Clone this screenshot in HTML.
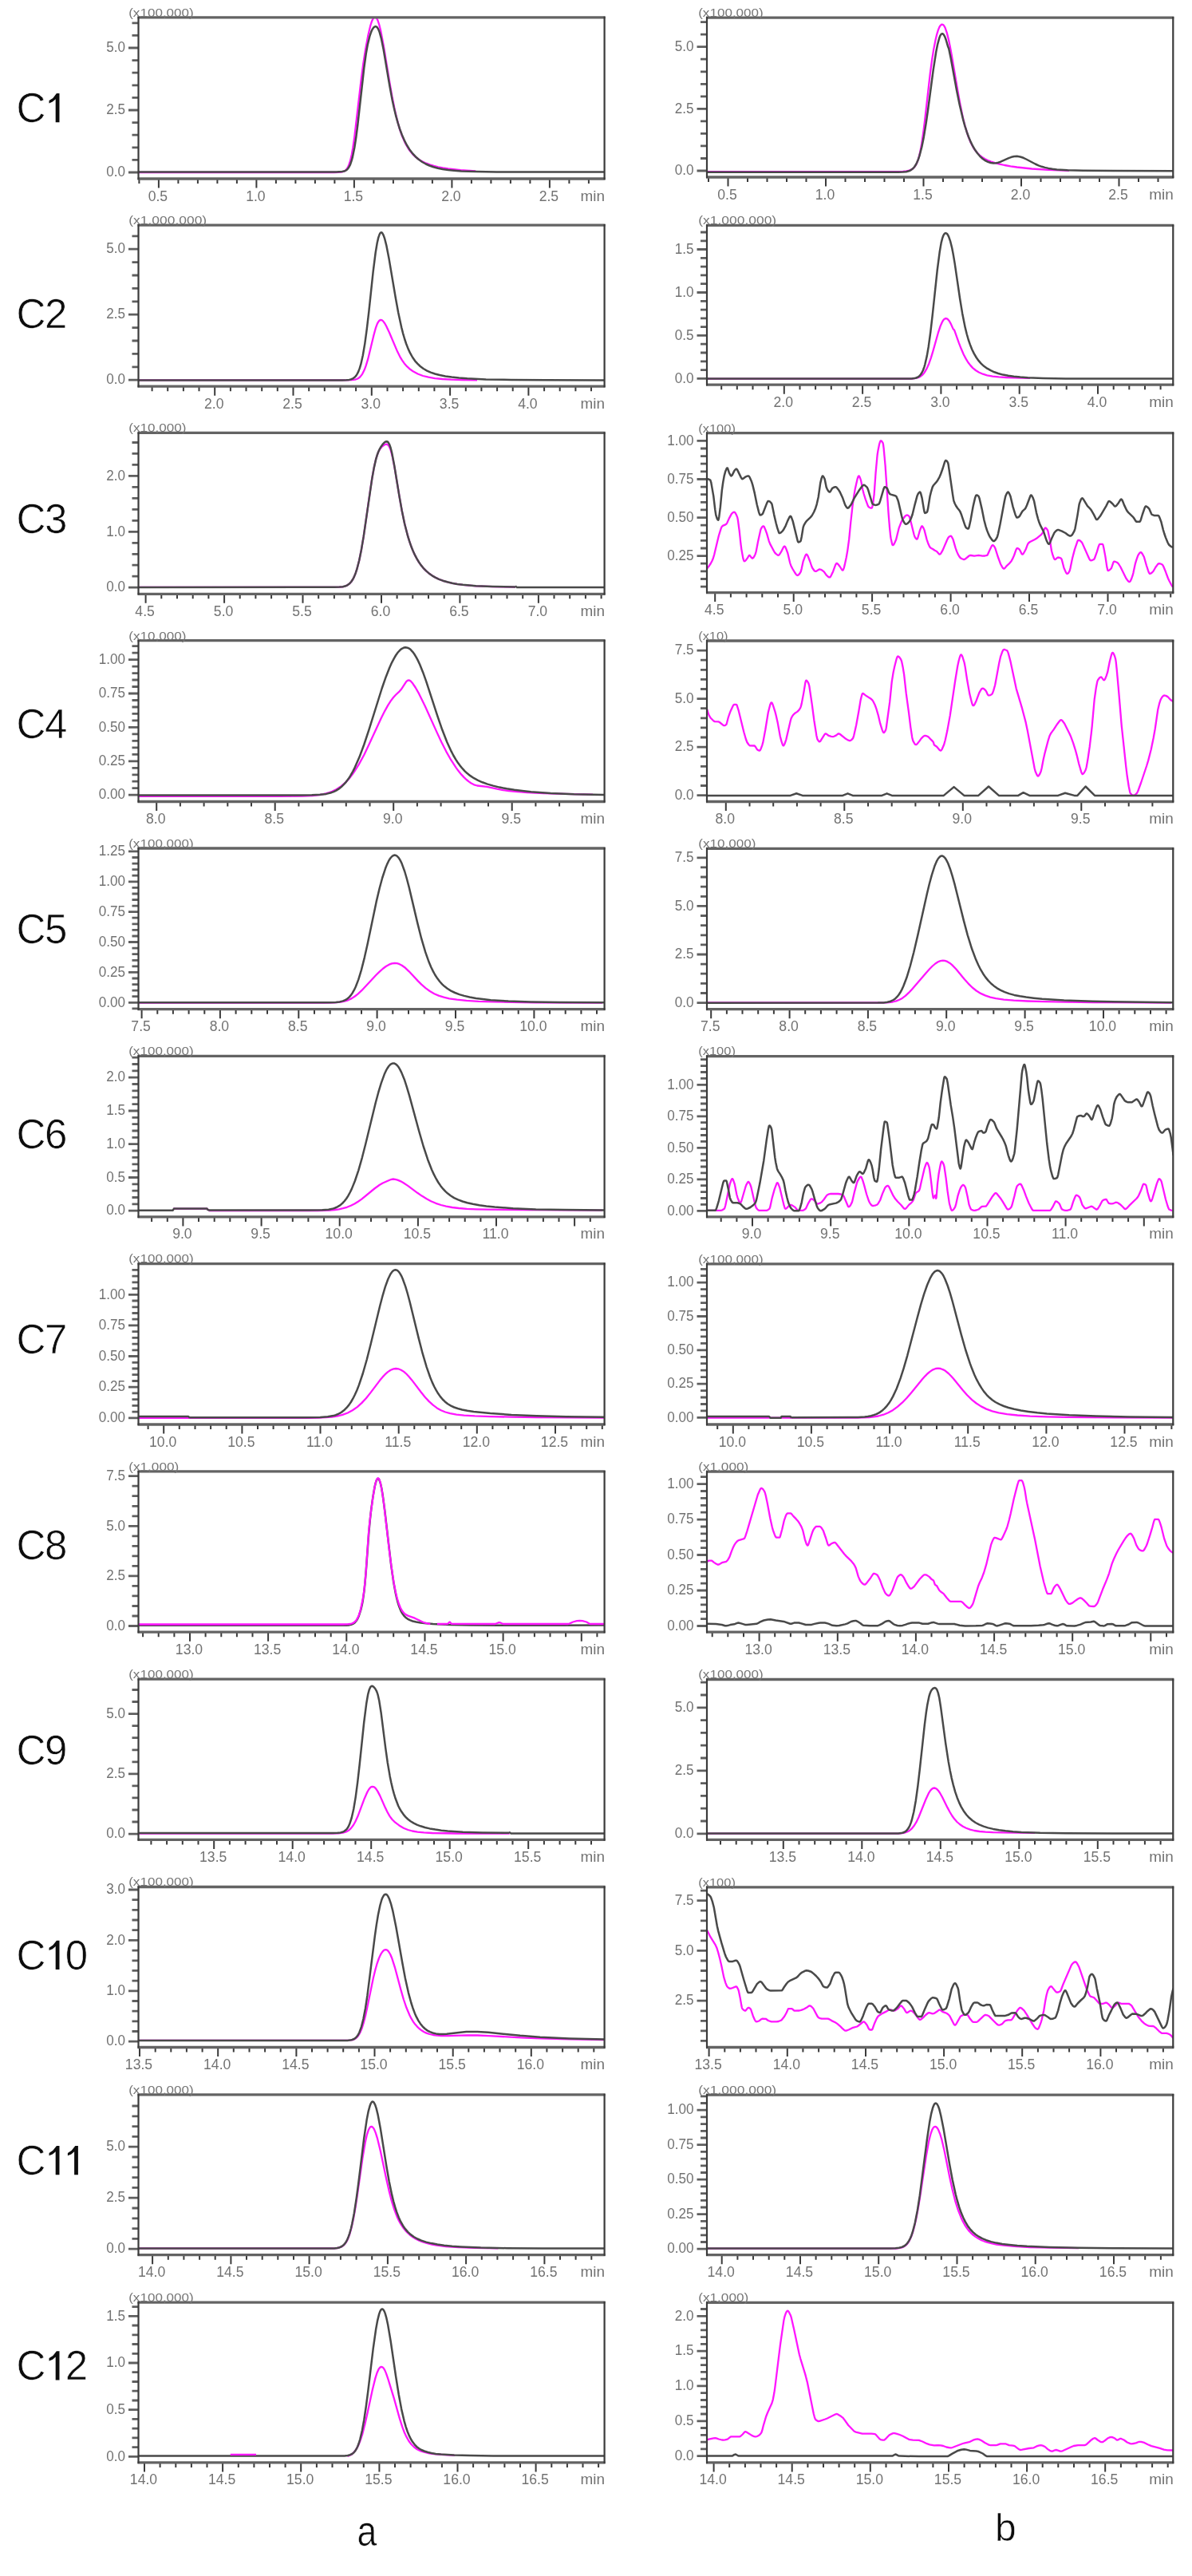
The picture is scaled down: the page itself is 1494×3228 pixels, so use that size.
<!DOCTYPE html><html><head><meta charset="utf-8"><style>html,body{margin:0;padding:0;background:#fff;}svg{display:block;}text{font-family:"Liberation Sans",sans-serif;}.ax{}.big{fill:#111;stroke:#fff;stroke-width:0.6px;paint-order:normal;}</style></head><body>
<svg width="1494" height="3228" viewBox="0 0 1494 3228">
<defs><filter id="soft" x="0" y="0" width="100%" height="100%" filterUnits="userSpaceOnUse"><feGaussianBlur stdDeviation="0.55"/></filter></defs>
<rect width="1494" height="3228" fill="#fff"/>
<g filter="url(#soft)">
<text class="big" x="20.6" y="153.3" font-size="51">C</text>
<path d="M70.9 117.1 L74.5 117.1 L74.5 153.3 L69.7 153.3 L69.7 124.3 L65.9 127.6 L61.5 129.4 L61.5 126.0 L66.3 122.9Z" fill="#111"/>
<text class="big" x="20.6" y="410.5" font-size="51">C</text>
<text class="big" x="56.0" y="410.5" font-size="51">2</text>
<text class="big" x="20.6" y="667.7" font-size="51">C</text>
<text class="big" x="56.0" y="667.7" font-size="51">3</text>
<text class="big" x="20.6" y="924.9" font-size="51">C</text>
<text class="big" x="56.0" y="924.9" font-size="51">4</text>
<text class="big" x="20.6" y="1182.1" font-size="51">C</text>
<text class="big" x="56.0" y="1182.1" font-size="51">5</text>
<text class="big" x="20.6" y="1439.2" font-size="51">C</text>
<text class="big" x="56.0" y="1439.2" font-size="51">6</text>
<text class="big" x="20.6" y="1696.4" font-size="51">C</text>
<text class="big" x="56.0" y="1696.4" font-size="51">7</text>
<text class="big" x="20.6" y="1953.6" font-size="51">C</text>
<text class="big" x="56.0" y="1953.6" font-size="51">8</text>
<text class="big" x="20.6" y="2210.8" font-size="51">C</text>
<text class="big" x="56.0" y="2210.8" font-size="51">9</text>
<text class="big" x="20.6" y="2468.0" font-size="51">C</text>
<path d="M70.9 2431.8 L74.5 2431.8 L74.5 2468.0 L69.7 2468.0 L69.7 2439.1 L65.9 2442.3 L61.5 2444.1 L61.5 2440.7 L66.3 2437.6Z" fill="#111"/>
<text class="big" x="81.8" y="2468.0" font-size="51">0</text>
<text class="big" x="20.6" y="2725.2" font-size="51">C</text>
<path d="M70.9 2689.0 L74.5 2689.0 L74.5 2725.2 L69.7 2725.2 L69.7 2696.2 L65.9 2699.5 L61.5 2701.3 L61.5 2697.9 L66.3 2694.8Z" fill="#111"/>
<path d="M94.3 2689.0 L97.9 2689.0 L97.9 2725.2 L93.1 2725.2 L93.1 2696.2 L89.3 2699.5 L84.9 2701.3 L84.9 2697.9 L89.7 2694.8Z" fill="#111"/>
<text class="big" x="20.6" y="2982.4" font-size="51">C</text>
<path d="M70.9 2946.2 L74.5 2946.2 L74.5 2982.4 L69.7 2982.4 L69.7 2953.4 L65.9 2956.7 L61.5 2958.5 L61.5 2955.1 L66.3 2952.0Z" fill="#111"/>
<text class="big" x="81.8" y="2982.4" font-size="51">2</text>
<clipPath id="c0_0"><rect x="173.5" y="21.8" width="584.1" height="202.2"/></clipPath>
<path d="M161.0 216.0H173.5M165.5 200.4H173.5M165.5 184.8H173.5M165.5 169.2H173.5M165.5 153.6H173.5M161.0 138.0H173.5M165.5 122.4H173.5M165.5 106.8H173.5M165.5 91.2H173.5M165.5 75.6H173.5M161.0 60.0H173.5M165.5 44.4H173.5M165.5 28.8H173.5" stroke="#5e5e5e" stroke-width="2.8" fill="none"/>
<text class="ax" x="157.0" y="221.2" font-size="18" fill="#727272" text-anchor="end" textLength="23.8" lengthAdjust="spacingAndGlyphs">0.0</text>
<text class="ax" x="157.0" y="143.2" font-size="18" fill="#727272" text-anchor="end" textLength="23.8" lengthAdjust="spacingAndGlyphs">2.5</text>
<text class="ax" x="157.0" y="65.2" font-size="18" fill="#727272" text-anchor="end" textLength="23.8" lengthAdjust="spacingAndGlyphs">5.0</text>
<path d="M174.4 224.0V230.0M198.9 224.0V235.5M223.4 224.0V230.0M247.9 224.0V230.0M272.4 224.0V230.0M296.9 224.0V230.0M321.4 224.0V235.5M345.9 224.0V230.0M370.4 224.0V230.0M394.9 224.0V230.0M419.4 224.0V230.0M443.9 224.0V235.5M468.4 224.0V230.0M492.9 224.0V230.0M517.4 224.0V230.0M541.9 224.0V230.0M566.4 224.0V235.5M590.9 224.0V230.0M615.4 224.0V230.0M639.9 224.0V230.0M664.4 224.0V230.0M688.9 224.0V235.5M713.4 224.0V230.0M737.9 224.0V230.0" stroke="#3a3a3a" stroke-width="2.0" fill="none"/>
<text class="ax" x="197.9" y="251.5" font-size="18" fill="#727272" text-anchor="middle" textLength="24.5" lengthAdjust="spacingAndGlyphs">0.5</text>
<text class="ax" x="320.4" y="251.5" font-size="18" fill="#727272" text-anchor="middle" textLength="24.5" lengthAdjust="spacingAndGlyphs">1.0</text>
<text class="ax" x="442.9" y="251.5" font-size="18" fill="#727272" text-anchor="middle" textLength="24.5" lengthAdjust="spacingAndGlyphs">1.5</text>
<text class="ax" x="565.4" y="251.5" font-size="18" fill="#727272" text-anchor="middle" textLength="24.5" lengthAdjust="spacingAndGlyphs">2.0</text>
<text class="ax" x="687.9" y="251.5" font-size="18" fill="#727272" text-anchor="middle" textLength="24.5" lengthAdjust="spacingAndGlyphs">2.5</text>
<text x="758.1" y="251.5" font-size="18" fill="#727272" text-anchor="end" textLength="30.5" lengthAdjust="spacingAndGlyphs">min</text>
<g clip-path="url(#c0_0)"><path d="M173.0 216.0L418.8 216.0L424.3 215.9L427.8 215.6L430.3 215.0L432.3 214.1L433.8 212.8L434.8 211.6L436.8 208.0L438.8 202.2L440.8 193.7L442.3 185.2L444.3 171.3L452.8 98.6L455.3 79.9L458.3 60.7L461.3 44.6L464.3 32.0L465.8 27.3L467.3 23.9L468.8 21.9L469.8 21.4L470.8 21.6L471.3 22.0L472.3 23.3L473.3 25.2L475.3 31.0L477.3 39.1L480.8 57.4L487.8 100.2L491.3 120.3L494.8 137.8L497.8 150.4L500.7 161.0L504.2 171.0L507.7 178.9L511.7 186.0L514.2 189.5L517.2 193.1L520.2 196.1L523.2 198.5L526.7 200.9L530.2 202.9L534.2 204.7L538.7 206.4L543.7 207.9L549.2 209.3L555.2 210.4L561.7 211.4L577.2 213.1L596.2 214.3" stroke="#ff14ff" stroke-width="2.3" fill="none" stroke-linejoin="round"/><path d="M173.0 215.5L421.3 215.5L428.8 215.1L431.3 214.6L433.3 213.7L435.3 212.2L436.8 210.3L438.3 207.7L439.3 205.4L440.8 200.9L441.8 197.2L444.3 185.0L446.3 172.1L448.3 156.5L456.3 85.0L458.8 67.1L460.8 56.0L463.3 45.7L464.3 42.6L465.7 38.8L466.7 36.8L468.2 34.6L469.7 33.4L470.7 33.1L471.7 33.4L472.7 34.2L474.2 36.6L475.7 40.4L477.7 47.6L480.7 62.3L488.2 106.8L491.7 125.5L493.7 134.8L496.2 145.2L498.7 154.2L501.2 162.0L503.7 168.7L506.7 175.6L509.7 181.5L513.2 187.2L516.7 191.8L520.7 196.2L524.7 199.8L529.2 203.0L533.7 205.5L538.2 207.5L543.2 209.2L548.7 210.7L554.7 211.9L561.7 213.0L569.2 213.7L578.2 214.4L596.6 215.0L622.6 215.4L757.0 215.5" stroke="#4a4a4a" stroke-width="2.5" fill="none" stroke-linejoin="round"/></g>
<path d="M172.5 21.8H758.6M172.5 224.0H758.6" stroke="#646464" stroke-width="3.3" fill="none"/>
<path d="M173.5 20.8V225.0M757.6 20.8V225.0" stroke="#3a3a3a" stroke-width="2.2" fill="none"/>
<text x="161.2" y="20.6" font-size="14" fill="#777" textLength="81.6" lengthAdjust="spacingAndGlyphs">(x100,000)</text>
<clipPath id="c0_1"><rect x="886.0" y="22.1" width="584.3" height="199.9"/></clipPath>
<path d="M873.5 214.0H886.0M878.0 198.5H886.0M878.0 182.9H886.0M878.0 167.4H886.0M878.0 151.9H886.0M873.5 136.4H886.0M878.0 120.8H886.0M878.0 105.3H886.0M878.0 89.8H886.0M878.0 74.2H886.0M873.5 58.7H886.0M878.0 43.2H886.0M878.0 27.6H886.0" stroke="#5e5e5e" stroke-width="2.8" fill="none"/>
<text class="ax" x="869.5" y="219.2" font-size="18" fill="#727272" text-anchor="end" textLength="23.8" lengthAdjust="spacingAndGlyphs">0.0</text>
<text class="ax" x="869.5" y="141.6" font-size="18" fill="#727272" text-anchor="end" textLength="23.8" lengthAdjust="spacingAndGlyphs">2.5</text>
<text class="ax" x="869.5" y="63.9" font-size="18" fill="#727272" text-anchor="end" textLength="23.8" lengthAdjust="spacingAndGlyphs">5.0</text>
<path d="M888.0 222.0V228.0M912.5 222.0V233.5M937.0 222.0V228.0M961.5 222.0V228.0M986.0 222.0V228.0M1010.5 222.0V228.0M1035.0 222.0V233.5M1059.5 222.0V228.0M1084.0 222.0V228.0M1108.5 222.0V228.0M1133.0 222.0V228.0M1157.5 222.0V233.5M1182.0 222.0V228.0M1206.5 222.0V228.0M1231.0 222.0V228.0M1255.5 222.0V228.0M1280.0 222.0V233.5M1304.5 222.0V228.0M1329.0 222.0V228.0M1353.5 222.0V228.0M1378.0 222.0V228.0M1402.5 222.0V233.5M1427.0 222.0V228.0M1451.5 222.0V228.0" stroke="#3a3a3a" stroke-width="2.0" fill="none"/>
<text class="ax" x="911.5" y="249.5" font-size="18" fill="#727272" text-anchor="middle" textLength="24.5" lengthAdjust="spacingAndGlyphs">0.5</text>
<text class="ax" x="1034.0" y="249.5" font-size="18" fill="#727272" text-anchor="middle" textLength="24.5" lengthAdjust="spacingAndGlyphs">1.0</text>
<text class="ax" x="1156.5" y="249.5" font-size="18" fill="#727272" text-anchor="middle" textLength="24.5" lengthAdjust="spacingAndGlyphs">1.5</text>
<text class="ax" x="1279.0" y="249.5" font-size="18" fill="#727272" text-anchor="middle" textLength="24.5" lengthAdjust="spacingAndGlyphs">2.0</text>
<text class="ax" x="1401.5" y="249.5" font-size="18" fill="#727272" text-anchor="middle" textLength="24.5" lengthAdjust="spacingAndGlyphs">2.5</text>
<text x="1470.8" y="249.5" font-size="18" fill="#727272" text-anchor="end" textLength="30.5" lengthAdjust="spacingAndGlyphs">min</text>
<g clip-path="url(#c0_1)"><path d="M886.0 215.1L1125.2 215.1L1131.7 214.9L1136.2 214.4L1139.7 213.6L1142.7 212.3L1144.7 210.8L1146.2 209.2L1147.7 207.1L1148.7 205.2L1150.2 201.6L1151.2 198.6L1153.2 190.8L1155.2 180.1L1157.2 166.4L1159.2 150.3L1165.7 93.0L1168.2 74.4L1170.2 61.9L1172.7 49.2L1174.2 43.1L1175.7 38.2L1177.2 34.4L1178.2 32.6L1179.7 30.9L1180.7 30.6L1181.7 30.8L1182.7 31.7L1183.7 33.1L1184.7 35.1L1186.7 40.9L1188.7 48.6L1190.7 58.0L1192.7 68.7L1200.2 112.9L1203.2 129.4L1206.6 146.2L1209.6 158.3L1213.1 169.7L1216.6 178.5L1218.6 182.5L1220.6 186.0L1222.6 188.8L1224.6 191.3L1227.6 194.3L1230.6 196.7L1234.1 199.0L1237.6 200.7L1242.1 202.6L1247.1 204.2L1252.6 205.6L1259.1 207.0L1266.6 208.4L1274.6 209.5L1293.1 211.5L1314.5 212.9L1340.0 213.9" stroke="#ff14ff" stroke-width="2.3" fill="none" stroke-linejoin="round"/><path d="M886.0 215.8L1125.8 215.8L1131.8 215.6L1135.8 215.2L1139.3 214.3L1141.8 213.1L1143.8 211.6L1145.8 209.5L1147.8 206.5L1149.3 203.6L1150.8 200.0L1152.3 195.6L1155.3 184.2L1157.8 171.9L1160.8 153.6L1163.3 136.0L1169.8 87.2L1173.3 64.7L1175.3 54.8L1177.3 47.6L1178.2 45.1L1179.2 43.4L1180.2 42.4L1181.2 42.2L1181.7 42.4L1182.7 43.3L1184.2 45.9L1185.7 50.0L1188.2 58.6L1189.2 61.0L1191.7 73.1L1199.2 113.9L1202.7 131.2L1207.2 150.1L1209.2 157.3L1211.7 165.2L1214.2 172.0L1216.7 177.9L1219.2 183.0L1222.2 188.1L1225.2 192.3L1228.2 195.8L1231.7 199.0L1235.2 201.4L1238.2 202.9L1241.7 204.0L1245.2 204.4L1248.7 204.2L1251.2 203.7L1254.2 202.7L1264.2 198.1L1267.7 196.8L1271.2 196.0L1274.7 195.8L1278.7 196.5L1282.7 197.8L1286.2 199.5L1297.6 205.5L1301.6 207.3L1305.6 208.8L1309.6 209.9L1314.1 210.9L1319.1 211.8L1324.6 212.4L1338.1 213.2L1357.6 213.7L1470.0 214.3" stroke="#4a4a4a" stroke-width="2.5" fill="none" stroke-linejoin="round"/></g>
<path d="M885.0 22.1H1471.3M885.0 222.0H1471.3" stroke="#646464" stroke-width="3.3" fill="none"/>
<path d="M886.0 21.1V223.0M1470.3 21.1V223.0" stroke="#3a3a3a" stroke-width="2.2" fill="none"/>
<text x="875.2" y="20.9" font-size="14" fill="#777" textLength="81.6" lengthAdjust="spacingAndGlyphs">(x100,000)</text>
<clipPath id="c1_0"><rect x="173.5" y="282.1" width="584.1" height="202.1"/></clipPath>
<path d="M161.0 476.2H173.5M165.5 459.8H173.5M165.5 443.4H173.5M165.5 427.0H173.5M165.5 410.6H173.5M161.0 394.2H173.5M165.5 377.8H173.5M165.5 361.4H173.5M165.5 345.0H173.5M165.5 328.6H173.5M161.0 312.2H173.5M165.5 295.8H173.5" stroke="#5e5e5e" stroke-width="2.8" fill="none"/>
<text class="ax" x="157.0" y="481.4" font-size="18" fill="#727272" text-anchor="end" textLength="23.8" lengthAdjust="spacingAndGlyphs">0.0</text>
<text class="ax" x="157.0" y="399.4" font-size="18" fill="#727272" text-anchor="end" textLength="23.8" lengthAdjust="spacingAndGlyphs">2.5</text>
<text class="ax" x="157.0" y="317.4" font-size="18" fill="#727272" text-anchor="end" textLength="23.8" lengthAdjust="spacingAndGlyphs">5.0</text>
<path d="M190.6 484.2V490.2M210.2 484.2V490.2M229.9 484.2V490.2M249.5 484.2V490.2M269.2 484.2V495.7M288.9 484.2V490.2M308.5 484.2V490.2M328.2 484.2V490.2M347.8 484.2V490.2M367.5 484.2V495.7M387.2 484.2V490.2M406.8 484.2V490.2M426.5 484.2V490.2M446.1 484.2V490.2M465.8 484.2V495.7M485.5 484.2V490.2M505.1 484.2V490.2M524.8 484.2V490.2M544.4 484.2V490.2M564.1 484.2V495.7M583.8 484.2V490.2M603.4 484.2V490.2M623.1 484.2V490.2M642.7 484.2V490.2M662.4 484.2V495.7M682.1 484.2V490.2M701.7 484.2V490.2M721.4 484.2V490.2M741.0 484.2V490.2" stroke="#3a3a3a" stroke-width="2.0" fill="none"/>
<text class="ax" x="268.2" y="511.7" font-size="18" fill="#727272" text-anchor="middle" textLength="24.5" lengthAdjust="spacingAndGlyphs">2.0</text>
<text class="ax" x="366.5" y="511.7" font-size="18" fill="#727272" text-anchor="middle" textLength="24.5" lengthAdjust="spacingAndGlyphs">2.5</text>
<text class="ax" x="464.8" y="511.7" font-size="18" fill="#727272" text-anchor="middle" textLength="24.5" lengthAdjust="spacingAndGlyphs">3.0</text>
<text class="ax" x="563.1" y="511.7" font-size="18" fill="#727272" text-anchor="middle" textLength="24.5" lengthAdjust="spacingAndGlyphs">3.5</text>
<text class="ax" x="661.4" y="511.7" font-size="18" fill="#727272" text-anchor="middle" textLength="24.5" lengthAdjust="spacingAndGlyphs">4.0</text>
<text x="758.1" y="511.7" font-size="18" fill="#727272" text-anchor="end" textLength="30.5" lengthAdjust="spacingAndGlyphs">min</text>
<g clip-path="url(#c1_0)"><path d="M173.0 476.4L432.2 476.4L440.7 476.2L445.2 475.6L447.2 475.0L448.7 474.3L450.2 473.3L451.7 471.9L454.2 468.6L456.7 463.6L458.7 458.2L461.2 449.9L468.2 420.9L471.1 410.3L472.6 406.3L474.1 403.4L475.6 401.6L477.1 400.9L478.6 401.2L480.1 402.4L482.1 405.0L484.1 408.5L488.1 417.0L498.1 440.6L501.1 446.6L503.6 450.9L506.6 455.2L510.1 459.2L514.1 462.8L518.1 465.6L523.6 468.5L530.1 471.0L537.1 472.7L545.1 474.1L554.6 475.0L565.5 475.7L579.5 476.1L598.0 476.3" stroke="#ff14ff" stroke-width="2.3" fill="none" stroke-linejoin="round"/><path d="M173.0 476.4L428.8 476.4L434.3 476.2L437.8 475.9L440.3 475.2L442.8 474.1L444.8 472.5L446.3 470.8L447.8 468.4L449.3 465.4L450.8 461.4L452.3 456.4L454.8 445.3L457.3 430.6L459.8 412.2L462.3 390.8L467.7 340.2L470.7 316.5L472.7 304.5L474.2 297.9L475.7 293.6L476.7 291.9L477.7 291.3L478.2 291.3L479.2 292.1L480.7 294.8L482.2 299.2L484.2 307.1L487.7 325.1L495.7 372.5L499.2 391.7L503.2 410.3L505.2 418.1L507.2 425.0L509.2 431.0L511.7 437.4L514.2 442.7L517.2 448.0L520.2 452.3L523.2 455.7L526.7 459.0L530.7 462.0L535.2 464.6L539.7 466.6L545.2 468.5L551.2 470.0L558.2 471.4L566.2 472.5L575.2 473.5L585.6 474.3L609.1 475.4L640.6 476.0L683.6 476.3L757.0 476.4" stroke="#4a4a4a" stroke-width="2.5" fill="none" stroke-linejoin="round"/></g>
<path d="M172.5 282.1H758.6M172.5 484.2H758.6" stroke="#646464" stroke-width="3.3" fill="none"/>
<path d="M173.5 281.1V485.2M757.6 281.1V485.2" stroke="#3a3a3a" stroke-width="2.2" fill="none"/>
<text x="161.2" y="280.9" font-size="14" fill="#777" textLength="98.0" lengthAdjust="spacingAndGlyphs">(x1,000,000)</text>
<clipPath id="c1_1"><rect x="886.0" y="282.4" width="584.3" height="199.8"/></clipPath>
<path d="M873.5 474.4H886.0M878.0 463.6H886.0M878.0 452.8H886.0M878.0 442.0H886.0M878.0 431.2H886.0M873.5 420.4H886.0M878.0 409.7H886.0M878.0 398.9H886.0M878.0 388.1H886.0M878.0 377.3H886.0M873.5 366.5H886.0M878.0 355.7H886.0M878.0 344.9H886.0M878.0 334.1H886.0M878.0 323.3H886.0M873.5 312.5H886.0M878.0 301.8H886.0M878.0 291.0H886.0" stroke="#5e5e5e" stroke-width="2.8" fill="none"/>
<text class="ax" x="869.5" y="479.6" font-size="18" fill="#727272" text-anchor="end" textLength="23.8" lengthAdjust="spacingAndGlyphs">0.0</text>
<text class="ax" x="869.5" y="425.6" font-size="18" fill="#727272" text-anchor="end" textLength="23.8" lengthAdjust="spacingAndGlyphs">0.5</text>
<text class="ax" x="869.5" y="371.7" font-size="18" fill="#727272" text-anchor="end" textLength="23.8" lengthAdjust="spacingAndGlyphs">1.0</text>
<text class="ax" x="869.5" y="317.7" font-size="18" fill="#727272" text-anchor="end" textLength="23.8" lengthAdjust="spacingAndGlyphs">1.5</text>
<path d="M904.2 482.2V488.2M923.8 482.2V488.2M943.5 482.2V488.2M963.1 482.2V488.2M982.8 482.2V493.7M1002.5 482.2V488.2M1022.1 482.2V488.2M1041.8 482.2V488.2M1061.4 482.2V488.2M1081.1 482.2V493.7M1100.8 482.2V488.2M1120.4 482.2V488.2M1140.1 482.2V488.2M1159.7 482.2V488.2M1179.4 482.2V493.7M1199.1 482.2V488.2M1218.7 482.2V488.2M1238.4 482.2V488.2M1258.0 482.2V488.2M1277.7 482.2V493.7M1297.4 482.2V488.2M1317.0 482.2V488.2M1336.7 482.2V488.2M1356.3 482.2V488.2M1376.0 482.2V493.7M1395.7 482.2V488.2M1415.3 482.2V488.2M1435.0 482.2V488.2M1454.6 482.2V488.2" stroke="#3a3a3a" stroke-width="2.0" fill="none"/>
<text class="ax" x="981.8" y="509.7" font-size="18" fill="#727272" text-anchor="middle" textLength="24.5" lengthAdjust="spacingAndGlyphs">2.0</text>
<text class="ax" x="1080.1" y="509.7" font-size="18" fill="#727272" text-anchor="middle" textLength="24.5" lengthAdjust="spacingAndGlyphs">2.5</text>
<text class="ax" x="1178.4" y="509.7" font-size="18" fill="#727272" text-anchor="middle" textLength="24.5" lengthAdjust="spacingAndGlyphs">3.0</text>
<text class="ax" x="1276.7" y="509.7" font-size="18" fill="#727272" text-anchor="middle" textLength="24.5" lengthAdjust="spacingAndGlyphs">3.5</text>
<text class="ax" x="1375.0" y="509.7" font-size="18" fill="#727272" text-anchor="middle" textLength="24.5" lengthAdjust="spacingAndGlyphs">4.0</text>
<text x="1470.8" y="509.7" font-size="18" fill="#727272" text-anchor="end" textLength="30.5" lengthAdjust="spacingAndGlyphs">min</text>
<g clip-path="url(#c1_1)"><path d="M886.0 474.7L1133.8 474.7L1143.3 474.5L1146.3 474.2L1148.8 473.7L1150.8 473.1L1152.8 472.2L1155.8 470.1L1157.3 468.5L1158.8 466.6L1161.8 461.4L1164.3 455.7L1166.8 448.6L1169.3 440.3L1175.8 417.2L1178.8 408.2L1180.8 403.7L1182.3 401.2L1183.3 400.1L1184.3 399.3L1185.8 399.0L1186.8 399.3L1187.8 399.9L1189.8 402.3L1191.8 405.9L1194.8 412.6L1195.8 413.2L1196.3 414.2L1201.8 429.6L1204.8 437.3L1207.8 444.2L1210.8 449.9L1213.3 454.0L1216.3 457.9L1219.3 461.1L1222.8 464.0L1226.8 466.5L1231.8 468.7L1237.2 470.3L1244.2 471.6L1251.7 472.4L1261.2 473.0L1291.2 473.8" stroke="#ff14ff" stroke-width="2.3" fill="none" stroke-linejoin="round"/><path d="M886.0 474.5L1137.3 474.5L1142.3 474.4L1145.8 474.1L1148.3 473.5L1150.8 472.3L1152.3 471.2L1153.8 469.5L1155.3 467.2L1156.8 464.2L1158.3 460.1L1159.3 456.8L1161.8 445.9L1163.8 434.2L1166.3 416.0L1168.8 394.3L1174.8 338.0L1177.8 315.2L1179.7 304.1L1181.2 298.3L1182.2 295.5L1183.2 293.6L1184.2 292.5L1185.2 292.1L1186.2 292.4L1187.2 293.3L1188.2 294.8L1189.2 296.9L1191.2 302.7L1193.2 310.8L1194.7 318.5L1196.7 330.4L1203.2 374.7L1206.2 392.9L1209.7 410.4L1211.7 418.5L1213.7 425.5L1215.7 431.4L1218.2 437.7L1220.7 442.9L1223.7 448.0L1226.7 452.2L1229.7 455.6L1233.2 458.8L1237.2 461.7L1241.7 464.2L1246.2 466.3L1251.2 468.0L1257.2 469.6L1263.7 470.8L1270.7 471.8L1278.7 472.6L1288.2 473.3L1307.6 474.0L1335.6 474.4L1470.0 474.5" stroke="#4a4a4a" stroke-width="2.5" fill="none" stroke-linejoin="round"/></g>
<path d="M885.0 282.4H1471.3M885.0 482.2H1471.3" stroke="#646464" stroke-width="3.3" fill="none"/>
<path d="M886.0 281.4V483.2M1470.3 281.4V483.2" stroke="#3a3a3a" stroke-width="2.2" fill="none"/>
<text x="875.2" y="281.2" font-size="14" fill="#777" textLength="98.0" lengthAdjust="spacingAndGlyphs">(x1,000,000)</text>
<clipPath id="c2_0"><rect x="173.5" y="542.4" width="584.1" height="201.9"/></clipPath>
<path d="M161.0 736.2H173.5M165.5 722.2H173.5M165.5 708.2H173.5M165.5 694.3H173.5M165.5 680.3H173.5M161.0 666.3H173.5M165.5 652.3H173.5M165.5 638.3H173.5M165.5 624.4H173.5M165.5 610.4H173.5M161.0 596.4H173.5M165.5 582.4H173.5M165.5 568.4H173.5M165.5 554.5H173.5" stroke="#5e5e5e" stroke-width="2.8" fill="none"/>
<text class="ax" x="157.0" y="741.4" font-size="18" fill="#727272" text-anchor="end" textLength="23.8" lengthAdjust="spacingAndGlyphs">0.0</text>
<text class="ax" x="157.0" y="671.5" font-size="18" fill="#727272" text-anchor="end" textLength="23.8" lengthAdjust="spacingAndGlyphs">1.0</text>
<text class="ax" x="157.0" y="601.6" font-size="18" fill="#727272" text-anchor="end" textLength="23.8" lengthAdjust="spacingAndGlyphs">2.0</text>
<path d="M182.6 744.3V755.8M202.3 744.3V750.3M222.0 744.3V750.3M241.7 744.3V750.3M261.4 744.3V750.3M281.1 744.3V755.8M300.7 744.3V750.3M320.4 744.3V750.3M340.1 744.3V750.3M359.8 744.3V750.3M379.5 744.3V755.8M399.2 744.3V750.3M418.9 744.3V750.3M438.6 744.3V750.3M458.3 744.3V750.3M478.0 744.3V755.8M497.6 744.3V750.3M517.3 744.3V750.3M537.0 744.3V750.3M556.7 744.3V750.3M576.4 744.3V755.8M596.1 744.3V750.3M615.8 744.3V750.3M635.5 744.3V750.3M655.2 744.3V750.3M674.9 744.3V755.8M694.5 744.3V750.3M714.2 744.3V750.3M733.9 744.3V750.3M753.6 744.3V750.3" stroke="#3a3a3a" stroke-width="2.0" fill="none"/>
<text class="ax" x="181.6" y="771.8" font-size="18" fill="#727272" text-anchor="middle" textLength="24.5" lengthAdjust="spacingAndGlyphs">4.5</text>
<text class="ax" x="280.1" y="771.8" font-size="18" fill="#727272" text-anchor="middle" textLength="24.5" lengthAdjust="spacingAndGlyphs">5.0</text>
<text class="ax" x="378.5" y="771.8" font-size="18" fill="#727272" text-anchor="middle" textLength="24.5" lengthAdjust="spacingAndGlyphs">5.5</text>
<text class="ax" x="477.0" y="771.8" font-size="18" fill="#727272" text-anchor="middle" textLength="24.5" lengthAdjust="spacingAndGlyphs">6.0</text>
<text class="ax" x="575.4" y="771.8" font-size="18" fill="#727272" text-anchor="middle" textLength="24.5" lengthAdjust="spacingAndGlyphs">6.5</text>
<text class="ax" x="673.9" y="771.8" font-size="18" fill="#727272" text-anchor="middle" textLength="24.5" lengthAdjust="spacingAndGlyphs">7.0</text>
<text x="758.1" y="771.8" font-size="18" fill="#727272" text-anchor="end" textLength="30.5" lengthAdjust="spacingAndGlyphs">min</text>
<g clip-path="url(#c2_0)"><path d="M173.0 735.9L418.7 735.9L425.2 735.7L429.2 735.3L432.7 734.5L435.7 733.1L438.2 731.2L440.2 729.0L442.2 726.0L443.7 723.1L445.7 718.2L447.2 713.7L450.2 702.3L452.7 690.1L455.7 672.5L464.2 613.3L466.7 597.3L469.2 583.7L471.2 575.2L473.7 567.6L474.7 565.3L476.2 562.7L478.2 560.2L480.2 558.5L482.2 557.2L484.2 556.7L485.2 556.9L486.2 557.5L487.2 558.6L488.2 560.3L489.7 564.2L491.7 571.6L494.7 586.8L500.7 622.9L504.1 642.1L507.6 658.3L511.6 673.4L513.6 679.7L516.1 686.6L518.1 691.4L520.6 696.7L523.1 701.3L525.6 705.3L528.1 708.8L531.1 712.4L534.6 715.9L538.1 718.8L542.1 721.6L546.1 723.9L550.6 726.0L555.6 727.8L561.1 729.5L567.1 730.8L573.1 731.9L580.1 732.8L596.6 734.3L617.5 735.2L646.0 735.6" stroke="#ff14ff" stroke-width="2.3" fill="none" stroke-linejoin="round"/><path d="M173.0 735.9L419.2 735.8L425.7 735.6L429.7 735.2L433.2 734.3L435.7 733.1L438.2 731.2L440.2 729.0L442.2 726.0L443.7 723.1L445.7 718.2L447.2 713.7L450.2 702.2L452.7 690.0L455.7 672.4L466.2 600.4L468.7 586.4L471.2 575.4L472.7 570.3L474.2 566.2L475.7 562.9L477.2 560.3L479.7 556.7L481.7 554.6L483.2 553.5L484.7 553.2L485.7 553.5L486.7 554.5L488.2 557.2L489.7 561.5L491.2 567.5L494.2 583.2L500.2 620.1L503.7 639.7L507.1 656.3L511.1 671.7L513.1 678.2L515.6 685.3L517.6 690.2L520.1 695.7L522.6 700.4L525.1 704.5L527.6 708.1L530.6 711.8L534.1 715.4L537.6 718.4L541.6 721.3L545.6 723.6L550.1 725.8L555.1 727.7L560.6 729.3L566.6 730.7L573.1 731.9L580.1 732.8L596.6 734.3L617.5 735.1L646.0 735.6" stroke="#4a4a4a" stroke-width="2.5" fill="none" stroke-linejoin="round"/><path d="M646.0 734.4L648.0 736.1L757.0 736.1" stroke="#4a4a4a" stroke-width="2.5" fill="none" stroke-linejoin="round"/></g>
<path d="M172.5 542.4H758.6M172.5 744.3H758.6" stroke="#646464" stroke-width="3.3" fill="none"/>
<path d="M173.5 541.4V745.3M757.6 541.4V745.3" stroke="#3a3a3a" stroke-width="2.2" fill="none"/>
<text x="161.2" y="541.2" font-size="14" fill="#777" textLength="72.3" lengthAdjust="spacingAndGlyphs">(x10,000)</text>
<clipPath id="c2_1"><rect x="886.0" y="542.7" width="584.3" height="199.9"/></clipPath>
<path d="M878.0 735.1H886.0M878.0 725.5H886.0M878.0 715.9H886.0M878.0 706.2H886.0M873.5 696.6H886.0M878.0 687.0H886.0M878.0 677.4H886.0M878.0 667.8H886.0M878.0 658.2H886.0M873.5 648.6H886.0M878.0 638.9H886.0M878.0 629.3H886.0M878.0 619.7H886.0M878.0 610.1H886.0M873.5 600.5H886.0M878.0 590.9H886.0M878.0 581.2H886.0M878.0 571.6H886.0M878.0 562.0H886.0M873.5 552.4H886.0" stroke="#5e5e5e" stroke-width="2.8" fill="none"/>
<text class="ax" x="869.5" y="701.8" font-size="18" fill="#727272" text-anchor="end" textLength="33.3" lengthAdjust="spacingAndGlyphs">0.25</text>
<text class="ax" x="869.5" y="653.8" font-size="18" fill="#727272" text-anchor="end" textLength="33.3" lengthAdjust="spacingAndGlyphs">0.50</text>
<text class="ax" x="869.5" y="605.7" font-size="18" fill="#727272" text-anchor="end" textLength="33.3" lengthAdjust="spacingAndGlyphs">0.75</text>
<text class="ax" x="869.5" y="557.6" font-size="18" fill="#727272" text-anchor="end" textLength="33.3" lengthAdjust="spacingAndGlyphs">1.00</text>
<path d="M896.2 742.6V754.1M915.9 742.6V748.6M935.6 742.6V748.6M955.3 742.6V748.6M975.0 742.6V748.6M994.7 742.6V754.1M1014.3 742.6V748.6M1034.0 742.6V748.6M1053.7 742.6V748.6M1073.4 742.6V748.6M1093.1 742.6V754.1M1112.8 742.6V748.6M1132.5 742.6V748.6M1152.2 742.6V748.6M1171.9 742.6V748.6M1191.6 742.6V754.1M1211.2 742.6V748.6M1230.9 742.6V748.6M1250.6 742.6V748.6M1270.3 742.6V748.6M1290.0 742.6V754.1M1309.7 742.6V748.6M1329.4 742.6V748.6M1349.1 742.6V748.6M1368.8 742.6V748.6M1388.5 742.6V754.1M1408.1 742.6V748.6M1427.8 742.6V748.6M1447.5 742.6V748.6M1467.2 742.6V748.6" stroke="#3a3a3a" stroke-width="2.0" fill="none"/>
<text class="ax" x="895.2" y="770.1" font-size="18" fill="#727272" text-anchor="middle" textLength="24.5" lengthAdjust="spacingAndGlyphs">4.5</text>
<text class="ax" x="993.7" y="770.1" font-size="18" fill="#727272" text-anchor="middle" textLength="24.5" lengthAdjust="spacingAndGlyphs">5.0</text>
<text class="ax" x="1092.1" y="770.1" font-size="18" fill="#727272" text-anchor="middle" textLength="24.5" lengthAdjust="spacingAndGlyphs">5.5</text>
<text class="ax" x="1190.6" y="770.1" font-size="18" fill="#727272" text-anchor="middle" textLength="24.5" lengthAdjust="spacingAndGlyphs">6.0</text>
<text class="ax" x="1289.0" y="770.1" font-size="18" fill="#727272" text-anchor="middle" textLength="24.5" lengthAdjust="spacingAndGlyphs">6.5</text>
<text class="ax" x="1387.5" y="770.1" font-size="18" fill="#727272" text-anchor="middle" textLength="24.5" lengthAdjust="spacingAndGlyphs">7.0</text>
<text x="1470.8" y="770.1" font-size="18" fill="#727272" text-anchor="end" textLength="30.5" lengthAdjust="spacingAndGlyphs">min</text>
<g clip-path="url(#c2_1)"><path d="M886.3 712.2L888.3 709.8L890.8 706.0L892.3 703.2L893.8 699.7L895.3 694.6L900.8 671.5L903.3 663.3L904.3 660.7L904.8 659.8L905.8 658.9L909.3 657.4L910.3 656.7L911.3 655.3L913.8 649.6L916.8 644.1L917.8 642.9L918.8 642.2L920.3 641.7L921.3 642.3L922.8 644.8L924.3 648.7L924.8 651.2L926.8 666.0L928.3 680.5L929.3 688.1L931.3 699.4L932.3 702.8L932.8 703.3L933.8 703.0L934.8 702.0L936.8 699.4L938.8 696.0L939.3 695.8L939.8 696.1L941.8 698.7L942.8 699.6L943.3 699.5L944.3 698.8L945.8 696.4L946.7 694.4L947.7 691.0L950.2 677.9L953.2 664.4L953.7 662.9L954.7 661.1L955.7 659.8L956.7 659.3L957.2 659.5L957.7 660.1L959.2 663.4L961.2 668.9L963.7 677.8L965.2 681.6L970.2 691.0L971.2 692.6L972.7 694.1L974.7 695.6L975.7 695.8L976.2 695.6L977.2 694.5L979.7 690.3L982.2 685.2L982.7 684.7L983.2 684.5L983.7 684.7L984.2 685.3L985.2 687.4L987.2 692.8L990.2 705.5L991.2 708.4L993.2 712.5L996.2 717.5L997.7 719.7L998.7 720.7L999.7 721.0L1000.7 720.5L1002.2 718.9L1003.7 716.4L1004.7 712.6L1006.7 703.3L1009.2 696.6L1010.2 694.9L1010.7 694.6L1011.2 694.7L1011.7 695.2L1012.7 697.1L1015.2 703.5L1017.2 709.5L1018.2 711.8L1020.7 715.2L1021.7 715.9L1022.7 715.9L1026.7 713.5L1027.7 713.5L1029.2 713.9L1030.7 714.8L1032.7 716.3L1035.7 720.6L1037.7 722.5L1039.2 723.4L1040.2 723.4L1040.7 722.9L1041.7 721.3L1044.2 715.9L1047.2 707.6L1048.2 706.1L1048.7 705.9L1049.2 706.0L1050.2 706.8L1052.7 710.0L1055.2 714.0L1055.7 714.5L1056.2 714.7L1056.7 714.3L1057.7 711.9L1058.7 707.9L1060.7 698.8L1062.2 690.3L1064.2 675.7L1066.2 655.0L1068.7 632.3L1070.2 621.9L1071.7 613.1L1074.7 599.8L1075.7 597.0L1076.2 596.4L1076.7 596.5L1077.2 597.2L1078.2 599.5L1079.2 602.6L1081.2 613.2L1082.7 619.0L1084.7 625.3L1087.7 633.6L1088.6 635.2L1090.1 636.1L1091.6 636.6L1092.6 636.7L1093.1 636.0L1094.1 631.3L1095.6 619.8L1097.6 592.0L1099.6 570.3L1100.6 563.9L1102.1 556.5L1103.1 553.3L1103.6 552.5L1104.1 552.4L1105.1 552.9L1106.6 555.2L1107.1 557.6L1107.6 561.6L1109.6 583.5L1113.6 643.7L1115.1 661.9L1116.1 671.5L1116.6 674.7L1118.1 681.5L1118.6 682.8L1119.1 683.2L1119.6 683.0L1120.6 681.8L1123.1 676.3L1126.6 661.9L1129.6 654.2L1131.1 651.3L1134.1 647.2L1135.6 645.8L1136.6 645.5L1137.1 645.5L1138.1 645.9L1139.1 646.6L1139.6 647.2L1140.1 648.4L1141.1 651.8L1145.6 670.0L1146.6 672.9L1147.6 674.4L1148.6 675.4L1149.1 675.7L1149.6 675.5L1150.1 674.7L1152.6 665.7L1154.1 661.7L1155.1 659.6L1155.6 659.3L1156.1 659.6L1157.1 661.0L1158.6 664.4L1161.6 676.1L1163.6 681.8L1165.1 685.0L1166.1 686.2L1167.1 686.9L1169.1 688.0L1171.6 689.8L1174.1 691.0L1177.1 694.4L1177.6 694.6L1178.6 694.2L1179.6 692.9L1181.6 689.4L1187.1 676.5L1188.6 673.6L1190.1 672.2L1191.6 671.6L1192.1 671.7L1192.6 672.2L1194.6 676.1L1197.6 686.6L1199.1 690.9L1200.6 694.4L1202.1 697.0L1203.6 699.0L1205.1 700.0L1207.6 701.0L1208.6 701.0L1209.6 700.6L1214.6 696.5L1215.6 696.0L1217.1 696.0L1221.1 696.7L1226.6 695.9L1231.5 696.7L1234.5 696.5L1237.0 695.9L1237.5 695.5L1238.0 694.8L1240.0 690.2L1243.0 684.1L1244.0 683.1L1244.5 683.2L1245.0 683.5L1246.0 684.6L1247.0 686.2L1247.5 687.3L1250.5 697.0L1254.0 706.7L1256.0 710.3L1257.0 711.8L1258.0 712.5L1258.5 712.5L1259.5 711.9L1262.0 708.8L1265.5 705.6L1267.5 703.2L1269.0 700.4L1271.0 696.0L1273.5 688.9L1274.5 687.1L1275.0 687.0L1275.5 687.1L1277.5 688.3L1278.5 689.8L1280.5 694.0L1281.0 694.6L1281.5 694.6L1282.0 694.4L1283.0 693.2L1285.5 688.8L1288.0 682.2L1289.0 680.5L1291.0 679.0L1297.0 676.0L1299.0 674.8L1304.5 670.4L1307.0 667.6L1309.5 662.0L1310.0 661.4L1310.5 661.4L1311.0 661.7L1312.0 662.8L1313.0 664.3L1313.5 665.7L1316.0 677.5L1318.0 690.3L1319.5 695.7L1321.0 699.7L1322.0 701.0L1322.5 701.0L1323.5 700.4L1325.0 699.0L1326.0 698.5L1328.0 698.8L1330.0 699.8L1330.5 700.6L1331.0 702.0L1333.5 711.8L1336.0 717.4L1337.0 718.7L1337.5 718.9L1338.0 718.9L1339.0 718.1L1340.5 715.7L1341.5 712.1L1344.0 699.8L1347.0 688.4L1350.5 678.1L1351.0 677.2L1351.5 676.8L1352.0 676.8L1353.0 677.1L1354.0 677.8L1355.5 679.2L1356.5 680.6L1365.0 699.8L1366.0 701.5L1366.5 702.1L1367.0 702.3L1368.5 702.1L1370.5 701.3L1371.5 700.4L1372.0 699.5L1374.9 691.4L1376.9 684.7L1377.9 682.3L1378.4 681.9L1381.9 681.9L1382.4 682.6L1383.4 686.7L1385.4 697.4L1387.4 710.8L1388.4 714.8L1388.9 715.1L1390.4 714.5L1391.9 713.2L1392.9 712.1L1395.4 704.9L1395.9 704.0L1396.4 703.6L1397.4 703.7L1399.9 704.7L1400.9 705.4L1401.9 706.5L1404.4 710.5L1411.4 724.8L1413.9 728.1L1414.9 729.0L1415.4 729.2L1415.9 729.1L1416.9 728.0L1417.9 725.8L1419.4 721.7L1420.4 718.1L1422.9 706.3L1424.4 701.3L1425.9 697.1L1426.9 695.0L1428.4 692.9L1429.4 692.1L1429.9 692.1L1430.4 692.3L1431.9 694.2L1433.9 698.0L1436.9 708.5L1438.9 714.6L1439.9 717.3L1440.9 718.8L1441.9 718.8L1442.9 718.3L1445.4 716.0L1448.4 710.7L1450.9 707.4L1451.9 706.4L1452.9 706.2L1453.9 706.3L1456.4 707.3L1457.4 708.3L1458.4 710.2L1460.9 716.3L1463.9 724.5L1465.4 727.8L1467.9 732.5L1469.9 735.6" stroke="#ff14ff" stroke-width="2.3" fill="none" stroke-linejoin="round"/><path d="M886.3 600.2L888.3 600.6L890.3 601.7L891.3 604.6L894.3 621.9L896.3 638.9L897.3 645.4L898.8 650.0L899.8 651.6L900.3 651.7L900.8 650.2L901.3 647.4L902.8 635.7L904.8 614.7L906.3 604.0L907.8 595.8L909.3 590.4L910.8 586.9L911.3 586.4L911.8 586.5L912.3 587.6L913.8 592.2L914.8 594.2L915.8 595.9L916.3 596.4L916.8 596.3L917.8 595.1L920.3 590.1L921.8 588.2L922.8 587.6L923.3 587.8L924.3 589.1L928.8 598.4L929.8 599.9L930.3 600.2L930.8 600.1L931.8 599.5L933.8 597.9L935.8 596.9L937.3 596.5L938.3 596.5L938.8 596.9L939.8 598.4L941.8 602.9L943.3 607.6L945.8 617.9L948.7 632.3L951.2 642.1L952.2 644.8L952.7 645.4L953.7 645.3L954.7 644.8L955.7 644.0L956.2 643.2L961.2 630.4L962.2 628.5L962.7 628.0L963.2 627.9L964.7 628.4L966.7 630.3L967.2 631.1L967.7 632.7L970.2 645.1L972.7 655.8L974.2 661.4L976.2 667.4L976.7 668.1L977.2 668.1L978.2 667.7L980.7 665.6L981.7 664.3L984.7 658.8L987.2 652.6L989.2 648.5L990.2 647.0L990.7 646.7L991.2 647.0L991.7 647.8L993.7 653.1L999.7 677.7L1000.2 678.9L1000.7 679.4L1001.2 679.4L1002.7 678.7L1003.2 678.3L1003.7 677.5L1004.7 672.8L1006.7 660.6L1007.7 657.9L1009.2 655.3L1011.2 652.6L1015.7 648.4L1017.7 646.0L1020.2 641.5L1022.2 636.7L1023.7 631.8L1025.7 623.0L1028.2 605.4L1029.7 599.1L1030.7 596.6L1031.2 596.4L1031.7 596.8L1032.7 598.4L1033.7 600.6L1035.7 610.4L1036.7 612.8L1038.2 615.4L1039.2 616.3L1039.7 616.5L1040.2 616.4L1041.2 615.2L1042.7 612.5L1043.7 611.5L1045.2 610.7L1046.7 610.3L1047.7 610.3L1048.7 610.9L1051.2 614.1L1052.7 616.5L1056.2 624.1L1059.2 632.6L1060.7 635.2L1061.7 636.3L1062.2 636.6L1062.7 636.7L1063.7 636.1L1066.2 633.0L1067.2 631.4L1070.7 624.2L1076.2 615.3L1080.7 609.1L1082.2 607.8L1083.2 607.8L1084.2 608.3L1086.7 610.6L1088.2 614.1L1093.1 630.5L1093.6 631.4L1094.1 631.8L1095.6 632.5L1097.1 632.9L1098.6 632.8L1100.1 632.3L1101.6 631.5L1102.1 630.7L1103.1 627.8L1107.6 612.4L1108.6 610.4L1109.1 610.2L1110.1 610.6L1111.6 611.6L1112.1 612.3L1114.1 617.2L1115.1 618.9L1116.6 619.6L1122.1 621.2L1123.1 621.8L1123.6 622.5L1125.1 625.9L1126.1 629.1L1130.1 646.6L1131.1 650.4L1132.1 652.7L1133.6 655.3L1134.6 656.5L1135.6 656.8L1137.1 656.2L1139.1 654.4L1140.1 653.1L1141.6 650.2L1143.6 644.8L1146.6 632.3L1149.6 621.2L1150.6 619.0L1151.6 617.6L1152.6 616.7L1153.1 616.5L1153.6 617.1L1154.1 618.4L1155.6 624.1L1158.1 639.1L1158.6 641.4L1159.1 642.8L1159.6 642.9L1160.6 642.6L1162.1 641.4L1163.1 637.4L1165.6 621.8L1167.1 615.8L1168.6 610.8L1169.1 609.6L1170.1 608.0L1173.1 604.7L1174.6 602.8L1177.6 597.6L1179.1 594.0L1181.6 587.0L1184.1 578.8L1185.1 577.0L1185.6 577.0L1186.6 577.6L1187.6 579.0L1188.1 579.9L1188.6 581.9L1194.1 619.9L1195.1 626.0L1195.6 628.1L1196.6 630.8L1198.1 633.7L1200.1 636.7L1202.6 639.8L1203.6 641.5L1205.1 645.3L1209.6 658.8L1210.6 660.9L1211.6 661.9L1213.1 662.6L1213.6 662.6L1214.1 661.9L1214.6 660.4L1216.6 651.4L1219.6 634.7L1222.1 623.9L1223.1 621.1L1223.6 620.5L1224.1 620.5L1225.1 620.8L1226.6 622.0L1227.6 624.6L1230.6 637.6L1233.5 652.0L1235.5 659.6L1237.0 664.4L1239.0 669.4L1240.5 672.5L1243.5 676.7L1245.0 677.9L1246.0 677.9L1247.5 676.7L1249.0 674.6L1250.0 672.5L1251.0 668.8L1253.5 657.0L1259.0 627.5L1260.0 622.9L1260.5 621.2L1262.0 618.0L1263.0 616.7L1263.5 616.6L1264.0 616.9L1265.0 618.5L1266.5 622.0L1269.5 634.9L1272.5 644.7L1274.0 648.0L1274.5 648.5L1275.0 648.6L1276.5 648.0L1278.0 646.7L1281.0 641.3L1282.0 640.1L1284.5 637.9L1285.5 636.5L1287.0 633.2L1291.5 621.2L1292.0 620.6L1292.5 620.5L1293.0 620.8L1294.5 623.5L1296.0 627.6L1299.0 642.6L1301.0 650.1L1302.5 654.8L1304.0 658.4L1308.0 666.1L1311.0 675.4L1312.0 678.0L1313.5 680.9L1314.0 681.5L1314.5 681.8L1315.0 681.7L1316.0 680.1L1318.0 675.1L1321.5 667.5L1323.0 665.8L1325.0 664.2L1326.0 663.9L1327.0 664.1L1331.0 665.7L1335.5 668.0L1339.0 670.7L1340.5 671.4L1342.0 671.5L1343.0 670.9L1344.0 669.8L1346.5 665.4L1347.5 662.3L1350.5 645.6L1352.5 632.7L1353.0 630.6L1355.0 625.5L1356.0 624.4L1356.5 624.3L1357.0 624.6L1358.0 625.9L1363.0 634.2L1366.5 637.7L1367.5 638.9L1371.0 644.9L1373.5 650.0L1374.4 651.1L1374.9 651.1L1375.9 650.5L1378.9 646.8L1386.4 634.1L1388.9 629.0L1389.4 628.4L1389.9 628.1L1390.9 628.3L1391.9 629.0L1394.4 631.2L1396.9 634.2L1397.9 634.5L1398.9 633.9L1399.9 632.8L1401.9 630.2L1404.4 626.2L1404.9 625.7L1405.4 625.6L1405.9 625.8L1406.9 627.5L1408.9 632.6L1411.9 639.0L1412.9 640.7L1414.4 642.4L1420.4 648.2L1421.4 649.5L1423.4 652.8L1424.4 653.7L1428.4 653.7L1428.9 653.4L1429.9 651.2L1431.9 644.5L1434.9 635.9L1435.4 635.0L1435.9 634.6L1436.4 634.5L1437.4 634.9L1438.9 636.1L1440.4 637.7L1442.9 643.6L1443.4 644.4L1443.9 644.8L1446.4 645.9L1451.4 646.0L1451.9 646.2L1452.4 646.7L1453.4 648.6L1455.4 654.0L1457.9 664.1L1459.4 669.0L1460.9 673.4L1463.4 679.5L1464.4 681.5L1465.4 683.0L1467.9 685.0L1468.9 685.5L1469.9 685.7" stroke="#4a4a4a" stroke-width="2.5" fill="none" stroke-linejoin="round"/></g>
<path d="M885.0 542.7H1471.3M885.0 742.6H1471.3" stroke="#646464" stroke-width="3.3" fill="none"/>
<path d="M886.0 541.7V743.6M1470.3 541.7V743.6" stroke="#3a3a3a" stroke-width="2.2" fill="none"/>
<text x="875.2" y="541.5" font-size="14" fill="#777" textLength="46.7" lengthAdjust="spacingAndGlyphs">(x100)</text>
<clipPath id="c3_0"><rect x="173.5" y="802.7" width="584.1" height="201.8"/></clipPath>
<path d="M161.0 996.2H173.5M165.5 987.7H173.5M165.5 979.2H173.5M165.5 970.8H173.5M165.5 962.3H173.5M161.0 953.8H173.5M165.5 945.3H173.5M165.5 936.8H173.5M165.5 928.4H173.5M165.5 919.9H173.5M161.0 911.4H173.5M165.5 902.9H173.5M165.5 894.4H173.5M165.5 886.0H173.5M165.5 877.5H173.5M161.0 869.0H173.5M165.5 860.5H173.5M165.5 852.0H173.5M165.5 843.6H173.5M165.5 835.1H173.5M161.0 826.6H173.5M165.5 818.1H173.5M165.5 809.6H173.5" stroke="#5e5e5e" stroke-width="2.8" fill="none"/>
<text class="ax" x="157.0" y="1001.4" font-size="18" fill="#727272" text-anchor="end" textLength="33.3" lengthAdjust="spacingAndGlyphs">0.00</text>
<text class="ax" x="157.0" y="959.0" font-size="18" fill="#727272" text-anchor="end" textLength="33.3" lengthAdjust="spacingAndGlyphs">0.25</text>
<text class="ax" x="157.0" y="916.6" font-size="18" fill="#727272" text-anchor="end" textLength="33.3" lengthAdjust="spacingAndGlyphs">0.50</text>
<text class="ax" x="157.0" y="874.2" font-size="18" fill="#727272" text-anchor="end" textLength="33.3" lengthAdjust="spacingAndGlyphs">0.75</text>
<text class="ax" x="157.0" y="831.8" font-size="18" fill="#727272" text-anchor="end" textLength="33.3" lengthAdjust="spacingAndGlyphs">1.00</text>
<path d="M196.2 1004.5V1016.0M225.9 1004.5V1010.5M255.6 1004.5V1010.5M285.3 1004.5V1010.5M315.0 1004.5V1010.5M344.7 1004.5V1016.0M374.4 1004.5V1010.5M404.1 1004.5V1010.5M433.8 1004.5V1010.5M463.5 1004.5V1010.5M493.2 1004.5V1016.0M522.9 1004.5V1010.5M552.6 1004.5V1010.5M582.3 1004.5V1010.5M612.0 1004.5V1010.5M641.7 1004.5V1016.0M671.4 1004.5V1010.5M701.1 1004.5V1010.5M730.8 1004.5V1010.5" stroke="#3a3a3a" stroke-width="2.0" fill="none"/>
<text class="ax" x="195.2" y="1032.0" font-size="18" fill="#727272" text-anchor="middle" textLength="24.5" lengthAdjust="spacingAndGlyphs">8.0</text>
<text class="ax" x="343.7" y="1032.0" font-size="18" fill="#727272" text-anchor="middle" textLength="24.5" lengthAdjust="spacingAndGlyphs">8.5</text>
<text class="ax" x="492.2" y="1032.0" font-size="18" fill="#727272" text-anchor="middle" textLength="24.5" lengthAdjust="spacingAndGlyphs">9.0</text>
<text class="ax" x="640.7" y="1032.0" font-size="18" fill="#727272" text-anchor="middle" textLength="24.5" lengthAdjust="spacingAndGlyphs">9.5</text>
<text x="758.1" y="1032.0" font-size="18" fill="#727272" text-anchor="end" textLength="30.5" lengthAdjust="spacingAndGlyphs">min</text>
<g clip-path="url(#c3_0)"><path d="M173.0 997.8L349.8 997.8L378.8 997.6L391.3 997.0L400.8 996.0L405.3 995.2L409.3 994.2L412.8 993.1L416.3 991.8L420.3 989.9L423.8 987.8L427.3 985.4L430.8 982.5L434.3 979.2L437.3 975.9L440.8 971.6L443.8 967.4L449.8 957.9L456.3 946.0L462.7 932.6L477.7 900.0L482.2 891.1L486.2 883.9L489.7 878.4L493.2 873.7L496.2 870.5L500.7 866.3L502.7 864.1L509.2 854.2L510.7 852.9L512.2 852.4L513.2 852.6L514.7 853.5L517.2 856.3L520.7 861.5L525.2 869.4L532.7 884.7L547.2 916.9L553.2 929.8L559.2 941.6L565.2 952.2L571.7 962.1L574.6 966.1L578.1 970.4L581.6 974.1L584.6 977.0L587.6 979.4L590.6 981.5L594.1 983.3L598.1 984.5L610.1 985.9L623.1 988.7L630.6 990.1L637.6 991.0L645.6 991.9L661.1 993.0L681.6 994.0L708.5 994.8L743.0 995.6" stroke="#ff14ff" stroke-width="2.3" fill="none" stroke-linejoin="round"/><path d="M173.0 996.5L367.8 996.5L390.8 996.3L401.3 995.8L408.8 994.9L415.3 993.2L418.3 992.1L421.3 990.6L424.8 988.4L427.8 986.1L430.8 983.2L433.8 979.8L436.8 975.8L439.3 971.9L442.3 966.6L444.8 961.6L450.3 949.1L456.3 933.0L462.3 914.9L478.7 862.5L483.7 848.2L488.2 836.8L491.2 830.1L493.7 825.3L496.2 821.0L498.7 817.5L501.2 814.8L503.7 812.8L506.2 811.6L508.2 811.3L510.7 811.7L512.7 812.6L514.7 814.1L517.2 816.8L519.2 819.5L521.7 823.6L523.7 827.4L526.2 832.8L530.2 842.7L534.2 853.9L548.2 896.9L554.2 914.3L560.2 929.7L565.7 941.7L568.2 946.5L571.2 951.6L573.7 955.5L576.7 959.6L579.7 963.2L582.6 966.3L585.6 969.1L589.1 971.9L594.1 975.2L599.1 977.9L604.6 980.3L611.1 982.6L618.1 984.6L626.1 986.6L635.1 988.3L644.6 989.8L654.6 991.1L665.6 992.3L690.1 994.0L719.5 995.2L757.0 995.9" stroke="#4a4a4a" stroke-width="2.5" fill="none" stroke-linejoin="round"/></g>
<path d="M172.5 802.7H758.6M172.5 1004.5H758.6" stroke="#646464" stroke-width="3.3" fill="none"/>
<path d="M173.5 801.7V1005.5M757.6 801.7V1005.5" stroke="#3a3a3a" stroke-width="2.2" fill="none"/>
<text x="161.2" y="801.5" font-size="14" fill="#777" textLength="72.3" lengthAdjust="spacingAndGlyphs">(x10,000)</text>
<clipPath id="c3_1"><rect x="886.0" y="803.0" width="584.3" height="201.5"/></clipPath>
<path d="M873.5 996.6H886.0M878.0 984.5H886.0M878.0 972.4H886.0M878.0 960.3H886.0M878.0 948.2H886.0M873.5 936.1H886.0M878.0 924.0H886.0M878.0 911.9H886.0M878.0 899.8H886.0M878.0 887.7H886.0M873.5 875.6H886.0M878.0 863.5H886.0M878.0 851.4H886.0M878.0 839.3H886.0M878.0 827.2H886.0M873.5 815.1H886.0" stroke="#5e5e5e" stroke-width="2.8" fill="none"/>
<text class="ax" x="869.5" y="1001.8" font-size="18" fill="#727272" text-anchor="end" textLength="23.8" lengthAdjust="spacingAndGlyphs">0.0</text>
<text class="ax" x="869.5" y="941.3" font-size="18" fill="#727272" text-anchor="end" textLength="23.8" lengthAdjust="spacingAndGlyphs">2.5</text>
<text class="ax" x="869.5" y="880.8" font-size="18" fill="#727272" text-anchor="end" textLength="23.8" lengthAdjust="spacingAndGlyphs">5.0</text>
<text class="ax" x="869.5" y="820.3" font-size="18" fill="#727272" text-anchor="end" textLength="23.8" lengthAdjust="spacingAndGlyphs">7.5</text>
<path d="M909.8 1004.5V1016.0M939.5 1004.5V1010.5M969.2 1004.5V1010.5M998.9 1004.5V1010.5M1028.6 1004.5V1010.5M1058.3 1004.5V1016.0M1088.0 1004.5V1010.5M1117.7 1004.5V1010.5M1147.4 1004.5V1010.5M1177.1 1004.5V1010.5M1206.8 1004.5V1016.0M1236.5 1004.5V1010.5M1266.2 1004.5V1010.5M1295.9 1004.5V1010.5M1325.6 1004.5V1010.5M1355.3 1004.5V1016.0M1385.0 1004.5V1010.5M1414.7 1004.5V1010.5M1444.4 1004.5V1010.5" stroke="#3a3a3a" stroke-width="2.0" fill="none"/>
<text class="ax" x="908.8" y="1032.0" font-size="18" fill="#727272" text-anchor="middle" textLength="24.5" lengthAdjust="spacingAndGlyphs">8.0</text>
<text class="ax" x="1057.3" y="1032.0" font-size="18" fill="#727272" text-anchor="middle" textLength="24.5" lengthAdjust="spacingAndGlyphs">8.5</text>
<text class="ax" x="1205.8" y="1032.0" font-size="18" fill="#727272" text-anchor="middle" textLength="24.5" lengthAdjust="spacingAndGlyphs">9.0</text>
<text class="ax" x="1354.3" y="1032.0" font-size="18" fill="#727272" text-anchor="middle" textLength="24.5" lengthAdjust="spacingAndGlyphs">9.5</text>
<text x="1470.8" y="1032.0" font-size="18" fill="#727272" text-anchor="end" textLength="30.5" lengthAdjust="spacingAndGlyphs">min</text>
<g clip-path="url(#c3_1)"><path d="M886.3 889.1L887.8 894.2L888.8 896.6L890.8 899.8L893.8 902.8L894.8 903.6L895.8 904.1L900.8 904.4L901.8 905.0L906.3 908.7L907.3 909.2L908.3 909.2L909.3 908.7L910.3 907.9L910.8 906.8L912.8 899.0L914.3 894.6L915.8 890.7L918.8 884.3L919.8 883.0L920.3 882.8L922.8 882.8L923.3 883.2L923.8 884.3L925.8 890.7L932.3 917.3L934.8 926.0L936.3 930.0L938.3 933.0L939.8 934.3L945.8 934.5L946.8 935.7L948.8 939.0L950.3 940.2L951.8 940.7L952.3 940.5L952.8 939.9L953.8 937.9L955.3 933.8L956.3 930.4L959.3 914.3L962.8 892.8L965.3 883.0L966.3 880.7L966.8 880.3L967.3 880.5L967.8 881.2L968.8 883.5L971.3 891.3L972.3 895.0L974.8 906.1L977.8 922.8L979.3 928.4L980.8 933.0L981.3 933.9L981.8 934.4L982.3 934.3L983.3 932.5L985.3 926.8L990.8 903.0L991.8 899.7L993.3 897.0L994.8 895.1L996.3 893.8L999.3 891.9L1001.3 889.9L1002.8 887.7L1003.8 885.4L1004.8 881.4L1007.3 868.1L1009.3 855.8L1009.8 853.7L1010.3 852.7L1010.8 852.7L1011.8 853.6L1013.3 856.1L1014.3 859.5L1017.8 883.2L1020.3 902.2L1023.3 921.4L1024.3 925.8L1024.8 926.9L1025.8 928.4L1026.8 929.3L1027.3 929.4L1028.3 928.7L1033.3 920.6L1034.3 919.5L1034.8 919.3L1035.8 919.7L1037.8 921.4L1038.8 921.9L1041.8 922.9L1043.8 923.1L1045.3 922.8L1047.8 921.6L1050.3 919.6L1050.8 919.4L1051.8 919.4L1052.8 920.0L1059.2 925.2L1062.7 927.4L1064.2 928.0L1065.2 928.1L1066.2 927.8L1067.2 927.1L1068.7 925.6L1069.2 924.8L1070.2 921.8L1073.2 908.5L1076.2 892.0L1078.7 876.9L1080.2 871.0L1080.7 869.6L1081.2 869.0L1081.7 869.0L1082.7 869.6L1085.2 871.6L1091.7 875.8L1093.2 877.2L1094.7 879.4L1096.7 883.5L1098.7 889.2L1100.7 896.1L1103.2 906.7L1105.7 914.6L1106.7 917.1L1107.2 917.8L1107.7 918.1L1108.2 917.9L1109.2 916.6L1110.2 914.4L1110.7 912.5L1115.2 879.7L1117.7 854.6L1119.7 842.2L1121.2 835.2L1123.7 825.5L1124.7 823.0L1125.2 822.5L1125.7 822.5L1127.2 823.5L1129.2 826.3L1130.2 829.2L1131.7 836.5L1133.2 845.9L1135.7 868.7L1139.2 894.2L1141.2 910.6L1143.2 923.9L1144.2 928.1L1146.2 931.8L1147.2 932.9L1148.2 933.1L1148.7 932.9L1149.7 932.0L1152.2 928.9L1154.7 925.3L1157.2 922.9L1158.2 922.2L1159.2 921.8L1161.2 922.2L1163.2 923.1L1164.2 923.9L1166.7 926.7L1169.2 929.1L1169.7 929.8L1170.2 931.2L1170.7 933.2L1171.2 933.8L1174.2 935.8L1177.7 940.0L1178.7 940.5L1179.2 940.5L1179.7 940.2L1180.7 938.8L1183.2 933.0L1184.7 927.5L1187.2 916.1L1190.7 896.9L1197.2 853.0L1200.2 834.8L1201.7 827.7L1203.2 822.6L1204.2 820.5L1204.7 820.3L1205.2 820.7L1206.2 822.5L1208.7 830.5L1209.7 835.9L1212.2 852.3L1215.2 869.1L1218.2 881.2L1219.2 883.7L1219.7 884.2L1220.2 884.2L1220.7 883.8L1221.7 882.3L1223.7 877.9L1227.2 868.4L1229.2 864.7L1230.7 862.8L1231.7 862.6L1232.7 862.9L1235.2 865.0L1236.2 866.6L1237.7 869.9L1238.7 871.3L1239.7 871.4L1241.2 871.1L1242.7 870.3L1243.7 869.3L1245.2 865.4L1247.2 858.2L1252.2 831.1L1254.2 822.3L1256.2 816.8L1257.2 814.8L1257.7 814.2L1258.2 813.9L1259.2 814.0L1261.7 815.0L1262.2 815.3L1262.7 815.9L1263.7 818.4L1266.2 827.6L1273.7 862.8L1281.2 888.2L1285.7 905.4L1287.7 914.9L1296.7 963.0L1297.7 966.8L1299.7 971.3L1300.7 972.5L1301.2 972.5L1301.7 972.2L1303.2 970.0L1304.7 966.5L1305.7 962.3L1307.7 951.8L1309.7 943.1L1313.7 927.9L1315.7 921.7L1317.2 918.9L1320.7 914.1L1325.2 907.2L1328.2 903.3L1329.2 902.4L1329.7 902.2L1330.2 902.2L1331.2 902.8L1334.2 906.7L1340.7 919.7L1342.2 923.1L1345.2 931.3L1347.7 939.3L1349.7 946.6L1352.2 957.0L1355.2 967.4L1356.2 969.6L1356.7 970.0L1357.2 969.9L1357.7 969.6L1358.7 968.5L1360.7 964.8L1361.7 961.3L1363.2 952.8L1365.7 935.9L1367.7 919.3L1368.7 910.1L1371.7 876.5L1373.7 862.3L1375.2 854.5L1375.7 852.9L1376.7 851.2L1378.2 849.3L1379.2 848.6L1380.2 848.5L1380.7 848.9L1383.2 852.1L1383.7 852.3L1384.2 852.1L1385.2 850.7L1386.7 846.9L1388.2 842.2L1390.7 829.5L1392.7 821.6L1393.7 818.6L1394.2 817.8L1394.7 817.8L1395.7 818.9L1397.2 822.5L1398.2 826.1L1398.7 829.4L1399.7 838.8L1402.2 866.7L1405.7 908.8L1411.2 959.8L1412.7 972.3L1414.7 985.2L1416.2 992.6L1416.7 993.9L1418.2 995.6L1419.7 996.6L1420.7 996.9L1422.2 996.4L1424.2 994.7L1425.2 993.5L1426.2 991.5L1430.2 980.5L1437.2 959.5L1439.2 952.9L1442.7 939.2L1445.7 924.8L1447.7 913.5L1451.2 889.6L1453.2 881.1L1454.7 876.6L1456.2 874.0L1457.7 872.2L1458.7 871.6L1459.7 871.5L1461.2 871.9L1463.2 872.9L1464.2 873.7L1466.7 876.5L1468.7 878.0L1470.7 879.2" stroke="#ff14ff" stroke-width="2.3" fill="none" stroke-linejoin="round"/><path d="M886.0 996.9L990.7 996.9L998.2 994.3L1005.8 996.9L1056.2 996.9L1062.5 994.3L1068.8 996.9L1105.3 996.9L1111.6 994.3L1117.9 996.9L1182.8 996.9L1195.6 986.1L1208.4 996.9L1226.3 996.9L1239.1 985.5L1251.9 996.9L1276.2 996.9L1282.6 993.2L1290.3 996.9L1326.1 996.9L1335.0 993.7L1346.6 996.9L1350.4 996.9L1360.6 985.5L1372.1 996.9L1470.0 996.9" stroke="#4a4a4a" stroke-width="2.5" fill="none" stroke-linejoin="round"/></g>
<path d="M885.0 803.0H1471.3M885.0 1004.5H1471.3" stroke="#646464" stroke-width="3.3" fill="none"/>
<path d="M886.0 802.0V1005.5M1470.3 802.0V1005.5" stroke="#3a3a3a" stroke-width="2.2" fill="none"/>
<text x="875.2" y="801.8" font-size="14" fill="#777" textLength="37.4" lengthAdjust="spacingAndGlyphs">(x10)</text>
<clipPath id="c4_0"><rect x="173.5" y="1063.0" width="584.1" height="201.7"/></clipPath>
<path d="M165.5 1263.9H173.5M161.0 1256.3H173.5M165.5 1248.7H173.5M165.5 1241.1H173.5M165.5 1233.6H173.5M165.5 1226.0H173.5M161.0 1218.4H173.5M165.5 1210.8H173.5M165.5 1203.3H173.5M165.5 1195.7H173.5M165.5 1188.1H173.5M161.0 1180.5H173.5M165.5 1173.0H173.5M165.5 1165.4H173.5M165.5 1157.8H173.5M165.5 1150.2H173.5M161.0 1142.7H173.5M165.5 1135.1H173.5M165.5 1127.5H173.5M165.5 1120.0H173.5M165.5 1112.4H173.5M161.0 1104.8H173.5M165.5 1097.2H173.5M165.5 1089.6H173.5M165.5 1082.1H173.5M165.5 1074.5H173.5M161.0 1066.9H173.5" stroke="#5e5e5e" stroke-width="2.8" fill="none"/>
<text class="ax" x="157.0" y="1261.5" font-size="18" fill="#727272" text-anchor="end" textLength="33.3" lengthAdjust="spacingAndGlyphs">0.00</text>
<text class="ax" x="157.0" y="1223.6" font-size="18" fill="#727272" text-anchor="end" textLength="33.3" lengthAdjust="spacingAndGlyphs">0.25</text>
<text class="ax" x="157.0" y="1185.8" font-size="18" fill="#727272" text-anchor="end" textLength="33.3" lengthAdjust="spacingAndGlyphs">0.50</text>
<text class="ax" x="157.0" y="1147.9" font-size="18" fill="#727272" text-anchor="end" textLength="33.3" lengthAdjust="spacingAndGlyphs">0.75</text>
<text class="ax" x="157.0" y="1110.0" font-size="18" fill="#727272" text-anchor="end" textLength="33.3" lengthAdjust="spacingAndGlyphs">1.00</text>
<text class="ax" x="157.0" y="1072.1" font-size="18" fill="#727272" text-anchor="end" textLength="33.3" lengthAdjust="spacingAndGlyphs">1.25</text>
<path d="M177.6 1264.7V1276.2M197.3 1264.7V1270.7M216.9 1264.7V1270.7M236.6 1264.7V1270.7M256.3 1264.7V1270.7M275.9 1264.7V1276.2M295.6 1264.7V1270.7M315.3 1264.7V1270.7M335.0 1264.7V1270.7M354.6 1264.7V1270.7M374.3 1264.7V1276.2M394.0 1264.7V1270.7M413.6 1264.7V1270.7M433.3 1264.7V1270.7M453.0 1264.7V1270.7M472.6 1264.7V1276.2M492.3 1264.7V1270.7M512.0 1264.7V1270.7M531.7 1264.7V1270.7M551.3 1264.7V1270.7M571.0 1264.7V1276.2M590.7 1264.7V1270.7M610.3 1264.7V1270.7M630.0 1264.7V1270.7M649.7 1264.7V1270.7M669.4 1264.7V1276.2M689.0 1264.7V1270.7M708.7 1264.7V1270.7M728.4 1264.7V1270.7M748.0 1264.7V1270.7" stroke="#3a3a3a" stroke-width="2.0" fill="none"/>
<text class="ax" x="176.6" y="1292.2" font-size="18" fill="#727272" text-anchor="middle" textLength="24.5" lengthAdjust="spacingAndGlyphs">7.5</text>
<text class="ax" x="274.9" y="1292.2" font-size="18" fill="#727272" text-anchor="middle" textLength="24.5" lengthAdjust="spacingAndGlyphs">8.0</text>
<text class="ax" x="373.3" y="1292.2" font-size="18" fill="#727272" text-anchor="middle" textLength="24.5" lengthAdjust="spacingAndGlyphs">8.5</text>
<text class="ax" x="471.6" y="1292.2" font-size="18" fill="#727272" text-anchor="middle" textLength="24.5" lengthAdjust="spacingAndGlyphs">9.0</text>
<text class="ax" x="570.0" y="1292.2" font-size="18" fill="#727272" text-anchor="middle" textLength="24.5" lengthAdjust="spacingAndGlyphs">9.5</text>
<text class="ax" x="668.4" y="1292.2" font-size="18" fill="#727272" text-anchor="middle" textLength="34.3" lengthAdjust="spacingAndGlyphs">10.0</text>
<text x="758.1" y="1292.2" font-size="18" fill="#727272" text-anchor="end" textLength="30.5" lengthAdjust="spacingAndGlyphs">min</text>
<g clip-path="url(#c4_0)"><path d="M173.0 1256.7L405.8 1256.7L418.8 1256.4L427.3 1255.6L431.8 1254.7L436.3 1253.3L440.8 1251.1L444.8 1248.5L448.8 1245.4L453.3 1241.2L471.2 1222.0L475.7 1217.6L479.7 1214.0L483.7 1211.0L487.7 1208.7L491.2 1207.4L494.7 1207.0L497.7 1207.2L500.7 1208.2L503.7 1209.7L507.2 1212.2L512.7 1217.3L523.7 1229.1L528.2 1233.6L533.7 1238.4L538.7 1242.0L544.2 1245.2L549.7 1247.6L556.2 1249.7L563.2 1251.3L572.7 1252.7L584.6 1253.9L599.6 1254.8L618.6 1255.4L641.6 1255.9L670.6 1256.3L755.0 1256.6" stroke="#ff14ff" stroke-width="2.3" fill="none" stroke-linejoin="round"/><path d="M173.0 1256.3L413.3 1256.3L420.8 1256.0L425.8 1255.4L429.8 1254.4L433.3 1252.9L435.8 1251.2L437.8 1249.3L439.8 1247.1L441.8 1244.2L443.8 1240.7L445.8 1236.5L449.3 1227.4L452.8 1215.9L456.8 1200.1L460.8 1182.2L471.7 1129.9L475.7 1113.0L479.2 1100.0L483.2 1087.8L485.2 1082.9L487.2 1078.7L489.2 1075.5L491.2 1073.2L493.2 1071.9L494.7 1071.6L496.2 1071.9L497.7 1072.8L499.2 1074.3L500.7 1076.4L502.2 1079.1L503.7 1082.3L507.2 1092.0L509.7 1100.5L512.7 1111.9L523.2 1156.4L528.2 1176.2L533.2 1193.2L537.7 1205.8L540.2 1211.7L542.7 1216.9L545.2 1221.5L548.2 1226.1L551.2 1230.0L554.2 1233.3L557.2 1236.1L560.7 1238.8L565.2 1241.6L570.2 1244.0L575.7 1246.1L581.7 1247.9L588.6 1249.5L596.6 1251.0L605.1 1252.1L615.1 1253.2L637.1 1254.6L665.1 1255.5L701.5 1256.0L757.0 1256.3" stroke="#4a4a4a" stroke-width="2.5" fill="none" stroke-linejoin="round"/></g>
<path d="M172.5 1063.0H758.6M172.5 1264.7H758.6" stroke="#646464" stroke-width="3.3" fill="none"/>
<path d="M173.5 1062.0V1265.7M757.6 1062.0V1265.7" stroke="#3a3a3a" stroke-width="2.2" fill="none"/>
<text x="161.2" y="1061.8" font-size="14" fill="#777" textLength="81.6" lengthAdjust="spacingAndGlyphs">(x100,000)</text>
<clipPath id="c4_1"><rect x="886.0" y="1063.3" width="584.3" height="201.4"/></clipPath>
<path d="M873.5 1256.6H886.0M878.0 1244.5H886.0M878.0 1232.4H886.0M878.0 1220.2H886.0M878.0 1208.1H886.0M873.5 1196.0H886.0M878.0 1183.9H886.0M878.0 1171.8H886.0M878.0 1159.6H886.0M878.0 1147.5H886.0M873.5 1135.4H886.0M878.0 1123.3H886.0M878.0 1111.2H886.0M878.0 1099.0H886.0M878.0 1086.9H886.0M873.5 1074.8H886.0" stroke="#5e5e5e" stroke-width="2.8" fill="none"/>
<text class="ax" x="869.5" y="1261.8" font-size="18" fill="#727272" text-anchor="end" textLength="23.8" lengthAdjust="spacingAndGlyphs">0.0</text>
<text class="ax" x="869.5" y="1201.2" font-size="18" fill="#727272" text-anchor="end" textLength="23.8" lengthAdjust="spacingAndGlyphs">2.5</text>
<text class="ax" x="869.5" y="1140.6" font-size="18" fill="#727272" text-anchor="end" textLength="23.8" lengthAdjust="spacingAndGlyphs">5.0</text>
<text class="ax" x="869.5" y="1080.0" font-size="18" fill="#727272" text-anchor="end" textLength="23.8" lengthAdjust="spacingAndGlyphs">7.5</text>
<path d="M891.2 1264.7V1276.2M910.9 1264.7V1270.7M930.5 1264.7V1270.7M950.2 1264.7V1270.7M969.9 1264.7V1270.7M989.6 1264.7V1276.2M1009.2 1264.7V1270.7M1028.9 1264.7V1270.7M1048.6 1264.7V1270.7M1068.2 1264.7V1270.7M1087.9 1264.7V1276.2M1107.6 1264.7V1270.7M1127.2 1264.7V1270.7M1146.9 1264.7V1270.7M1166.6 1264.7V1270.7M1186.2 1264.7V1276.2M1205.9 1264.7V1270.7M1225.6 1264.7V1270.7M1245.3 1264.7V1270.7M1264.9 1264.7V1270.7M1284.6 1264.7V1276.2M1304.3 1264.7V1270.7M1323.9 1264.7V1270.7M1343.6 1264.7V1270.7M1363.3 1264.7V1270.7M1383.0 1264.7V1276.2M1402.6 1264.7V1270.7M1422.3 1264.7V1270.7M1442.0 1264.7V1270.7M1461.6 1264.7V1270.7" stroke="#3a3a3a" stroke-width="2.0" fill="none"/>
<text class="ax" x="890.2" y="1292.2" font-size="18" fill="#727272" text-anchor="middle" textLength="24.5" lengthAdjust="spacingAndGlyphs">7.5</text>
<text class="ax" x="988.6" y="1292.2" font-size="18" fill="#727272" text-anchor="middle" textLength="24.5" lengthAdjust="spacingAndGlyphs">8.0</text>
<text class="ax" x="1086.9" y="1292.2" font-size="18" fill="#727272" text-anchor="middle" textLength="24.5" lengthAdjust="spacingAndGlyphs">8.5</text>
<text class="ax" x="1185.2" y="1292.2" font-size="18" fill="#727272" text-anchor="middle" textLength="24.5" lengthAdjust="spacingAndGlyphs">9.0</text>
<text class="ax" x="1283.6" y="1292.2" font-size="18" fill="#727272" text-anchor="middle" textLength="24.5" lengthAdjust="spacingAndGlyphs">9.5</text>
<text class="ax" x="1382.0" y="1292.2" font-size="18" fill="#727272" text-anchor="middle" textLength="34.3" lengthAdjust="spacingAndGlyphs">10.0</text>
<text x="1470.8" y="1292.2" font-size="18" fill="#727272" text-anchor="end" textLength="30.5" lengthAdjust="spacingAndGlyphs">min</text>
<g clip-path="url(#c4_1)"><path d="M886.0 1256.5L1100.3 1256.5L1111.8 1256.3L1118.8 1255.5L1123.3 1254.4L1127.3 1252.8L1130.8 1250.9L1134.8 1247.9L1138.8 1244.2L1142.8 1240.0L1161.3 1218.4L1165.3 1214.0L1168.8 1210.5L1172.3 1207.5L1175.8 1205.3L1178.7 1204.1L1181.7 1203.6L1184.2 1203.9L1187.2 1204.9L1190.2 1206.7L1193.2 1209.1L1198.2 1214.3L1208.7 1227.0L1213.7 1232.6L1218.7 1237.5L1223.7 1241.5L1229.2 1244.9L1234.7 1247.4L1241.2 1249.6L1248.2 1251.2L1258.2 1252.6L1270.7 1253.7L1287.7 1254.5L1309.6 1255.2L1337.1 1255.7L1371.1 1256.1L1468.0 1256.5" stroke="#ff14ff" stroke-width="2.3" fill="none" stroke-linejoin="round"/><path d="M886.0 1256.7L1100.3 1256.6L1107.3 1256.4L1112.3 1255.8L1116.3 1254.7L1119.8 1253.0L1122.3 1251.2L1124.3 1249.2L1126.3 1246.8L1128.3 1243.8L1130.3 1240.1L1132.3 1235.8L1136.3 1225.3L1140.8 1210.5L1145.3 1193.2L1150.3 1171.9L1161.8 1120.3L1164.8 1107.8L1167.8 1096.6L1171.3 1085.6L1174.3 1078.6L1175.8 1076.0L1177.3 1074.2L1178.7 1073.0L1180.2 1072.5L1181.2 1072.6L1182.7 1073.4L1184.2 1074.8L1185.7 1076.9L1188.2 1081.8L1191.2 1089.8L1193.7 1097.8L1196.7 1108.7L1207.7 1152.9L1212.7 1171.6L1218.2 1189.3L1223.2 1202.6L1226.2 1209.3L1229.2 1215.2L1232.2 1220.2L1235.2 1224.6L1238.7 1228.9L1242.2 1232.5L1245.7 1235.4L1249.7 1238.3L1254.2 1240.8L1259.2 1243.1L1264.7 1245.1L1271.2 1246.9L1278.2 1248.3L1286.2 1249.6L1295.6 1250.7L1306.1 1251.7L1333.6 1253.4L1369.6 1254.7L1414.0 1255.6L1470.0 1256.2" stroke="#4a4a4a" stroke-width="2.5" fill="none" stroke-linejoin="round"/></g>
<path d="M885.0 1063.3H1471.3M885.0 1264.7H1471.3" stroke="#646464" stroke-width="3.3" fill="none"/>
<path d="M886.0 1062.3V1265.7M1470.3 1062.3V1265.7" stroke="#3a3a3a" stroke-width="2.2" fill="none"/>
<text x="875.2" y="1062.1" font-size="14" fill="#777" textLength="72.3" lengthAdjust="spacingAndGlyphs">(x10,000)</text>
<clipPath id="c5_0"><rect x="173.5" y="1323.3" width="584.1" height="201.6"/></clipPath>
<path d="M161.0 1517.2H173.5M165.5 1508.9H173.5M165.5 1500.5H173.5M165.5 1492.2H173.5M165.5 1483.8H173.5M161.0 1475.5H173.5M165.5 1467.1H173.5M165.5 1458.8H173.5M165.5 1450.4H173.5M165.5 1442.0H173.5M161.0 1433.7H173.5M165.5 1425.4H173.5M165.5 1417.0H173.5M165.5 1408.7H173.5M165.5 1400.3H173.5M161.0 1392.0H173.5M165.5 1383.6H173.5M165.5 1375.2H173.5M165.5 1366.9H173.5M165.5 1358.5H173.5M161.0 1350.2H173.5M165.5 1341.9H173.5M165.5 1333.5H173.5M165.5 1325.2H173.5" stroke="#5e5e5e" stroke-width="2.8" fill="none"/>
<text class="ax" x="157.0" y="1522.4" font-size="18" fill="#727272" text-anchor="end" textLength="23.8" lengthAdjust="spacingAndGlyphs">0.0</text>
<text class="ax" x="157.0" y="1480.7" font-size="18" fill="#727272" text-anchor="end" textLength="23.8" lengthAdjust="spacingAndGlyphs">0.5</text>
<text class="ax" x="157.0" y="1438.9" font-size="18" fill="#727272" text-anchor="end" textLength="23.8" lengthAdjust="spacingAndGlyphs">1.0</text>
<text class="ax" x="157.0" y="1397.2" font-size="18" fill="#727272" text-anchor="end" textLength="23.8" lengthAdjust="spacingAndGlyphs">1.5</text>
<text class="ax" x="157.0" y="1355.4" font-size="18" fill="#727272" text-anchor="end" textLength="23.8" lengthAdjust="spacingAndGlyphs">2.0</text>
<path d="M190.1 1524.9V1530.9M209.8 1524.9V1530.9M229.4 1524.9V1536.4M249.0 1524.9V1530.9M268.7 1524.9V1530.9M288.3 1524.9V1530.9M307.9 1524.9V1530.9M327.6 1524.9V1536.4M347.2 1524.9V1530.9M366.8 1524.9V1530.9M386.4 1524.9V1530.9M406.1 1524.9V1530.9M425.7 1524.9V1536.4M445.3 1524.9V1530.9M465.0 1524.9V1530.9M484.6 1524.9V1530.9M504.2 1524.9V1530.9M523.9 1524.9V1536.4M543.5 1524.9V1530.9M563.1 1524.9V1530.9M582.7 1524.9V1530.9M602.4 1524.9V1530.9M622.0 1524.9V1536.4M641.6 1524.9V1530.9M661.3 1524.9V1530.9M680.9 1524.9V1530.9M700.5 1524.9V1530.9M720.1 1524.9V1536.4M739.8 1524.9V1530.9" stroke="#3a3a3a" stroke-width="2.0" fill="none"/>
<text class="ax" x="228.4" y="1552.4" font-size="18" fill="#727272" text-anchor="middle" textLength="24.5" lengthAdjust="spacingAndGlyphs">9.0</text>
<text class="ax" x="326.6" y="1552.4" font-size="18" fill="#727272" text-anchor="middle" textLength="24.5" lengthAdjust="spacingAndGlyphs">9.5</text>
<text class="ax" x="424.7" y="1552.4" font-size="18" fill="#727272" text-anchor="middle" textLength="34.3" lengthAdjust="spacingAndGlyphs">10.0</text>
<text class="ax" x="522.9" y="1552.4" font-size="18" fill="#727272" text-anchor="middle" textLength="34.3" lengthAdjust="spacingAndGlyphs">10.5</text>
<text class="ax" x="621.0" y="1552.4" font-size="18" fill="#727272" text-anchor="middle" textLength="33.0" lengthAdjust="spacingAndGlyphs">11.0</text>
<text x="758.1" y="1552.4" font-size="18" fill="#727272" text-anchor="end" textLength="30.5" lengthAdjust="spacingAndGlyphs">min</text>
<g clip-path="url(#c5_0)"><path d="M217.0 1514.6L259.5 1514.6L262.0 1516.8" stroke="#ff14ff" stroke-width="2.3" fill="none" stroke-linejoin="round"/><path d="M262.0 1517.1L397.9 1517.0L413.8 1516.5L419.8 1516.0L424.8 1515.3L429.8 1514.2L434.8 1512.8L439.8 1510.8L444.3 1508.5L448.8 1505.8L453.3 1502.6L469.3 1489.5L475.8 1484.8L479.8 1482.5L488.8 1478.5L490.8 1477.8L492.8 1477.5L495.3 1477.8L498.3 1478.6L501.8 1480.1L505.3 1482.0L511.2 1485.9L523.2 1494.8L528.7 1498.6L534.7 1502.3L540.2 1505.2L546.2 1507.8L552.7 1510.0L559.2 1511.6L566.7 1513.0L575.2 1514.0L585.2 1514.8L596.7 1515.3L611.6 1515.7L659.6 1516.2L755.0 1516.6" stroke="#ff14ff" stroke-width="2.3" fill="none" stroke-linejoin="round"/><path d="M261.0 1516.6L386.4 1516.6L403.9 1516.3L411.8 1515.7L417.8 1514.4L420.3 1513.5L422.8 1512.4L425.3 1510.9L427.3 1509.4L429.8 1507.2L431.8 1505.0L434.3 1501.7L436.3 1498.6L438.8 1494.0L440.8 1489.9L444.8 1480.0L449.3 1466.6L453.8 1450.8L458.3 1433.2L470.8 1381.7L474.3 1368.7L477.8 1357.1L481.8 1346.1L483.8 1341.7L485.3 1339.0L487.3 1336.0L489.3 1333.9L491.3 1332.7L492.8 1332.4L494.3 1332.6L496.3 1333.7L497.8 1335.0L499.8 1337.6L501.3 1340.1L503.3 1344.1L506.8 1352.7L509.7 1361.6L513.2 1373.3L525.2 1417.5L530.7 1436.5L536.2 1453.2L541.2 1466.0L543.7 1471.4L546.7 1477.2L549.2 1481.5L552.2 1485.9L555.2 1489.7L558.2 1492.9L561.2 1495.6L564.7 1498.3L569.2 1501.1L574.2 1503.4L579.7 1505.5L585.7 1507.2L592.7 1508.8L600.7 1510.2L609.6 1511.4L620.1 1512.5L643.1 1514.2L671.6 1515.4L707.5 1516.0L757.0 1516.4" stroke="#4a4a4a" stroke-width="2.5" fill="none" stroke-linejoin="round"/><path d="M173.0 1516.8L216.5 1516.8L218.0 1514.6L259.5 1514.6L261.0 1516.8" stroke="#4a4a4a" stroke-width="2.5" fill="none" stroke-linejoin="round"/></g>
<path d="M172.5 1323.3H758.6M172.5 1524.9H758.6" stroke="#646464" stroke-width="3.3" fill="none"/>
<path d="M173.5 1322.3V1525.9M757.6 1322.3V1525.9" stroke="#3a3a3a" stroke-width="2.2" fill="none"/>
<text x="161.2" y="1322.1" font-size="14" fill="#777" textLength="81.6" lengthAdjust="spacingAndGlyphs">(x100,000)</text>
<clipPath id="c5_1"><rect x="886.0" y="1323.6" width="584.3" height="201.3"/></clipPath>
<path d="M873.5 1517.3H886.0M878.0 1509.4H886.0M878.0 1501.5H886.0M878.0 1493.6H886.0M878.0 1485.7H886.0M873.5 1477.8H886.0M878.0 1469.9H886.0M878.0 1462.0H886.0M878.0 1454.1H886.0M878.0 1446.2H886.0M873.5 1438.3H886.0M878.0 1430.4H886.0M878.0 1422.5H886.0M878.0 1414.6H886.0M878.0 1406.7H886.0M873.5 1398.8H886.0M878.0 1390.9H886.0M878.0 1383.0H886.0M878.0 1375.1H886.0M878.0 1367.2H886.0M873.5 1359.3H886.0M878.0 1351.4H886.0M878.0 1343.5H886.0M878.0 1335.6H886.0M878.0 1327.7H886.0" stroke="#5e5e5e" stroke-width="2.8" fill="none"/>
<text class="ax" x="869.5" y="1522.5" font-size="18" fill="#727272" text-anchor="end" textLength="33.3" lengthAdjust="spacingAndGlyphs">0.00</text>
<text class="ax" x="869.5" y="1483.0" font-size="18" fill="#727272" text-anchor="end" textLength="33.3" lengthAdjust="spacingAndGlyphs">0.25</text>
<text class="ax" x="869.5" y="1443.5" font-size="18" fill="#727272" text-anchor="end" textLength="33.3" lengthAdjust="spacingAndGlyphs">0.50</text>
<text class="ax" x="869.5" y="1404.0" font-size="18" fill="#727272" text-anchor="end" textLength="33.3" lengthAdjust="spacingAndGlyphs">0.75</text>
<text class="ax" x="869.5" y="1364.5" font-size="18" fill="#727272" text-anchor="end" textLength="33.3" lengthAdjust="spacingAndGlyphs">1.00</text>
<path d="M903.7 1524.9V1530.9M923.4 1524.9V1530.9M943.0 1524.9V1536.4M962.6 1524.9V1530.9M982.3 1524.9V1530.9M1001.9 1524.9V1530.9M1021.5 1524.9V1530.9M1041.2 1524.9V1536.4M1060.8 1524.9V1530.9M1080.4 1524.9V1530.9M1100.0 1524.9V1530.9M1119.7 1524.9V1530.9M1139.3 1524.9V1536.4M1158.9 1524.9V1530.9M1178.6 1524.9V1530.9M1198.2 1524.9V1530.9M1217.8 1524.9V1530.9M1237.5 1524.9V1536.4M1257.1 1524.9V1530.9M1276.7 1524.9V1530.9M1296.3 1524.9V1530.9M1316.0 1524.9V1530.9M1335.6 1524.9V1536.4M1355.2 1524.9V1530.9M1374.9 1524.9V1530.9M1394.5 1524.9V1530.9M1414.1 1524.9V1530.9M1433.8 1524.9V1536.4M1453.4 1524.9V1530.9" stroke="#3a3a3a" stroke-width="2.0" fill="none"/>
<text class="ax" x="942.0" y="1552.4" font-size="18" fill="#727272" text-anchor="middle" textLength="24.5" lengthAdjust="spacingAndGlyphs">9.0</text>
<text class="ax" x="1040.2" y="1552.4" font-size="18" fill="#727272" text-anchor="middle" textLength="24.5" lengthAdjust="spacingAndGlyphs">9.5</text>
<text class="ax" x="1138.3" y="1552.4" font-size="18" fill="#727272" text-anchor="middle" textLength="34.3" lengthAdjust="spacingAndGlyphs">10.0</text>
<text class="ax" x="1236.5" y="1552.4" font-size="18" fill="#727272" text-anchor="middle" textLength="34.3" lengthAdjust="spacingAndGlyphs">10.5</text>
<text class="ax" x="1334.6" y="1552.4" font-size="18" fill="#727272" text-anchor="middle" textLength="33.0" lengthAdjust="spacingAndGlyphs">11.0</text>
<text x="1470.8" y="1552.4" font-size="18" fill="#727272" text-anchor="end" textLength="30.5" lengthAdjust="spacingAndGlyphs">min</text>
<g clip-path="url(#c5_1)"><path d="M886.3 1516.8L903.3 1516.8L905.3 1516.3L907.8 1514.7L908.3 1513.8L909.3 1510.3L914.8 1483.6L916.8 1478.1L917.3 1477.4L917.8 1477.1L918.3 1477.4L918.8 1478.2L920.8 1483.8L923.3 1496.8L924.3 1500.3L926.3 1505.5L927.3 1507.0L927.8 1507.3L928.3 1507.0L929.3 1505.0L934.3 1487.7L935.3 1484.9L937.3 1481.2L937.8 1480.9L938.3 1481.0L938.8 1481.5L940.3 1484.3L941.3 1487.1L946.2 1508.5L947.2 1512.1L947.7 1513.2L949.2 1515.2L950.2 1516.2L951.2 1516.8L960.7 1516.8L962.2 1516.4L964.2 1514.9L964.7 1514.1L965.2 1512.7L967.7 1501.1L970.7 1490.4L973.2 1483.6L973.7 1482.6L974.2 1482.1L974.7 1482.3L975.2 1482.9L977.2 1488.1L982.7 1510.9L983.7 1514.0L984.2 1514.7L984.7 1514.8L985.7 1514.3L989.7 1510.1L990.2 1509.9L991.2 1509.8L993.2 1510.6L996.2 1512.6L999.2 1516.0L1000.2 1516.7L1005.7 1516.8L1006.7 1516.7L1008.7 1515.6L1010.2 1514.1L1013.2 1507.6L1015.7 1503.4L1016.7 1502.4L1017.7 1502.3L1019.2 1503.2L1021.2 1505.0L1023.2 1507.5L1024.2 1508.4L1024.7 1508.5L1025.7 1508.4L1028.2 1507.4L1029.7 1506.4L1032.7 1503.0L1035.7 1498.7L1036.7 1497.6L1039.2 1496.3L1041.2 1495.9L1050.7 1496.0L1053.7 1496.5L1056.2 1497.2L1056.7 1497.6L1057.7 1499.3L1062.7 1511.3L1063.2 1512.0L1063.7 1512.3L1064.2 1512.2L1065.2 1511.4L1066.2 1509.8L1067.7 1506.9L1068.2 1505.5L1071.2 1492.6L1073.7 1483.3L1074.7 1480.4L1077.2 1475.9L1078.2 1474.8L1078.7 1474.6L1079.2 1474.7L1079.7 1475.2L1081.2 1478.9L1083.1 1485.1L1086.1 1496.5L1089.1 1505.3L1090.1 1507.3L1091.1 1508.7L1092.1 1510.0L1093.1 1510.8L1093.6 1511.0L1094.6 1511.0L1097.6 1510.3L1099.1 1509.7L1100.6 1508.2L1103.1 1504.0L1106.1 1495.6L1109.1 1488.7L1110.1 1487.3L1111.6 1486.2L1112.6 1485.9L1113.1 1486.0L1114.1 1487.1L1119.6 1498.4L1122.1 1502.3L1125.1 1505.8L1129.6 1510.3L1132.6 1514.0L1133.6 1514.7L1134.6 1514.8L1136.1 1513.6L1139.1 1509.9L1142.1 1507.3L1143.6 1505.7L1144.6 1504.1L1145.1 1502.9L1147.6 1495.4L1148.6 1494.2L1151.1 1492.8L1152.1 1491.7L1153.1 1488.6L1155.1 1479.2L1158.6 1464.4L1160.6 1458.7L1161.6 1457.0L1162.1 1457.0L1162.6 1457.5L1163.1 1458.4L1164.6 1462.7L1165.1 1465.4L1167.1 1480.9L1168.6 1494.4L1169.6 1500.8L1170.1 1501.4L1170.6 1500.0L1171.1 1499.1L1172.1 1497.9L1172.6 1497.7L1173.1 1501.8L1173.6 1500.7L1175.1 1482.6L1176.6 1470.8L1178.6 1460.1L1179.6 1456.3L1180.1 1455.5L1180.6 1455.5L1181.1 1456.0L1182.1 1457.7L1183.1 1460.2L1183.6 1462.5L1185.6 1476.2L1187.6 1492.7L1189.6 1506.2L1190.1 1508.8L1191.6 1514.3L1192.6 1516.6L1193.1 1516.9L1194.1 1516.5L1195.1 1515.6L1197.1 1512.6L1198.1 1509.4L1200.6 1498.1L1202.6 1491.9L1204.1 1488.2L1205.6 1486.0L1206.6 1485.0L1207.1 1484.9L1208.1 1485.3L1209.1 1486.5L1210.1 1488.3L1212.6 1499.3L1214.6 1509.7L1216.1 1513.7L1217.1 1515.4L1217.6 1515.7L1219.6 1516.6L1221.5 1516.8L1223.5 1516.5L1226.5 1515.5L1227.5 1514.7L1230.0 1512.3L1231.0 1511.8L1235.0 1511.7L1235.5 1511.7L1236.0 1511.4L1237.0 1510.1L1243.5 1499.8L1246.5 1496.0L1247.5 1495.2L1248.0 1495.1L1248.5 1495.2L1249.5 1496.0L1254.5 1502.3L1256.5 1505.3L1262.0 1514.6L1263.0 1515.5L1263.5 1515.6L1265.0 1515.0L1266.5 1513.8L1267.5 1512.6L1268.5 1510.0L1271.5 1498.5L1273.5 1489.9L1274.5 1486.8L1275.0 1486.0L1276.5 1484.6L1277.5 1483.9L1278.5 1483.6L1279.0 1483.6L1279.5 1484.0L1280.5 1485.5L1283.0 1490.9L1286.0 1499.1L1289.5 1507.7L1293.0 1514.5L1294.0 1516.0L1295.0 1516.8L1316.0 1516.8L1316.5 1516.6L1317.5 1515.5L1320.0 1511.3L1322.5 1506.2L1323.0 1505.6L1323.5 1505.3L1325.0 1505.8L1327.5 1508.0L1328.5 1509.9L1330.0 1513.7L1331.0 1515.4L1333.0 1516.3L1335.5 1516.8L1337.5 1516.8L1340.0 1516.2L1341.5 1515.6L1342.0 1515.0L1343.0 1512.6L1345.0 1506.1L1347.0 1501.0L1348.0 1498.8L1348.5 1498.0L1349.0 1497.7L1350.5 1498.1L1351.5 1498.8L1353.0 1500.2L1354.0 1502.3L1356.5 1509.9L1359.0 1513.3L1359.9 1514.1L1360.4 1514.3L1361.9 1514.0L1366.9 1512.0L1368.4 1511.7L1369.4 1512.2L1371.4 1513.8L1373.4 1515.1L1374.4 1515.6L1374.9 1515.5L1375.4 1515.3L1376.4 1514.0L1378.9 1509.8L1380.9 1505.9L1381.9 1504.4L1383.9 1503.3L1385.9 1502.8L1386.4 1502.8L1386.9 1503.2L1388.9 1506.7L1389.9 1507.9L1391.9 1508.3L1393.9 1508.4L1394.9 1508.2L1398.4 1506.7L1399.9 1506.8L1401.4 1507.5L1403.9 1509.2L1406.9 1512.0L1409.4 1514.6L1410.4 1515.1L1410.9 1515.0L1412.4 1514.1L1415.4 1510.7L1424.4 1502.0L1425.9 1500.2L1427.4 1497.6L1429.9 1492.1L1432.4 1485.0L1432.9 1484.1L1433.4 1483.6L1434.9 1484.0L1435.9 1484.7L1436.4 1485.3L1436.9 1487.0L1438.4 1494.1L1440.9 1502.7L1441.9 1504.9L1442.4 1505.3L1442.9 1505.2L1443.4 1504.4L1444.4 1501.8L1449.9 1483.1L1451.9 1478.1L1452.4 1477.4L1452.9 1477.2L1453.4 1477.4L1454.4 1478.4L1455.4 1479.9L1455.9 1481.3L1460.9 1502.5L1463.4 1511.0L1464.4 1513.8L1464.9 1514.8L1465.4 1515.5L1465.9 1515.8L1467.9 1516.6L1469.4 1516.9" stroke="#ff14ff" stroke-width="2.3" fill="none" stroke-linejoin="round"/><path d="M886.3 1516.8L896.3 1516.8L896.8 1516.6L897.3 1515.9L898.3 1513.4L900.8 1505.0L906.3 1482.3L907.3 1479.8L907.8 1479.6L910.3 1479.6L910.8 1480.5L912.8 1490.0L914.8 1500.8L915.3 1502.4L916.3 1504.4L917.3 1506.0L918.3 1507.0L919.3 1507.3L924.3 1507.3L926.8 1508.0L928.8 1509.3L931.3 1512.0L933.3 1513.8L934.3 1514.5L935.3 1514.8L937.3 1514.4L940.3 1513.0L944.3 1510.0L946.3 1507.9L947.3 1506.0L948.3 1502.4L952.3 1483.1L957.3 1454.2L960.8 1428.4L962.8 1415.5L963.8 1411.1L964.3 1410.4L964.8 1410.5L965.8 1411.8L966.8 1414.0L967.3 1416.1L971.3 1450.5L972.3 1456.7L973.8 1463.8L974.3 1465.5L975.3 1467.6L977.8 1471.4L979.8 1474.8L981.8 1479.1L982.8 1483.1L984.3 1491.3L986.3 1500.3L987.8 1506.0L988.8 1508.7L990.3 1512.2L991.3 1513.9L993.3 1516.0L994.8 1517.1L995.8 1517.3L1000.8 1517.3L1001.3 1517.1L1001.8 1516.4L1002.8 1513.8L1004.8 1506.6L1006.8 1496.1L1008.8 1488.9L1009.3 1487.7L1010.3 1486.4L1011.8 1485.2L1012.8 1484.7L1013.8 1484.7L1014.8 1485.5L1017.3 1489.8L1018.3 1492.6L1020.8 1501.7L1023.8 1511.5L1024.8 1513.6L1025.8 1515.1L1026.8 1516.3L1027.8 1517.1L1028.8 1517.3L1029.8 1517.1L1032.3 1515.7L1034.3 1514.2L1037.3 1510.7L1038.3 1509.9L1040.3 1509.3L1047.8 1507.6L1049.3 1507.0L1050.8 1506.2L1052.8 1504.5L1053.8 1503.4L1054.3 1502.5L1055.8 1498.0L1060.2 1482.2L1061.2 1479.5L1063.2 1475.3L1063.7 1474.8L1064.2 1474.6L1064.7 1474.8L1067.2 1479.2L1068.2 1480.6L1069.2 1481.7L1069.7 1482.1L1070.2 1482.0L1070.7 1481.4L1071.2 1480.4L1073.7 1473.4L1075.7 1469.9L1076.7 1468.6L1077.2 1468.3L1078.2 1468.5L1080.2 1470.3L1081.2 1470.8L1081.7 1470.7L1082.7 1469.5L1085.2 1464.2L1087.7 1455.2L1088.2 1453.9L1088.7 1453.2L1089.2 1453.3L1090.2 1454.5L1091.2 1456.7L1092.7 1460.9L1093.7 1465.8L1095.2 1475.3L1096.2 1479.3L1097.2 1480.2L1098.2 1480.7L1098.7 1480.8L1099.2 1480.6L1099.7 1478.9L1100.2 1476.0L1101.7 1465.0L1104.2 1439.7L1107.7 1411.5L1108.7 1405.7L1109.2 1405.4L1110.2 1405.7L1111.2 1406.3L1111.7 1406.9L1112.2 1408.8L1114.7 1426.7L1118.7 1459.9L1120.7 1470.3L1121.7 1474.0L1122.2 1475.2L1122.7 1475.8L1127.2 1475.7L1130.2 1474.6L1130.7 1474.6L1131.2 1475.1L1132.2 1476.9L1134.2 1482.2L1138.2 1498.1L1139.7 1502.7L1140.2 1503.4L1143.2 1503.4L1143.7 1502.7L1144.7 1499.9L1145.7 1496.5L1146.7 1492.0L1149.7 1474.4L1152.2 1457.2L1154.7 1441.7L1156.2 1434.4L1156.7 1433.2L1157.2 1432.6L1160.2 1430.8L1161.2 1429.9L1162.2 1428.5L1163.2 1426.5L1166.7 1412.5L1167.7 1409.5L1168.2 1409.1L1170.2 1409.5L1171.7 1412.6L1172.7 1413.8L1173.7 1414.5L1174.2 1414.1L1174.7 1412.5L1176.7 1400.8L1178.7 1381.9L1180.7 1367.0L1183.2 1351.5L1183.7 1349.7L1184.2 1349.3L1185.2 1349.9L1186.7 1352.0L1187.7 1356.7L1191.7 1384.9L1194.2 1399.9L1196.2 1413.6L1201.7 1458.0L1202.7 1462.2L1203.2 1463.7L1203.7 1464.4L1204.2 1463.6L1204.7 1461.3L1208.2 1437.0L1209.2 1432.8L1210.2 1429.5L1210.7 1428.7L1211.2 1428.6L1212.2 1429.4L1213.7 1431.5L1217.7 1439.4L1218.2 1439.9L1218.7 1440.1L1219.2 1439.2L1221.2 1431.0L1222.7 1426.3L1224.7 1421.0L1225.7 1419.0L1226.2 1418.4L1227.2 1417.8L1229.7 1417.1L1230.2 1417.1L1230.7 1417.4L1232.2 1419.4L1232.7 1419.6L1233.7 1419.4L1235.2 1418.4L1235.7 1417.6L1237.7 1410.9L1239.7 1405.7L1240.7 1403.7L1241.2 1403.2L1241.7 1403.0L1243.2 1403.5L1245.7 1405.8L1246.7 1407.8L1248.7 1413.1L1249.7 1415.2L1255.7 1425.0L1257.7 1428.7L1259.2 1432.0L1260.7 1435.9L1263.7 1447.6L1265.2 1452.0L1266.2 1454.4L1266.7 1455.1L1267.2 1455.4L1267.7 1455.3L1268.7 1453.8L1269.7 1451.2L1271.2 1446.0L1271.7 1443.1L1274.7 1415.0L1280.7 1345.7L1281.2 1342.1L1282.2 1337.7L1283.2 1334.6L1283.7 1334.0L1284.2 1334.2L1284.7 1335.4L1286.2 1342.9L1287.2 1350.2L1288.7 1365.1L1289.7 1372.0L1291.2 1381.1L1291.7 1382.9L1292.2 1383.8L1292.7 1383.7L1293.7 1382.9L1294.7 1381.3L1295.7 1379.1L1299.7 1357.9L1300.7 1354.6L1301.2 1354.4L1301.7 1354.6L1302.7 1355.6L1303.7 1357.2L1304.2 1359.0L1305.2 1365.2L1306.7 1377.1L1312.2 1432.5L1314.7 1453.0L1316.2 1462.6L1317.2 1467.2L1319.2 1474.3L1320.2 1476.6L1320.7 1477.1L1321.7 1477.1L1323.2 1476.7L1324.7 1476.0L1325.2 1475.4L1326.2 1472.1L1331.2 1446.6L1332.7 1440.8L1334.2 1436.9L1336.2 1433.0L1342.2 1424.3L1344.2 1420.5L1345.7 1415.9L1349.7 1400.6L1350.2 1399.4L1352.2 1398.3L1354.2 1397.9L1355.2 1398.1L1357.2 1399.0L1358.2 1399.1L1359.2 1398.4L1361.2 1395.7L1361.7 1395.4L1362.2 1395.4L1363.2 1396.0L1364.2 1397.1L1366.2 1399.8L1367.7 1402.6L1368.2 1403.0L1368.7 1402.8L1369.7 1400.7L1371.7 1394.0L1374.2 1387.6L1375.2 1385.7L1375.7 1385.2L1376.2 1385.1L1377.2 1386.2L1379.2 1390.4L1382.2 1399.9L1385.2 1408.0L1385.7 1408.8L1386.7 1409.7L1388.7 1410.5L1390.2 1410.7L1390.7 1410.3L1391.7 1408.3L1393.7 1401.3L1394.7 1395.6L1396.2 1383.8L1397.2 1380.1L1398.2 1377.4L1399.7 1374.4L1401.7 1372.0L1402.7 1371.2L1403.2 1371.0L1403.7 1371.1L1404.7 1371.9L1409.7 1379.2L1410.7 1380.0L1412.7 1380.9L1414.2 1381.2L1418.7 1381.2L1423.7 1377.7L1424.7 1377.4L1425.2 1377.6L1426.2 1378.7L1427.7 1380.7L1430.2 1385.8L1430.7 1386.3L1431.2 1386.3L1431.7 1385.9L1432.7 1383.7L1437.7 1369.5L1438.2 1368.7L1438.7 1368.5L1439.2 1368.6L1440.2 1369.5L1441.2 1370.9L1442.2 1373.6L1444.7 1385.8L1447.2 1396.3L1451.2 1411.6L1452.7 1415.7L1454.2 1417.8L1455.2 1418.9L1456.2 1419.6L1456.7 1419.6L1457.7 1419.0L1460.2 1416.0L1461.2 1415.4L1462.7 1414.8L1464.2 1414.5L1464.7 1414.7L1465.2 1415.6L1466.7 1420.3L1467.7 1425.2L1470.7 1447.8" stroke="#4a4a4a" stroke-width="2.5" fill="none" stroke-linejoin="round"/></g>
<path d="M885.0 1323.6H1471.3M885.0 1524.9H1471.3" stroke="#646464" stroke-width="3.3" fill="none"/>
<path d="M886.0 1322.6V1525.9M1470.3 1322.6V1525.9" stroke="#3a3a3a" stroke-width="2.2" fill="none"/>
<text x="875.2" y="1322.4" font-size="14" fill="#777" textLength="46.7" lengthAdjust="spacingAndGlyphs">(x100)</text>
<clipPath id="c6_0"><rect x="173.5" y="1583.6" width="584.1" height="201.4"/></clipPath>
<path d="M161.0 1776.8H173.5M165.5 1769.1H173.5M165.5 1761.3H173.5M165.5 1753.6H173.5M165.5 1745.9H173.5M161.0 1738.2H173.5M165.5 1730.5H173.5M165.5 1722.7H173.5M165.5 1715.0H173.5M165.5 1707.3H173.5M161.0 1699.5H173.5M165.5 1691.8H173.5M165.5 1684.1H173.5M165.5 1676.4H173.5M165.5 1668.6H173.5M161.0 1660.9H173.5M165.5 1653.2H173.5M165.5 1645.5H173.5M165.5 1637.8H173.5M165.5 1630.0H173.5M161.0 1622.3H173.5M165.5 1614.6H173.5M165.5 1606.8H173.5M165.5 1599.1H173.5M165.5 1591.4H173.5" stroke="#5e5e5e" stroke-width="2.8" fill="none"/>
<text class="ax" x="157.0" y="1782.0" font-size="18" fill="#727272" text-anchor="end" textLength="33.3" lengthAdjust="spacingAndGlyphs">0.00</text>
<text class="ax" x="157.0" y="1743.4" font-size="18" fill="#727272" text-anchor="end" textLength="33.3" lengthAdjust="spacingAndGlyphs">0.25</text>
<text class="ax" x="157.0" y="1704.8" font-size="18" fill="#727272" text-anchor="end" textLength="33.3" lengthAdjust="spacingAndGlyphs">0.50</text>
<text class="ax" x="157.0" y="1666.1" font-size="18" fill="#727272" text-anchor="end" textLength="33.3" lengthAdjust="spacingAndGlyphs">0.75</text>
<text class="ax" x="157.0" y="1627.5" font-size="18" fill="#727272" text-anchor="end" textLength="33.3" lengthAdjust="spacingAndGlyphs">1.00</text>
<path d="M185.6 1785.0V1791.0M205.2 1785.0V1796.5M224.8 1785.0V1791.0M244.5 1785.0V1791.0M264.1 1785.0V1791.0M283.7 1785.0V1791.0M303.4 1785.0V1796.5M323.0 1785.0V1791.0M342.6 1785.0V1791.0M362.2 1785.0V1791.0M381.9 1785.0V1791.0M401.5 1785.0V1796.5M421.1 1785.0V1791.0M440.8 1785.0V1791.0M460.4 1785.0V1791.0M480.0 1785.0V1791.0M499.7 1785.0V1796.5M519.3 1785.0V1791.0M538.9 1785.0V1791.0M558.5 1785.0V1791.0M578.2 1785.0V1791.0M597.8 1785.0V1796.5M617.4 1785.0V1791.0M637.1 1785.0V1791.0M656.7 1785.0V1791.0M676.3 1785.0V1791.0M696.0 1785.0V1796.5M715.6 1785.0V1791.0M735.2 1785.0V1791.0M754.8 1785.0V1791.0" stroke="#3a3a3a" stroke-width="2.0" fill="none"/>
<text class="ax" x="204.2" y="1812.5" font-size="18" fill="#727272" text-anchor="middle" textLength="34.3" lengthAdjust="spacingAndGlyphs">10.0</text>
<text class="ax" x="302.4" y="1812.5" font-size="18" fill="#727272" text-anchor="middle" textLength="34.3" lengthAdjust="spacingAndGlyphs">10.5</text>
<text class="ax" x="400.5" y="1812.5" font-size="18" fill="#727272" text-anchor="middle" textLength="33.0" lengthAdjust="spacingAndGlyphs">11.0</text>
<text class="ax" x="498.7" y="1812.5" font-size="18" fill="#727272" text-anchor="middle" textLength="33.0" lengthAdjust="spacingAndGlyphs">11.5</text>
<text class="ax" x="596.8" y="1812.5" font-size="18" fill="#727272" text-anchor="middle" textLength="34.3" lengthAdjust="spacingAndGlyphs">12.0</text>
<text class="ax" x="695.0" y="1812.5" font-size="18" fill="#727272" text-anchor="middle" textLength="34.3" lengthAdjust="spacingAndGlyphs">12.5</text>
<text x="758.1" y="1812.5" font-size="18" fill="#727272" text-anchor="end" textLength="30.5" lengthAdjust="spacingAndGlyphs">min</text>
<g clip-path="url(#c6_0)"><path d="M173.0 1776.9L387.8 1776.8L399.3 1776.6L408.3 1776.2L415.8 1775.5L422.3 1774.6L429.3 1772.9L435.8 1770.5L441.8 1767.3L447.8 1763.1L453.3 1758.1L458.8 1752.2L464.3 1745.4L476.2 1729.6L479.7 1725.4L482.7 1722.2L486.2 1719.1L489.7 1716.8L493.2 1715.4L496.2 1715.0L499.2 1715.3L502.7 1716.7L506.2 1718.9L509.7 1722.0L512.7 1725.2L516.2 1729.4L527.7 1744.5L532.7 1750.7L537.7 1756.1L542.7 1760.7L547.7 1764.4L552.7 1767.2L558.2 1769.5L564.2 1771.2L572.2 1772.7L581.7 1773.6L595.1 1774.4L615.1 1775.1L641.6 1775.7L673.1 1776.2L757.0 1776.7" stroke="#ff14ff" stroke-width="2.3" fill="none" stroke-linejoin="round"/><path d="M238.0 1776.3L379.9 1776.3L401.3 1776.0L410.8 1775.3L417.8 1774.1L420.8 1773.2L423.8 1772.0L426.3 1770.7L428.8 1769.1L431.8 1766.7L434.3 1764.2L437.3 1760.6L439.8 1757.0L442.3 1752.7L444.8 1747.8L447.3 1742.2L449.8 1735.9L454.8 1721.0L459.8 1703.5L464.8 1683.8L476.3 1636.0L479.8 1622.8L482.8 1612.7L486.3 1603.0L489.3 1596.8L491.3 1593.9L492.8 1592.4L494.3 1591.5L495.8 1591.2L497.3 1591.6L498.7 1592.5L500.2 1594.1L501.7 1596.4L503.2 1599.1L504.7 1602.5L508.2 1612.2L510.7 1620.5L513.7 1631.7L524.7 1676.9L529.7 1696.2L534.7 1713.1L539.2 1726.0L541.7 1732.1L544.2 1737.5L546.7 1742.2L549.2 1746.3L551.7 1749.9L554.7 1753.5L557.7 1756.4L561.2 1759.2L565.2 1761.6L569.2 1763.5L573.7 1765.0L579.2 1766.5L585.7 1767.7L593.7 1768.9L614.6 1771.1L641.1 1772.9L672.6 1774.3L710.0 1775.2L757.0 1775.8" stroke="#4a4a4a" stroke-width="2.5" fill="none" stroke-linejoin="round"/><path d="M173.0 1774.9L236.0 1774.9L238.0 1776.8" stroke="#4a4a4a" stroke-width="2.5" fill="none" stroke-linejoin="round"/></g>
<path d="M172.5 1583.6H758.6M172.5 1785.0H758.6" stroke="#646464" stroke-width="3.3" fill="none"/>
<path d="M173.5 1582.6V1786.0M757.6 1582.6V1786.0" stroke="#3a3a3a" stroke-width="2.2" fill="none"/>
<text x="161.2" y="1582.4" font-size="14" fill="#777" textLength="81.6" lengthAdjust="spacingAndGlyphs">(x100,000)</text>
<clipPath id="c6_1"><rect x="886.0" y="1583.9" width="584.3" height="201.1"/></clipPath>
<path d="M873.5 1776.4H886.0M878.0 1767.9H886.0M878.0 1759.5H886.0M878.0 1751.0H886.0M878.0 1742.6H886.0M873.5 1734.1H886.0M878.0 1725.6H886.0M878.0 1717.2H886.0M878.0 1708.7H886.0M878.0 1700.3H886.0M873.5 1691.8H886.0M878.0 1683.3H886.0M878.0 1674.9H886.0M878.0 1666.4H886.0M878.0 1658.0H886.0M873.5 1649.5H886.0M878.0 1641.0H886.0M878.0 1632.6H886.0M878.0 1624.1H886.0M878.0 1615.7H886.0M873.5 1607.2H886.0M878.0 1598.7H886.0M878.0 1590.3H886.0" stroke="#5e5e5e" stroke-width="2.8" fill="none"/>
<text class="ax" x="869.5" y="1781.6" font-size="18" fill="#727272" text-anchor="end" textLength="33.3" lengthAdjust="spacingAndGlyphs">0.00</text>
<text class="ax" x="869.5" y="1739.3" font-size="18" fill="#727272" text-anchor="end" textLength="33.3" lengthAdjust="spacingAndGlyphs">0.25</text>
<text class="ax" x="869.5" y="1697.0" font-size="18" fill="#727272" text-anchor="end" textLength="33.3" lengthAdjust="spacingAndGlyphs">0.50</text>
<text class="ax" x="869.5" y="1654.7" font-size="18" fill="#727272" text-anchor="end" textLength="33.3" lengthAdjust="spacingAndGlyphs">0.75</text>
<text class="ax" x="869.5" y="1612.4" font-size="18" fill="#727272" text-anchor="end" textLength="33.3" lengthAdjust="spacingAndGlyphs">1.00</text>
<path d="M899.2 1785.0V1791.0M918.8 1785.0V1796.5M938.4 1785.0V1791.0M958.1 1785.0V1791.0M977.7 1785.0V1791.0M997.3 1785.0V1791.0M1016.9 1785.0V1796.5M1036.6 1785.0V1791.0M1056.2 1785.0V1791.0M1075.8 1785.0V1791.0M1095.5 1785.0V1791.0M1115.1 1785.0V1796.5M1134.7 1785.0V1791.0M1154.4 1785.0V1791.0M1174.0 1785.0V1791.0M1193.6 1785.0V1791.0M1213.2 1785.0V1796.5M1232.9 1785.0V1791.0M1252.5 1785.0V1791.0M1272.1 1785.0V1791.0M1291.8 1785.0V1791.0M1311.4 1785.0V1796.5M1331.0 1785.0V1791.0M1350.7 1785.0V1791.0M1370.3 1785.0V1791.0M1389.9 1785.0V1791.0M1409.5 1785.0V1796.5M1429.2 1785.0V1791.0M1448.8 1785.0V1791.0M1468.4 1785.0V1791.0" stroke="#3a3a3a" stroke-width="2.0" fill="none"/>
<text class="ax" x="917.8" y="1812.5" font-size="18" fill="#727272" text-anchor="middle" textLength="34.3" lengthAdjust="spacingAndGlyphs">10.0</text>
<text class="ax" x="1015.9" y="1812.5" font-size="18" fill="#727272" text-anchor="middle" textLength="34.3" lengthAdjust="spacingAndGlyphs">10.5</text>
<text class="ax" x="1114.1" y="1812.5" font-size="18" fill="#727272" text-anchor="middle" textLength="33.0" lengthAdjust="spacingAndGlyphs">11.0</text>
<text class="ax" x="1212.2" y="1812.5" font-size="18" fill="#727272" text-anchor="middle" textLength="33.0" lengthAdjust="spacingAndGlyphs">11.5</text>
<text class="ax" x="1310.4" y="1812.5" font-size="18" fill="#727272" text-anchor="middle" textLength="34.3" lengthAdjust="spacingAndGlyphs">12.0</text>
<text class="ax" x="1408.5" y="1812.5" font-size="18" fill="#727272" text-anchor="middle" textLength="34.3" lengthAdjust="spacingAndGlyphs">12.5</text>
<text x="1470.8" y="1812.5" font-size="18" fill="#727272" text-anchor="end" textLength="30.5" lengthAdjust="spacingAndGlyphs">min</text>
<g clip-path="url(#c6_1)"><path d="M886.0 1776.6L1073.3 1776.6L1082.3 1776.4L1089.3 1776.0L1095.3 1775.4L1100.8 1774.5L1107.3 1772.7L1113.3 1770.3L1119.3 1766.9L1124.8 1762.9L1130.8 1757.7L1136.8 1751.5L1142.8 1744.5L1155.8 1728.5L1159.3 1724.6L1162.3 1721.5L1165.8 1718.6L1169.3 1716.3L1172.8 1715.0L1175.8 1714.6L1178.7 1715.0L1182.2 1716.3L1185.2 1718.1L1188.7 1721.0L1191.7 1724.0L1194.7 1727.3L1206.7 1741.9L1212.2 1748.2L1218.2 1754.1L1223.7 1758.5L1229.7 1762.4L1236.2 1765.6L1243.7 1768.3L1251.7 1770.3L1262.2 1772.1L1275.2 1773.5L1291.2 1774.6L1311.6 1775.3L1337.1 1775.9L1369.6 1776.2L1470.0 1776.6" stroke="#ff14ff" stroke-width="2.3" fill="none" stroke-linejoin="round"/><path d="M991.8 1776.2L1064.8 1776.1L1075.7 1775.9L1083.7 1775.4L1087.7 1774.9L1091.7 1774.2L1095.2 1773.2L1098.2 1772.1L1101.2 1770.6L1103.7 1769.1L1106.2 1767.2L1108.7 1764.9L1111.7 1761.6L1114.2 1758.3L1116.7 1754.4L1119.2 1749.9L1123.7 1740.2L1128.7 1726.9L1132.7 1714.4L1137.2 1698.8L1149.7 1651.2L1154.2 1634.7L1158.2 1621.4L1162.2 1610.0L1165.7 1601.9L1167.7 1598.3L1169.2 1596.0L1170.7 1594.3L1172.2 1593.1L1173.7 1592.3L1175.2 1592.1L1176.7 1592.4L1178.2 1593.3L1179.7 1594.8L1181.2 1596.7L1182.7 1599.2L1184.2 1602.2L1187.7 1611.0L1190.7 1620.2L1193.7 1630.5L1204.7 1672.1L1210.2 1691.5L1215.7 1708.4L1218.2 1715.1L1221.2 1722.4L1224.2 1728.9L1227.2 1734.5L1230.2 1739.4L1233.1 1743.6L1236.6 1747.8L1240.1 1751.3L1243.6 1754.2L1247.6 1757.0L1252.6 1759.7L1258.1 1762.0L1264.1 1764.0L1271.1 1765.8L1279.6 1767.5L1289.1 1768.9L1300.1 1770.3L1312.1 1771.4L1340.1 1773.3L1373.6 1774.6L1415.0 1775.4L1470.0 1775.9" stroke="#4a4a4a" stroke-width="2.5" fill="none" stroke-linejoin="round"/><path d="M886.0 1775.0L964.0 1775.0L965.5 1776.8L978.5 1776.8L979.6 1775.0L990.7 1775.0L991.8 1776.8" stroke="#4a4a4a" stroke-width="2.5" fill="none" stroke-linejoin="round"/></g>
<path d="M885.0 1583.9H1471.3M885.0 1785.0H1471.3" stroke="#646464" stroke-width="3.3" fill="none"/>
<path d="M886.0 1582.9V1786.0M1470.3 1582.9V1786.0" stroke="#3a3a3a" stroke-width="2.2" fill="none"/>
<text x="875.2" y="1582.7" font-size="14" fill="#777" textLength="81.6" lengthAdjust="spacingAndGlyphs">(x100,000)</text>
<clipPath id="c7_0"><rect x="173.5" y="1843.9" width="584.1" height="201.3"/></clipPath>
<path d="M161.0 2037.5H173.5M165.5 2025.0H173.5M165.5 2012.5H173.5M165.5 1999.9H173.5M165.5 1987.4H173.5M161.0 1974.9H173.5M165.5 1962.4H173.5M165.5 1949.9H173.5M165.5 1937.3H173.5M165.5 1924.8H173.5M161.0 1912.3H173.5M165.5 1899.8H173.5M165.5 1887.3H173.5M165.5 1874.7H173.5M165.5 1862.2H173.5M161.0 1849.7H173.5" stroke="#5e5e5e" stroke-width="2.8" fill="none"/>
<text class="ax" x="157.0" y="2042.7" font-size="18" fill="#727272" text-anchor="end" textLength="23.8" lengthAdjust="spacingAndGlyphs">0.0</text>
<text class="ax" x="157.0" y="1980.1" font-size="18" fill="#727272" text-anchor="end" textLength="23.8" lengthAdjust="spacingAndGlyphs">2.5</text>
<text class="ax" x="157.0" y="1917.5" font-size="18" fill="#727272" text-anchor="end" textLength="23.8" lengthAdjust="spacingAndGlyphs">5.0</text>
<text class="ax" x="157.0" y="1854.9" font-size="18" fill="#727272" text-anchor="end" textLength="23.8" lengthAdjust="spacingAndGlyphs">7.5</text>
<path d="M179.1 2045.2V2051.2M198.7 2045.2V2051.2M218.4 2045.2V2051.2M238.0 2045.2V2056.7M257.6 2045.2V2051.2M277.3 2045.2V2051.2M296.9 2045.2V2051.2M316.5 2045.2V2051.2M336.1 2045.2V2056.7M355.8 2045.2V2051.2M375.4 2045.2V2051.2M395.0 2045.2V2051.2M414.7 2045.2V2051.2M434.3 2045.2V2056.7M453.9 2045.2V2051.2M473.6 2045.2V2051.2M493.2 2045.2V2051.2M512.8 2045.2V2051.2M532.5 2045.2V2056.7M552.1 2045.2V2051.2M571.7 2045.2V2051.2M591.3 2045.2V2051.2M611.0 2045.2V2051.2M630.6 2045.2V2056.7M650.2 2045.2V2051.2M669.9 2045.2V2051.2M689.5 2045.2V2051.2M709.1 2045.2V2051.2M728.8 2045.2V2056.7M748.4 2045.2V2051.2" stroke="#3a3a3a" stroke-width="2.0" fill="none"/>
<text class="ax" x="237.0" y="2072.7" font-size="18" fill="#727272" text-anchor="middle" textLength="34.3" lengthAdjust="spacingAndGlyphs">13.0</text>
<text class="ax" x="335.1" y="2072.7" font-size="18" fill="#727272" text-anchor="middle" textLength="34.3" lengthAdjust="spacingAndGlyphs">13.5</text>
<text class="ax" x="433.3" y="2072.7" font-size="18" fill="#727272" text-anchor="middle" textLength="34.3" lengthAdjust="spacingAndGlyphs">14.0</text>
<text class="ax" x="531.5" y="2072.7" font-size="18" fill="#727272" text-anchor="middle" textLength="34.3" lengthAdjust="spacingAndGlyphs">14.5</text>
<text class="ax" x="629.6" y="2072.7" font-size="18" fill="#727272" text-anchor="middle" textLength="34.3" lengthAdjust="spacingAndGlyphs">15.0</text>
<text x="758.1" y="2072.7" font-size="18" fill="#727272" text-anchor="end" textLength="30.5" lengthAdjust="spacingAndGlyphs">min</text>
<g clip-path="url(#c7_0)"><path d="M173.0 2036.8L428.8 2036.8L434.3 2036.7L437.8 2036.4L440.3 2035.8L442.8 2034.7L444.8 2033.2L446.8 2030.8L448.3 2028.3L449.8 2024.9L452.3 2017.1L453.8 2010.7L454.8 2005.4L456.3 1994.9L457.3 1985.7L458.8 1967.9L462.3 1920.4L463.8 1904.6L465.2 1891.7L467.7 1873.9L469.7 1862.8L470.7 1858.7L471.7 1855.5L472.7 1853.6L473.2 1853.0L473.7 1852.8L474.2 1852.9L475.2 1854.1L476.7 1858.1L478.2 1864.7L479.7 1873.7L482.2 1892.5L490.2 1961.4L493.2 1982.3L495.7 1996.1L497.2 2002.8L498.7 2008.4L500.2 2013.1L502.2 2018.1L504.2 2021.8L506.2 2024.6L508.2 2026.7L510.7 2028.6L513.7 2030.2L517.2 2031.5L521.7 2032.5L527.2 2033.4L534.2 2034.3L542.7 2035.0L563.2 2036.0L588.6 2036.5L625.1 2036.8L701.5 2036.8L757.0 2036.6" stroke="#4a4a4a" stroke-width="2.5" fill="none" stroke-linejoin="round"/><path d="M173.0 2035.5L430.3 2035.5L435.3 2035.3L438.8 2035.0L441.3 2034.3L443.3 2033.4L445.3 2031.7L446.8 2029.9L448.3 2027.4L449.8 2023.9L451.3 2019.4L452.3 2015.6L454.8 2003.4L456.3 1993.5L457.8 1979.9L458.8 1967.6L461.8 1923.7L462.8 1912.4L464.3 1899.1L467.3 1877.0L469.8 1862.3L470.8 1858.0L471.8 1854.9L472.8 1853.0L473.3 1852.5L473.8 1852.3L474.3 1852.5L474.8 1853.0L475.3 1853.9L476.3 1856.5L477.3 1860.4L478.8 1868.3L481.3 1885.9L488.3 1946.0L491.8 1972.2L493.8 1984.5L495.8 1994.7L497.8 2003.0L499.8 2009.5L501.8 2014.5L503.8 2018.2L506.3 2021.4L508.8 2023.4L511.8 2024.9L519.8 2027.7L530.8 2033.0L534.8 2034.2L539.3 2035.0" stroke="#ff14ff" stroke-width="2.3" fill="none" stroke-linejoin="round"/><path d="M548.0 2035.0L558.5 2035.0L561.0 2034.8L561.5 2034.6L563.0 2032.9L563.5 2032.6L564.0 2032.7L565.5 2034.4L566.0 2034.8L566.5 2034.8L619.8 2035.0L621.3 2034.8L624.3 2033.5L625.8 2033.2L626.8 2033.3L629.8 2034.7L630.8 2035.0L712.1 2035.0L713.6 2034.6L718.1 2032.5L723.1 2031.2L726.6 2030.8L730.1 2031.2L735.1 2032.5L738.5 2034.6L739.5 2035.0L757.0 2035.0" stroke="#ff14ff" stroke-width="2.3" fill="none" stroke-linejoin="round"/></g>
<path d="M172.5 1843.9H758.6M172.5 2045.2H758.6" stroke="#646464" stroke-width="3.3" fill="none"/>
<path d="M173.5 1842.9V2046.2M757.6 1842.9V2046.2" stroke="#3a3a3a" stroke-width="2.2" fill="none"/>
<text x="161.2" y="1842.7" font-size="14" fill="#777" textLength="63.1" lengthAdjust="spacingAndGlyphs">(x1,000)</text>
<clipPath id="c7_1"><rect x="886.0" y="1844.2" width="584.3" height="201.0"/></clipPath>
<path d="M873.5 2037.5H886.0M878.0 2028.6H886.0M878.0 2019.7H886.0M878.0 2010.8H886.0M878.0 2001.9H886.0M873.5 1993.0H886.0M878.0 1984.1H886.0M878.0 1975.2H886.0M878.0 1966.3H886.0M878.0 1957.4H886.0M873.5 1948.5H886.0M878.0 1939.7H886.0M878.0 1930.8H886.0M878.0 1921.9H886.0M878.0 1913.0H886.0M873.5 1904.1H886.0M878.0 1895.2H886.0M878.0 1886.3H886.0M878.0 1877.4H886.0M878.0 1868.5H886.0M873.5 1859.6H886.0M878.0 1850.7H886.0" stroke="#5e5e5e" stroke-width="2.8" fill="none"/>
<text class="ax" x="869.5" y="2042.7" font-size="18" fill="#727272" text-anchor="end" textLength="33.3" lengthAdjust="spacingAndGlyphs">0.00</text>
<text class="ax" x="869.5" y="1998.2" font-size="18" fill="#727272" text-anchor="end" textLength="33.3" lengthAdjust="spacingAndGlyphs">0.25</text>
<text class="ax" x="869.5" y="1953.8" font-size="18" fill="#727272" text-anchor="end" textLength="33.3" lengthAdjust="spacingAndGlyphs">0.50</text>
<text class="ax" x="869.5" y="1909.3" font-size="18" fill="#727272" text-anchor="end" textLength="33.3" lengthAdjust="spacingAndGlyphs">0.75</text>
<text class="ax" x="869.5" y="1864.8" font-size="18" fill="#727272" text-anchor="end" textLength="33.3" lengthAdjust="spacingAndGlyphs">1.00</text>
<path d="M892.7 2045.2V2051.2M912.3 2045.2V2051.2M932.0 2045.2V2051.2M951.6 2045.2V2056.7M971.2 2045.2V2051.2M990.9 2045.2V2051.2M1010.5 2045.2V2051.2M1030.1 2045.2V2051.2M1049.8 2045.2V2056.7M1069.4 2045.2V2051.2M1089.0 2045.2V2051.2M1108.6 2045.2V2051.2M1128.3 2045.2V2051.2M1147.9 2045.2V2056.7M1167.5 2045.2V2051.2M1187.2 2045.2V2051.2M1206.8 2045.2V2051.2M1226.4 2045.2V2051.2M1246.1 2045.2V2056.7M1265.7 2045.2V2051.2M1285.3 2045.2V2051.2M1304.9 2045.2V2051.2M1324.6 2045.2V2051.2M1344.2 2045.2V2056.7M1363.8 2045.2V2051.2M1383.5 2045.2V2051.2M1403.1 2045.2V2051.2M1422.7 2045.2V2051.2M1442.3 2045.2V2056.7M1462.0 2045.2V2051.2" stroke="#3a3a3a" stroke-width="2.0" fill="none"/>
<text class="ax" x="950.6" y="2072.7" font-size="18" fill="#727272" text-anchor="middle" textLength="34.3" lengthAdjust="spacingAndGlyphs">13.0</text>
<text class="ax" x="1048.8" y="2072.7" font-size="18" fill="#727272" text-anchor="middle" textLength="34.3" lengthAdjust="spacingAndGlyphs">13.5</text>
<text class="ax" x="1146.9" y="2072.7" font-size="18" fill="#727272" text-anchor="middle" textLength="34.3" lengthAdjust="spacingAndGlyphs">14.0</text>
<text class="ax" x="1245.1" y="2072.7" font-size="18" fill="#727272" text-anchor="middle" textLength="34.3" lengthAdjust="spacingAndGlyphs">14.5</text>
<text class="ax" x="1343.2" y="2072.7" font-size="18" fill="#727272" text-anchor="middle" textLength="34.3" lengthAdjust="spacingAndGlyphs">15.0</text>
<text x="1470.8" y="2072.7" font-size="18" fill="#727272" text-anchor="end" textLength="30.5" lengthAdjust="spacingAndGlyphs">min</text>
<g clip-path="url(#c7_1)"><path d="M886.3 1956.8L887.3 1956.2L888.8 1955.7L891.8 1955.6L892.8 1956.2L894.8 1957.9L897.8 1959.8L899.3 1960.5L900.3 1960.6L901.8 1960.1L904.8 1958.2L910.3 1956.8L911.8 1955.3L914.3 1951.2L917.3 1942.9L918.8 1939.3L920.8 1935.3L922.3 1933.2L923.8 1931.5L925.3 1930.4L926.8 1929.8L931.8 1928.4L932.8 1927.9L933.3 1927.4L934.3 1924.9L936.3 1918.8L949.8 1873.0L952.8 1866.3L953.8 1865.1L954.3 1864.9L955.3 1865.3L956.3 1866.2L957.8 1868.3L958.8 1870.5L959.8 1874.3L961.8 1883.7L965.3 1902.5L967.8 1913.7L968.8 1917.4L970.8 1922.9L971.8 1925.2L972.8 1926.5L976.8 1926.6L977.3 1926.4L977.8 1925.4L980.3 1916.2L982.8 1905.3L984.8 1899.6L985.8 1897.5L986.8 1896.4L990.8 1896.4L991.3 1896.5L992.3 1897.4L994.3 1899.9L997.8 1903.4L999.8 1905.7L1001.8 1908.5L1004.3 1912.8L1006.3 1917.9L1008.8 1928.8L1010.8 1934.8L1011.8 1936.5L1012.3 1936.6L1012.8 1936.2L1013.3 1935.1L1018.3 1919.7L1019.3 1917.3L1020.3 1915.7L1021.8 1913.8L1022.8 1912.9L1023.3 1912.8L1027.3 1912.8L1028.3 1913.2L1029.8 1914.8L1031.8 1918.0L1035.3 1928.0L1037.3 1934.7L1038.3 1936.5L1038.8 1936.7L1039.3 1936.5L1042.3 1934.2L1044.8 1933.1L1046.3 1932.9L1046.8 1933.1L1047.8 1934.0L1058.3 1947.5L1060.7 1950.1L1067.2 1956.4L1069.7 1959.4L1071.2 1961.8L1072.7 1964.9L1075.7 1975.4L1077.2 1978.9L1078.7 1981.6L1079.7 1982.9L1081.7 1984.8L1082.7 1985.4L1083.7 1985.7L1084.2 1985.7L1085.7 1984.4L1091.2 1977.2L1094.2 1972.5L1094.7 1972.0L1095.2 1971.9L1096.2 1972.0L1097.7 1972.5L1099.2 1973.4L1099.7 1973.9L1101.2 1976.4L1103.2 1980.6L1106.2 1988.9L1109.2 1995.6L1110.2 1997.0L1111.7 1998.5L1113.2 1999.4L1114.2 1999.6L1114.7 1999.3L1115.7 1998.2L1118.2 1993.8L1123.2 1980.1L1124.7 1976.6L1125.7 1975.3L1127.7 1973.6L1128.7 1973.2L1129.7 1973.3L1131.2 1974.6L1133.2 1977.4L1136.2 1983.7L1139.2 1988.6L1140.7 1990.4L1141.7 1990.8L1143.2 1990.2L1145.7 1988.1L1152.7 1978.7L1156.7 1974.6L1157.7 1973.8L1158.7 1973.3L1160.2 1973.3L1161.7 1973.9L1164.7 1975.9L1167.7 1979.1L1169.7 1980.3L1170.2 1980.9L1171.7 1985.4L1172.2 1986.0L1173.7 1986.9L1174.2 1987.4L1177.2 1992.8L1178.7 1994.3L1182.7 1997.1L1186.2 2001.8L1190.2 2006.3L1191.7 2006.9L1204.2 2006.9L1205.2 2007.1L1206.7 2008.2L1209.2 2010.9L1212.7 2014.1L1214.2 2015.0L1215.2 2015.0L1216.2 2014.4L1217.2 2013.3L1219.2 2010.1L1220.2 2007.4L1226.2 1987.2L1227.7 1983.5L1230.7 1977.2L1233.2 1970.5L1236.2 1960.4L1242.2 1935.3L1244.2 1930.2L1245.7 1927.5L1246.7 1926.8L1248.2 1927.1L1253.7 1929.3L1254.7 1929.3L1255.2 1929.0L1256.7 1926.4L1261.2 1916.5L1262.7 1912.3L1264.7 1905.0L1266.7 1896.7L1270.7 1878.2L1275.2 1860.6L1276.7 1856.0L1277.2 1855.3L1277.7 1855.2L1280.7 1855.2L1281.2 1855.7L1282.2 1858.1L1283.7 1863.5L1284.7 1868.4L1286.2 1878.2L1287.2 1883.4L1297.2 1929.6L1303.7 1963.0L1308.2 1982.5L1311.2 1993.0L1312.2 1995.9L1312.7 1996.8L1313.2 1997.2L1317.2 1997.2L1317.7 1996.8L1318.7 1994.9L1320.7 1990.0L1322.7 1987.2L1323.7 1986.2L1324.7 1985.7L1325.2 1985.8L1325.7 1986.1L1326.7 1987.4L1329.2 1991.7L1335.7 2005.2L1338.2 2008.7L1339.7 2009.9L1341.2 2009.9L1344.2 2008.6L1348.7 2005.2L1351.2 2003.5L1352.7 2002.7L1354.2 2002.3L1355.7 2002.9L1358.7 2005.4L1362.2 2009.0L1364.2 2011.4L1365.2 2012.3L1367.7 2012.9L1371.2 2013.0L1372.2 2012.6L1373.2 2011.7L1375.2 2009.3L1376.2 2007.2L1382.2 1991.3L1387.2 1979.4L1390.2 1971.3L1393.7 1959.4L1396.2 1953.2L1399.2 1946.8L1401.7 1942.0L1408.2 1931.1L1410.7 1927.3L1412.7 1924.7L1415.2 1922.4L1416.7 1921.7L1417.7 1922.0L1419.2 1924.0L1421.2 1927.7L1424.2 1936.2L1426.7 1940.4L1427.7 1941.6L1429.2 1942.6L1431.2 1943.3L1432.7 1943.4L1433.7 1942.5L1434.7 1941.0L1436.7 1937.3L1437.7 1934.8L1441.2 1924.2L1444.2 1914.1L1446.2 1906.5L1447.2 1904.1L1447.7 1903.8L1451.7 1903.8L1452.2 1904.3L1452.7 1905.1L1453.7 1907.7L1455.7 1913.9L1459.2 1928.2L1462.2 1936.7L1464.2 1940.3L1466.2 1942.8L1468.7 1945.0L1470.7 1946.0" stroke="#ff14ff" stroke-width="2.3" fill="none" stroke-linejoin="round"/><path d="M886.3 2034.8L897.3 2035.0L904.8 2036.0L908.8 2037.2L910.3 2037.3L911.8 2037.1L915.3 2036.1L920.3 2035.3L923.8 2033.9L925.3 2033.6L927.3 2033.9L933.8 2035.9L936.3 2036.1L941.3 2035.4L948.3 2034.8L949.8 2034.2L952.8 2032.4L957.3 2030.5L962.3 2029.5L965.8 2029.3L972.3 2030.6L982.3 2031.9L990.3 2034.8L991.8 2034.7L995.3 2033.6L1001.3 2033.6L1002.8 2033.9L1009.8 2036.0L1016.3 2036.1L1020.8 2034.9L1026.3 2033.7L1028.3 2033.6L1033.8 2033.6L1035.8 2033.9L1038.8 2034.9L1043.3 2036.8L1048.3 2037.3L1051.8 2037.0L1059.2 2035.4L1062.2 2034.4L1066.7 2032.0L1069.7 2031.3L1072.2 2031.1L1073.2 2031.1L1074.7 2031.8L1078.2 2034.0L1080.7 2036.0L1082.2 2036.8L1090.2 2037.3L1098.7 2037.3L1100.2 2037.2L1102.2 2036.4L1105.7 2034.6L1109.7 2032.0L1112.2 2031.3L1113.7 2031.1L1114.2 2031.1L1115.2 2031.5L1119.7 2035.0L1121.2 2035.9L1124.7 2037.0L1127.7 2037.3L1131.2 2036.9L1134.7 2035.9L1138.7 2034.4L1143.2 2033.6L1152.2 2033.6L1156.2 2034.8L1161.7 2034.8L1163.2 2034.7L1166.7 2033.6L1169.7 2033.0L1170.7 2033.1L1175.2 2034.6L1177.2 2035.1L1196.2 2035.1L1197.7 2035.4L1202.7 2036.8L1209.7 2037.4L1223.2 2037.3L1231.2 2036.9L1232.7 2036.5L1236.2 2034.7L1237.7 2034.3L1240.7 2034.5L1244.2 2035.1L1245.2 2035.4L1248.2 2037.1L1249.2 2037.4L1251.2 2037.1L1258.7 2034.6L1260.7 2034.3L1263.2 2034.5L1266.2 2035.1L1269.7 2037.0L1270.7 2037.3L1292.2 2037.3L1301.7 2036.8L1307.2 2036.2L1309.2 2035.9L1313.2 2034.5L1314.7 2034.3L1316.2 2034.6L1319.2 2035.9L1321.7 2036.7L1324.2 2037.3L1326.2 2037.2L1330.7 2035.4L1332.2 2035.1L1333.7 2035.4L1336.2 2036.9L1337.2 2037.3L1346.7 2037.4L1349.7 2036.9L1354.2 2035.6L1358.7 2033.6L1360.2 2033.1L1367.2 2032.5L1370.7 2031.7L1371.2 2031.8L1372.2 2032.2L1377.7 2036.5L1378.7 2036.9L1382.2 2037.3L1383.7 2037.4L1384.7 2037.1L1388.2 2035.2L1393.7 2035.1L1395.2 2035.4L1397.7 2037.0L1398.7 2037.3L1408.7 2037.3L1410.7 2036.9L1414.7 2035.5L1418.7 2033.2L1424.2 2033.0L1425.2 2033.1L1426.7 2033.5L1433.2 2037.0L1434.7 2037.4L1470.7 2037.4" stroke="#4a4a4a" stroke-width="2.5" fill="none" stroke-linejoin="round"/></g>
<path d="M885.0 1844.2H1471.3M885.0 2045.2H1471.3" stroke="#646464" stroke-width="3.3" fill="none"/>
<path d="M886.0 1843.2V2046.2M1470.3 1843.2V2046.2" stroke="#3a3a3a" stroke-width="2.2" fill="none"/>
<text x="875.2" y="1843.0" font-size="14" fill="#777" textLength="63.1" lengthAdjust="spacingAndGlyphs">(x1,000)</text>
<clipPath id="c8_0"><rect x="173.5" y="2104.2" width="584.1" height="201.2"/></clipPath>
<path d="M161.0 2298.1H173.5M165.5 2283.0H173.5M165.5 2268.0H173.5M165.5 2252.9H173.5M165.5 2237.9H173.5M161.0 2222.8H173.5M165.5 2207.8H173.5M165.5 2192.8H173.5M165.5 2177.7H173.5M165.5 2162.7H173.5M161.0 2147.6H173.5M165.5 2132.5H173.5M165.5 2117.5H173.5" stroke="#5e5e5e" stroke-width="2.8" fill="none"/>
<text class="ax" x="157.0" y="2303.3" font-size="18" fill="#727272" text-anchor="end" textLength="23.8" lengthAdjust="spacingAndGlyphs">0.0</text>
<text class="ax" x="157.0" y="2228.0" font-size="18" fill="#727272" text-anchor="end" textLength="23.8" lengthAdjust="spacingAndGlyphs">2.5</text>
<text class="ax" x="157.0" y="2152.8" font-size="18" fill="#727272" text-anchor="end" textLength="23.8" lengthAdjust="spacingAndGlyphs">5.0</text>
<path d="M189.4 2305.4V2311.4M209.1 2305.4V2311.4M228.8 2305.4V2311.4M248.5 2305.4V2311.4M268.2 2305.4V2316.9M287.9 2305.4V2311.4M307.6 2305.4V2311.4M327.3 2305.4V2311.4M347.0 2305.4V2311.4M366.7 2305.4V2316.9M386.4 2305.4V2311.4M406.1 2305.4V2311.4M425.8 2305.4V2311.4M445.5 2305.4V2311.4M465.2 2305.4V2316.9M484.9 2305.4V2311.4M504.6 2305.4V2311.4M524.3 2305.4V2311.4M544.0 2305.4V2311.4M563.7 2305.4V2316.9M583.4 2305.4V2311.4M603.1 2305.4V2311.4M622.8 2305.4V2311.4M642.5 2305.4V2311.4M662.2 2305.4V2316.9M681.9 2305.4V2311.4M701.6 2305.4V2311.4M721.3 2305.4V2311.4M741.0 2305.4V2311.4" stroke="#3a3a3a" stroke-width="2.0" fill="none"/>
<text class="ax" x="267.2" y="2332.9" font-size="18" fill="#727272" text-anchor="middle" textLength="34.3" lengthAdjust="spacingAndGlyphs">13.5</text>
<text class="ax" x="365.7" y="2332.9" font-size="18" fill="#727272" text-anchor="middle" textLength="34.3" lengthAdjust="spacingAndGlyphs">14.0</text>
<text class="ax" x="464.2" y="2332.9" font-size="18" fill="#727272" text-anchor="middle" textLength="34.3" lengthAdjust="spacingAndGlyphs">14.5</text>
<text class="ax" x="562.7" y="2332.9" font-size="18" fill="#727272" text-anchor="middle" textLength="34.3" lengthAdjust="spacingAndGlyphs">15.0</text>
<text class="ax" x="661.2" y="2332.9" font-size="18" fill="#727272" text-anchor="middle" textLength="34.3" lengthAdjust="spacingAndGlyphs">15.5</text>
<text x="758.1" y="2332.9" font-size="18" fill="#727272" text-anchor="end" textLength="30.5" lengthAdjust="spacingAndGlyphs">min</text>
<g clip-path="url(#c8_0)"><path d="M173.0 2297.6L414.3 2297.6L424.3 2297.4L429.8 2296.7L433.8 2295.5L436.8 2293.8L439.8 2291.1L442.8 2287.2L445.3 2282.8L448.3 2276.3L456.8 2253.7L460.3 2245.7L462.3 2242.2L463.8 2240.4L465.3 2239.2L466.8 2238.8L468.3 2239.1L469.8 2240.0L471.3 2241.6L473.3 2244.6L476.3 2250.4L482.3 2264.0L485.3 2270.3L488.3 2275.6L491.3 2279.7L495.3 2283.7L500.3 2287.4L505.8 2290.7L511.3 2293.0L516.8 2294.5L523.3 2295.6L531.3 2296.4L541.8 2297.0L571.7 2297.5L638.7 2297.6" stroke="#ff14ff" stroke-width="2.3" fill="none" stroke-linejoin="round"/><path d="M173.0 2296.9L417.7 2296.9L423.2 2296.8L426.7 2296.4L429.2 2295.8L431.7 2294.6L433.7 2293.0L435.2 2291.3L436.7 2288.9L438.2 2285.6L440.7 2278.0L443.2 2267.0L445.7 2252.1L448.2 2233.2L450.7 2211.0L456.2 2158.5L459.2 2134.8L461.2 2123.3L462.7 2117.6L464.2 2114.2L465.2 2113.1L466.2 2112.8L467.2 2113.0L468.7 2114.2L470.2 2116.0L471.7 2118.6L472.7 2121.0L473.7 2124.2L475.2 2130.9L477.7 2146.8L483.2 2190.4L485.7 2208.2L488.7 2225.9L490.2 2233.3L492.2 2241.9L493.7 2247.4L495.7 2253.8L499.1 2262.7L501.1 2266.7L503.1 2270.1L505.6 2273.6L508.1 2276.6L511.1 2279.5L514.6 2282.2L518.6 2284.6L522.6 2286.6L527.1 2288.3L532.6 2290.0L538.6 2291.4L545.6 2292.6L553.1 2293.7L561.1 2294.5L580.1 2295.7L604.0 2296.4L638.0 2296.8" stroke="#4a4a4a" stroke-width="2.5" fill="none" stroke-linejoin="round"/><path d="M638.0 2295.8L640.5 2297.5L757.0 2297.5" stroke="#4a4a4a" stroke-width="2.5" fill="none" stroke-linejoin="round"/></g>
<path d="M172.5 2104.2H758.6M172.5 2305.4H758.6" stroke="#646464" stroke-width="3.3" fill="none"/>
<path d="M173.5 2103.2V2306.4M757.6 2103.2V2306.4" stroke="#3a3a3a" stroke-width="2.2" fill="none"/>
<text x="161.2" y="2103.0" font-size="14" fill="#777" textLength="81.6" lengthAdjust="spacingAndGlyphs">(x100,000)</text>
<clipPath id="c8_1"><rect x="886.0" y="2104.5" width="584.3" height="200.9"/></clipPath>
<path d="M873.5 2297.8H886.0M878.0 2282.0H886.0M878.0 2266.2H886.0M878.0 2250.4H886.0M878.0 2234.6H886.0M873.5 2218.8H886.0M878.0 2203.0H886.0M878.0 2187.2H886.0M878.0 2171.4H886.0M878.0 2155.6H886.0M873.5 2139.8H886.0M878.0 2124.0H886.0M878.0 2108.2H886.0" stroke="#5e5e5e" stroke-width="2.8" fill="none"/>
<text class="ax" x="869.5" y="2303.0" font-size="18" fill="#727272" text-anchor="end" textLength="23.8" lengthAdjust="spacingAndGlyphs">0.0</text>
<text class="ax" x="869.5" y="2224.0" font-size="18" fill="#727272" text-anchor="end" textLength="23.8" lengthAdjust="spacingAndGlyphs">2.5</text>
<text class="ax" x="869.5" y="2145.0" font-size="18" fill="#727272" text-anchor="end" textLength="23.8" lengthAdjust="spacingAndGlyphs">5.0</text>
<path d="M903.0 2305.4V2311.4M922.7 2305.4V2311.4M942.4 2305.4V2311.4M962.1 2305.4V2311.4M981.8 2305.4V2316.9M1001.5 2305.4V2311.4M1021.2 2305.4V2311.4M1040.9 2305.4V2311.4M1060.6 2305.4V2311.4M1080.3 2305.4V2316.9M1100.0 2305.4V2311.4M1119.7 2305.4V2311.4M1139.4 2305.4V2311.4M1159.1 2305.4V2311.4M1178.8 2305.4V2316.9M1198.5 2305.4V2311.4M1218.2 2305.4V2311.4M1237.9 2305.4V2311.4M1257.6 2305.4V2311.4M1277.3 2305.4V2316.9M1297.0 2305.4V2311.4M1316.7 2305.4V2311.4M1336.4 2305.4V2311.4M1356.1 2305.4V2311.4M1375.8 2305.4V2316.9M1395.5 2305.4V2311.4M1415.2 2305.4V2311.4M1434.9 2305.4V2311.4M1454.6 2305.4V2311.4" stroke="#3a3a3a" stroke-width="2.0" fill="none"/>
<text class="ax" x="980.8" y="2332.9" font-size="18" fill="#727272" text-anchor="middle" textLength="34.3" lengthAdjust="spacingAndGlyphs">13.5</text>
<text class="ax" x="1079.3" y="2332.9" font-size="18" fill="#727272" text-anchor="middle" textLength="34.3" lengthAdjust="spacingAndGlyphs">14.0</text>
<text class="ax" x="1177.8" y="2332.9" font-size="18" fill="#727272" text-anchor="middle" textLength="34.3" lengthAdjust="spacingAndGlyphs">14.5</text>
<text class="ax" x="1276.3" y="2332.9" font-size="18" fill="#727272" text-anchor="middle" textLength="34.3" lengthAdjust="spacingAndGlyphs">15.0</text>
<text class="ax" x="1374.8" y="2332.9" font-size="18" fill="#727272" text-anchor="middle" textLength="34.3" lengthAdjust="spacingAndGlyphs">15.5</text>
<text x="1470.8" y="2332.9" font-size="18" fill="#727272" text-anchor="end" textLength="30.5" lengthAdjust="spacingAndGlyphs">min</text>
<g clip-path="url(#c8_1)"><path d="M886.0 2297.7L1117.4 2297.6L1126.9 2297.5L1132.9 2296.8L1136.9 2295.5L1139.9 2293.9L1142.9 2291.3L1145.9 2287.5L1148.4 2283.4L1151.4 2277.3L1160.4 2254.7L1163.9 2247.2L1165.9 2244.0L1167.4 2242.2L1169.4 2240.8L1170.9 2240.5L1172.4 2240.8L1174.4 2242.1L1175.9 2243.7L1177.9 2246.5L1180.9 2251.8L1187.4 2264.9L1190.4 2270.5L1193.4 2275.5L1196.4 2279.6L1199.4 2283.0L1202.9 2286.0L1206.9 2288.7L1210.9 2290.7L1215.9 2292.6L1221.3 2294.0L1227.8 2295.0L1235.3 2295.7L1244.3 2296.2L1255.8 2296.4L1297.3 2296.8" stroke="#ff14ff" stroke-width="2.3" fill="none" stroke-linejoin="round"/><path d="M886.0 2297.5L1120.8 2297.5L1125.8 2297.4L1129.3 2297.1L1131.8 2296.5L1134.3 2295.4L1135.8 2294.3L1137.3 2292.7L1138.8 2290.6L1140.3 2287.7L1141.8 2283.9L1142.8 2280.7L1145.3 2270.5L1147.8 2256.5L1150.3 2238.5L1152.8 2217.2L1158.8 2161.8L1160.8 2146.0L1162.3 2136.3L1164.3 2126.4L1165.3 2122.9L1166.3 2120.3L1167.3 2118.3L1168.8 2116.4L1170.3 2115.4L1171.3 2115.1L1172.3 2115.3L1172.8 2115.5L1173.8 2116.6L1174.3 2117.4L1175.8 2121.4L1177.3 2127.8L1179.2 2139.8L1185.2 2184.6L1188.7 2207.4L1190.7 2218.4L1192.7 2228.1L1194.7 2236.4L1197.2 2245.3L1199.7 2252.7L1202.2 2258.9L1204.7 2264.1L1207.7 2269.2L1211.2 2274.0L1214.7 2277.8L1218.7 2281.2L1222.7 2284.0L1227.2 2286.4L1232.7 2288.6L1238.2 2290.4L1244.7 2291.9L1252.2 2293.3L1260.2 2294.3L1269.7 2295.2L1280.2 2295.9L1303.6 2296.8L1335.6 2297.3L1470.0 2297.5" stroke="#4a4a4a" stroke-width="2.5" fill="none" stroke-linejoin="round"/></g>
<path d="M885.0 2104.5H1471.3M885.0 2305.4H1471.3" stroke="#646464" stroke-width="3.3" fill="none"/>
<path d="M886.0 2103.5V2306.4M1470.3 2103.5V2306.4" stroke="#3a3a3a" stroke-width="2.2" fill="none"/>
<text x="875.2" y="2103.3" font-size="14" fill="#777" textLength="81.6" lengthAdjust="spacingAndGlyphs">(x100,000)</text>
<clipPath id="c9_0"><rect x="173.5" y="2364.5" width="584.1" height="201.0"/></clipPath>
<path d="M161.0 2558.2H173.5M165.5 2545.5H173.5M165.5 2532.8H173.5M165.5 2520.2H173.5M165.5 2507.5H173.5M161.0 2494.8H173.5M165.5 2482.1H173.5M165.5 2469.4H173.5M165.5 2456.8H173.5M165.5 2444.1H173.5M161.0 2431.4H173.5M165.5 2418.7H173.5M165.5 2406.0H173.5M165.5 2393.4H173.5M165.5 2380.7H173.5M161.0 2368.0H173.5" stroke="#5e5e5e" stroke-width="2.8" fill="none"/>
<text class="ax" x="157.0" y="2563.4" font-size="18" fill="#727272" text-anchor="end" textLength="23.8" lengthAdjust="spacingAndGlyphs">0.0</text>
<text class="ax" x="157.0" y="2500.0" font-size="18" fill="#727272" text-anchor="end" textLength="23.8" lengthAdjust="spacingAndGlyphs">1.0</text>
<text class="ax" x="157.0" y="2436.6" font-size="18" fill="#727272" text-anchor="end" textLength="23.8" lengthAdjust="spacingAndGlyphs">2.0</text>
<text class="ax" x="157.0" y="2373.2" font-size="18" fill="#727272" text-anchor="end" textLength="23.8" lengthAdjust="spacingAndGlyphs">3.0</text>
<path d="M175.0 2565.5V2577.0M194.7 2565.5V2571.5M214.3 2565.5V2571.5M233.9 2565.5V2571.5M253.6 2565.5V2571.5M273.2 2565.5V2577.0M292.8 2565.5V2571.5M312.5 2565.5V2571.5M332.1 2565.5V2571.5M351.7 2565.5V2571.5M371.4 2565.5V2577.0M391.0 2565.5V2571.5M410.6 2565.5V2571.5M430.2 2565.5V2571.5M449.9 2565.5V2571.5M469.5 2565.5V2577.0M489.1 2565.5V2571.5M508.8 2565.5V2571.5M528.4 2565.5V2571.5M548.0 2565.5V2571.5M567.7 2565.5V2577.0M587.3 2565.5V2571.5M606.9 2565.5V2571.5M626.5 2565.5V2571.5M646.2 2565.5V2571.5M665.8 2565.5V2577.0M685.4 2565.5V2571.5M705.1 2565.5V2571.5M724.7 2565.5V2571.5M744.3 2565.5V2571.5" stroke="#3a3a3a" stroke-width="2.0" fill="none"/>
<text class="ax" x="174.0" y="2593.0" font-size="18" fill="#727272" text-anchor="middle" textLength="34.3" lengthAdjust="spacingAndGlyphs">13.5</text>
<text class="ax" x="272.2" y="2593.0" font-size="18" fill="#727272" text-anchor="middle" textLength="34.3" lengthAdjust="spacingAndGlyphs">14.0</text>
<text class="ax" x="370.4" y="2593.0" font-size="18" fill="#727272" text-anchor="middle" textLength="34.3" lengthAdjust="spacingAndGlyphs">14.5</text>
<text class="ax" x="468.5" y="2593.0" font-size="18" fill="#727272" text-anchor="middle" textLength="34.3" lengthAdjust="spacingAndGlyphs">15.0</text>
<text class="ax" x="566.7" y="2593.0" font-size="18" fill="#727272" text-anchor="middle" textLength="34.3" lengthAdjust="spacingAndGlyphs">15.5</text>
<text class="ax" x="664.8" y="2593.0" font-size="18" fill="#727272" text-anchor="middle" textLength="34.3" lengthAdjust="spacingAndGlyphs">16.0</text>
<text x="758.1" y="2593.0" font-size="18" fill="#727272" text-anchor="end" textLength="30.5" lengthAdjust="spacingAndGlyphs">min</text>
<g clip-path="url(#c9_0)"><path d="M173.0 2556.9L430.4 2556.9L438.4 2556.7L440.9 2556.3L442.9 2555.8L444.4 2555.1L445.9 2554.2L447.4 2552.9L448.9 2551.1L451.4 2546.9L453.4 2542.1L455.4 2536.0L457.9 2526.4L460.4 2515.1L467.9 2478.6L470.4 2468.2L472.4 2461.2L474.9 2454.0L476.4 2450.6L477.9 2447.8L479.4 2445.6L480.9 2444.1L482.4 2443.3L483.4 2443.1L484.4 2443.3L485.4 2443.8L486.4 2444.7L487.4 2446.0L489.4 2449.5L491.4 2454.3L494.9 2465.3L502.4 2493.4L505.9 2505.5L509.4 2515.8L513.4 2525.3L515.4 2529.2L517.9 2533.3L520.4 2536.8L522.9 2539.6L525.4 2542.0L528.4 2544.3L531.4 2546.2L534.4 2547.6L538.4 2549.0L542.9 2550.0L547.4 2550.7L552.9 2551.1L561.9 2551.1L585.4 2550.4L598.4 2550.5L612.4 2551.1L652.9 2553.4L677.9 2554.4L714.4 2555.4L757.9 2556.1" stroke="#ff14ff" stroke-width="2.3" fill="none" stroke-linejoin="round"/><path d="M173.0 2557.0L430.4 2557.0L435.4 2556.9L438.9 2556.6L441.4 2556.0L443.9 2555.0L445.9 2553.5L447.4 2551.9L448.9 2549.7L450.4 2546.7L452.9 2539.9L455.4 2530.0L457.9 2516.9L460.4 2500.7L469.9 2425.7L471.9 2411.6L473.9 2399.5L476.4 2387.5L478.4 2380.5L479.4 2378.0L480.9 2375.3L481.9 2374.2L482.4 2373.9L483.4 2373.7L484.4 2374.0L485.4 2374.9L486.4 2376.4L487.9 2379.5L489.9 2385.3L492.4 2394.9L496.4 2414.7L504.4 2460.3L507.9 2478.9L511.9 2497.1L515.4 2510.0L517.4 2516.2L519.9 2522.9L521.9 2527.4L524.4 2532.1L526.9 2535.9L529.4 2539.1L532.4 2542.0L535.4 2544.3L538.9 2546.2L542.4 2547.5L546.4 2548.4L550.9 2548.9L554.9 2548.9L559.9 2548.7L577.4 2546.7L584.4 2546.1L591.4 2545.9L598.4 2546.0L611.9 2546.8L651.9 2550.8L676.9 2552.7L713.4 2554.4L757.9 2555.6" stroke="#4a4a4a" stroke-width="2.5" fill="none" stroke-linejoin="round"/></g>
<path d="M172.5 2364.5H758.6M172.5 2565.5H758.6" stroke="#646464" stroke-width="3.3" fill="none"/>
<path d="M173.5 2363.5V2566.5M757.6 2363.5V2566.5" stroke="#3a3a3a" stroke-width="2.2" fill="none"/>
<text x="161.2" y="2363.3" font-size="14" fill="#777" textLength="81.6" lengthAdjust="spacingAndGlyphs">(x100,000)</text>
<clipPath id="c9_1"><rect x="886.0" y="2364.8" width="584.3" height="200.7"/></clipPath>
<path d="M878.0 2557.4H886.0M878.0 2544.8H886.0M878.0 2532.3H886.0M878.0 2519.8H886.0M873.5 2507.2H886.0M878.0 2494.6H886.0M878.0 2482.1H886.0M878.0 2469.5H886.0M878.0 2457.0H886.0M873.5 2444.4H886.0M878.0 2431.9H886.0M878.0 2419.3H886.0M878.0 2406.8H886.0M878.0 2394.2H886.0M873.5 2381.7H886.0M878.0 2369.1H886.0" stroke="#5e5e5e" stroke-width="2.8" fill="none"/>
<text class="ax" x="869.5" y="2512.4" font-size="18" fill="#727272" text-anchor="end" textLength="23.8" lengthAdjust="spacingAndGlyphs">2.5</text>
<text class="ax" x="869.5" y="2449.6" font-size="18" fill="#727272" text-anchor="end" textLength="23.8" lengthAdjust="spacingAndGlyphs">5.0</text>
<text class="ax" x="869.5" y="2386.9" font-size="18" fill="#727272" text-anchor="end" textLength="23.8" lengthAdjust="spacingAndGlyphs">7.5</text>
<path d="M888.6 2565.5V2577.0M908.3 2565.5V2571.5M927.9 2565.5V2571.5M947.5 2565.5V2571.5M967.2 2565.5V2571.5M986.8 2565.5V2577.0M1006.4 2565.5V2571.5M1026.1 2565.5V2571.5M1045.7 2565.5V2571.5M1065.3 2565.5V2571.5M1085.0 2565.5V2577.0M1104.6 2565.5V2571.5M1124.2 2565.5V2571.5M1143.8 2565.5V2571.5M1163.5 2565.5V2571.5M1183.1 2565.5V2577.0M1202.7 2565.5V2571.5M1222.4 2565.5V2571.5M1242.0 2565.5V2571.5M1261.6 2565.5V2571.5M1281.2 2565.5V2577.0M1300.9 2565.5V2571.5M1320.5 2565.5V2571.5M1340.1 2565.5V2571.5M1359.8 2565.5V2571.5M1379.4 2565.5V2577.0M1399.0 2565.5V2571.5M1418.7 2565.5V2571.5M1438.3 2565.5V2571.5M1457.9 2565.5V2571.5" stroke="#3a3a3a" stroke-width="2.0" fill="none"/>
<text class="ax" x="887.6" y="2593.0" font-size="18" fill="#727272" text-anchor="middle" textLength="34.3" lengthAdjust="spacingAndGlyphs">13.5</text>
<text class="ax" x="985.8" y="2593.0" font-size="18" fill="#727272" text-anchor="middle" textLength="34.3" lengthAdjust="spacingAndGlyphs">14.0</text>
<text class="ax" x="1084.0" y="2593.0" font-size="18" fill="#727272" text-anchor="middle" textLength="34.3" lengthAdjust="spacingAndGlyphs">14.5</text>
<text class="ax" x="1182.1" y="2593.0" font-size="18" fill="#727272" text-anchor="middle" textLength="34.3" lengthAdjust="spacingAndGlyphs">15.0</text>
<text class="ax" x="1280.2" y="2593.0" font-size="18" fill="#727272" text-anchor="middle" textLength="34.3" lengthAdjust="spacingAndGlyphs">15.5</text>
<text class="ax" x="1378.4" y="2593.0" font-size="18" fill="#727272" text-anchor="middle" textLength="34.3" lengthAdjust="spacingAndGlyphs">16.0</text>
<text x="1470.8" y="2593.0" font-size="18" fill="#727272" text-anchor="end" textLength="30.5" lengthAdjust="spacingAndGlyphs">min</text>
<g clip-path="url(#c9_1)"><path d="M886.3 2418.9L890.3 2426.9L896.8 2437.4L898.3 2440.7L900.3 2447.1L902.3 2454.8L904.3 2463.4L907.3 2477.9L909.3 2484.6L910.8 2488.4L911.3 2489.2L912.8 2490.7L913.8 2491.4L914.8 2491.9L916.3 2491.7L922.3 2489.4L922.8 2489.4L923.3 2489.6L923.8 2490.2L925.3 2493.1L925.8 2494.6L927.8 2504.3L929.3 2513.1L929.8 2515.5L930.3 2517.0L932.3 2519.0L933.3 2519.5L934.3 2519.6L935.3 2518.7L936.8 2516.6L937.8 2515.8L938.8 2516.0L940.3 2517.0L940.8 2517.5L941.3 2518.5L943.8 2526.2L945.8 2530.7L946.8 2532.5L947.8 2533.4L949.3 2533.2L951.8 2532.2L954.3 2530.2L955.3 2529.7L955.8 2529.7L959.8 2529.8L962.8 2532.0L966.8 2533.3L973.3 2533.4L975.8 2533.0L978.8 2531.8L979.8 2531.0L981.8 2528.6L983.3 2526.5L985.8 2522.0L987.8 2517.4L988.3 2517.1L992.3 2517.1L993.3 2517.7L994.8 2519.1L995.8 2519.6L1001.8 2519.5L1004.3 2518.9L1007.8 2517.5L1011.3 2515.6L1013.8 2513.6L1014.8 2513.3L1015.8 2513.6L1016.8 2514.3L1019.3 2516.8L1024.8 2527.1L1025.8 2528.3L1027.8 2529.1L1029.8 2529.6L1037.3 2529.7L1038.8 2530.0L1042.3 2532.1L1046.8 2534.3L1049.3 2535.9L1052.8 2538.8L1055.3 2541.4L1057.8 2543.6L1059.2 2544.6L1060.2 2544.7L1061.2 2544.5L1064.2 2543.3L1068.2 2541.2L1074.2 2539.5L1075.7 2538.5L1081.2 2534.0L1082.2 2533.5L1082.7 2533.4L1083.2 2533.6L1084.2 2534.5L1086.2 2537.0L1087.2 2538.7L1088.7 2541.9L1089.7 2543.3L1090.2 2543.5L1092.7 2543.5L1093.2 2543.1L1093.7 2542.2L1096.2 2535.2L1098.7 2529.6L1100.2 2527.1L1101.7 2525.7L1105.7 2523.1L1110.2 2520.9L1114.2 2518.5L1115.2 2518.3L1116.2 2518.4L1119.2 2519.4L1120.2 2519.6L1121.2 2519.5L1122.2 2519.1L1125.7 2516.8L1128.2 2513.8L1129.2 2513.3L1130.2 2513.8L1131.2 2514.9L1133.2 2517.4L1135.2 2520.8L1136.2 2521.9L1136.7 2522.1L1137.7 2521.8L1140.2 2520.1L1141.2 2519.7L1142.2 2519.7L1143.7 2520.5L1146.2 2522.9L1151.2 2529.6L1152.7 2530.9L1153.7 2530.8L1154.7 2530.2L1157.2 2528.1L1160.2 2525.0L1163.2 2522.5L1164.2 2522.1L1164.7 2522.1L1168.7 2523.3L1170.2 2523.2L1171.2 2522.8L1174.2 2520.8L1176.7 2518.8L1177.7 2518.5L1178.7 2518.9L1181.2 2520.9L1185.2 2522.3L1186.7 2523.0L1189.2 2524.9L1190.2 2526.2L1191.2 2527.9L1195.7 2536.7L1196.7 2537.7L1197.2 2537.6L1197.7 2537.2L1198.7 2535.9L1203.7 2527.0L1204.7 2526.1L1206.7 2525.2L1208.2 2524.9L1212.2 2524.9L1212.7 2525.0L1213.7 2526.2L1215.7 2529.6L1218.7 2533.2L1219.7 2533.8L1223.7 2533.8L1224.7 2533.6L1225.7 2532.9L1233.2 2525.9L1234.2 2525.2L1235.2 2524.9L1237.2 2525.3L1239.7 2526.6L1245.2 2532.3L1249.2 2536.2L1250.7 2537.3L1252.2 2537.7L1253.7 2537.3L1255.7 2536.4L1256.7 2535.6L1259.2 2532.8L1261.2 2531.8L1263.2 2531.3L1267.2 2531.3L1268.2 2530.7L1269.2 2529.3L1274.7 2520.0L1277.2 2516.8L1278.2 2516.0L1278.7 2515.9L1279.7 2516.2L1280.7 2516.8L1282.7 2518.6L1284.2 2520.3L1287.2 2524.8L1293.2 2535.0L1296.7 2540.2L1297.7 2541.3L1299.2 2542.4L1300.2 2542.8L1300.7 2542.8L1301.7 2541.7L1302.7 2539.6L1304.7 2534.1L1305.7 2530.7L1308.2 2519.7L1310.2 2507.3L1311.7 2499.8L1313.2 2494.4L1314.7 2491.5L1316.2 2489.5L1317.2 2489.1L1317.7 2489.2L1318.7 2490.1L1323.2 2495.7L1324.2 2496.5L1324.7 2496.7L1326.2 2496.5L1328.7 2495.4L1329.7 2494.0L1332.7 2486.0L1342.7 2462.9L1343.7 2461.3L1345.2 2459.8L1346.7 2458.7L1347.7 2458.4L1348.7 2458.7L1349.7 2459.9L1351.7 2463.5L1352.7 2465.6L1361.7 2491.8L1362.7 2494.3L1365.2 2499.5L1366.2 2501.1L1367.2 2501.9L1370.7 2503.0L1371.7 2503.7L1377.7 2510.5L1378.7 2510.8L1382.7 2510.8L1385.7 2509.6L1386.7 2509.6L1387.7 2510.1L1390.2 2512.2L1392.7 2515.2L1393.7 2515.9L1394.7 2515.7L1396.2 2514.7L1398.2 2512.9L1400.2 2510.4L1401.2 2509.6L1402.2 2509.6L1405.2 2510.8L1414.2 2510.8L1415.2 2511.0L1416.7 2511.9L1418.7 2513.9L1424.7 2524.2L1427.2 2528.0L1430.7 2532.3L1434.2 2535.6L1436.7 2537.3L1439.7 2538.7L1441.2 2538.9L1445.2 2539.0L1446.2 2539.3L1449.2 2541.7L1452.7 2545.3L1455.7 2547.7L1456.7 2547.9L1462.2 2547.9L1463.7 2548.3L1465.7 2549.2L1466.7 2549.9L1468.2 2551.2L1470.7 2554.3" stroke="#ff14ff" stroke-width="2.3" fill="none" stroke-linejoin="round"/><path d="M886.3 2373.6L887.3 2373.8L888.3 2374.5L890.3 2376.4L891.3 2378.3L892.8 2382.6L894.8 2390.3L898.8 2413.5L900.3 2420.1L904.3 2434.7L908.3 2447.8L909.8 2452.0L912.3 2456.6L913.3 2457.7L913.8 2457.9L918.3 2457.9L921.8 2456.8L922.8 2456.7L923.8 2457.2L924.8 2458.5L926.8 2462.2L927.3 2463.4L932.3 2481.0L936.3 2494.2L937.3 2496.5L937.8 2496.9L941.8 2496.9L942.3 2496.7L943.8 2494.7L948.8 2486.1L951.3 2483.8L952.8 2483.1L953.8 2483.4L954.8 2484.3L960.3 2491.7L962.3 2493.2L963.8 2494.0L964.8 2494.3L965.8 2494.4L979.8 2494.3L980.8 2493.3L982.8 2490.0L985.8 2485.8L987.8 2483.5L989.8 2482.2L997.8 2478.4L999.3 2477.3L1002.8 2473.5L1005.3 2471.6L1008.8 2469.8L1010.8 2469.3L1012.8 2469.5L1015.8 2470.5L1017.3 2471.2L1018.8 2472.4L1022.8 2476.0L1025.8 2479.3L1028.8 2483.5L1030.8 2487.4L1031.8 2489.0L1032.3 2489.4L1034.3 2490.3L1036.3 2490.6L1036.8 2490.5L1037.8 2489.6L1040.3 2486.1L1043.3 2477.5L1045.8 2473.0L1046.8 2472.0L1047.3 2471.8L1051.3 2471.8L1052.3 2472.4L1053.8 2474.6L1055.3 2477.5L1056.8 2481.9L1057.8 2485.6L1058.8 2490.4L1062.2 2511.2L1063.7 2515.8L1067.2 2522.7L1072.2 2530.6L1073.7 2532.1L1075.2 2532.9L1076.7 2533.4L1077.7 2533.4L1078.2 2533.1L1079.2 2531.7L1081.7 2526.2L1084.2 2519.2L1086.2 2514.6L1087.7 2511.7L1088.7 2510.8L1092.7 2510.8L1093.7 2511.3L1096.7 2515.0L1099.7 2520.4L1101.2 2521.6L1102.7 2522.1L1103.2 2521.9L1103.7 2521.2L1106.2 2516.1L1107.7 2514.7L1109.2 2513.6L1110.2 2513.3L1110.7 2513.5L1111.7 2514.8L1113.2 2517.5L1114.2 2518.4L1117.2 2519.4L1118.7 2519.6L1119.7 2519.5L1121.2 2518.6L1124.2 2515.7L1127.7 2511.0L1130.7 2507.4L1131.7 2507.0L1135.7 2507.0L1136.7 2507.4L1137.7 2508.2L1139.7 2510.0L1141.2 2511.9L1143.2 2514.9L1146.7 2522.0L1148.7 2525.5L1149.7 2526.7L1150.2 2527.1L1150.7 2527.1L1154.2 2527.1L1154.7 2527.0L1155.2 2526.6L1156.2 2524.8L1159.2 2517.4L1162.2 2510.7L1163.7 2507.9L1165.7 2505.6L1167.2 2504.2L1168.7 2503.3L1169.7 2503.2L1172.2 2503.7L1174.2 2504.7L1175.2 2506.4L1177.2 2511.2L1180.2 2517.3L1181.2 2518.4L1182.2 2518.4L1183.7 2518.0L1185.7 2516.9L1186.7 2514.9L1189.7 2505.1L1192.7 2492.4L1195.2 2486.8L1196.2 2485.5L1196.7 2485.2L1197.2 2485.3L1197.7 2485.6L1198.7 2487.0L1200.7 2491.6L1201.2 2493.6L1203.2 2506.7L1205.2 2517.8L1205.7 2519.5L1207.2 2522.5L1208.2 2524.0L1209.2 2524.8L1210.2 2524.8L1211.2 2524.3L1213.7 2522.1L1214.7 2520.4L1217.2 2514.8L1219.2 2511.4L1220.2 2510.0L1221.2 2509.5L1225.2 2509.5L1226.2 2510.0L1228.7 2512.0L1230.7 2512.9L1232.2 2513.3L1233.2 2513.3L1236.2 2512.1L1240.7 2512.2L1241.7 2513.7L1243.7 2518.7L1246.2 2524.0L1247.2 2525.6L1247.7 2526.1L1259.2 2526.1L1263.7 2524.8L1267.7 2522.5L1272.2 2522.3L1272.7 2522.4L1273.2 2522.8L1276.2 2527.4L1278.2 2529.2L1279.2 2529.8L1280.7 2529.9L1284.2 2528.8L1286.2 2528.8L1290.7 2530.2L1293.7 2532.0L1295.2 2532.5L1296.2 2532.4L1297.7 2531.3L1299.7 2529.6L1302.7 2526.3L1305.2 2525.4L1307.2 2524.9L1308.7 2524.9L1310.2 2525.5L1313.7 2527.7L1315.7 2529.4L1316.7 2529.9L1319.2 2529.8L1322.2 2528.7L1322.7 2528.4L1323.7 2526.6L1326.2 2519.4L1328.7 2509.4L1331.2 2501.2L1333.2 2496.6L1334.2 2494.8L1334.7 2494.3L1335.2 2494.2L1335.7 2494.6L1336.7 2496.3L1342.2 2509.9L1344.7 2513.4L1346.2 2514.6L1346.7 2514.6L1347.7 2514.1L1350.7 2510.5L1354.7 2506.5L1358.2 2503.4L1359.7 2501.2L1361.2 2497.0L1363.2 2489.1L1365.2 2478.0L1365.7 2476.4L1367.2 2474.3L1368.2 2473.7L1369.2 2474.0L1370.2 2475.1L1372.2 2478.9L1372.7 2480.6L1374.7 2491.5L1378.7 2510.2L1380.7 2523.0L1381.7 2528.2L1382.2 2529.7L1384.2 2531.8L1385.2 2532.3L1386.2 2532.6L1386.7 2532.3L1387.2 2531.7L1390.2 2524.6L1396.2 2512.8L1397.7 2510.8L1399.2 2509.8L1400.2 2509.5L1400.7 2509.6L1401.2 2510.1L1402.2 2511.7L1404.7 2517.1L1407.7 2524.4L1410.2 2527.8L1411.2 2528.6L1411.7 2528.7L1412.2 2528.7L1413.2 2528.2L1417.7 2524.5L1419.2 2523.6L1424.2 2523.7L1429.7 2525.9L1430.7 2526.1L1431.7 2526.0L1432.7 2525.5L1435.2 2523.3L1438.2 2520.2L1441.2 2517.7L1442.2 2517.2L1443.7 2517.5L1445.7 2519.1L1447.2 2520.9L1456.2 2539.6L1457.2 2541.1L1457.7 2541.5L1458.2 2541.5L1459.2 2541.0L1460.7 2539.3L1461.7 2537.7L1462.7 2535.0L1463.7 2530.4L1465.7 2519.1L1468.2 2501.5L1469.7 2494.8L1470.7 2491.6" stroke="#4a4a4a" stroke-width="2.5" fill="none" stroke-linejoin="round"/></g>
<path d="M885.0 2364.8H1471.3M885.0 2565.5H1471.3" stroke="#646464" stroke-width="3.3" fill="none"/>
<path d="M886.0 2363.8V2566.5M1470.3 2363.8V2566.5" stroke="#3a3a3a" stroke-width="2.2" fill="none"/>
<text x="875.2" y="2363.6" font-size="14" fill="#777" textLength="46.7" lengthAdjust="spacingAndGlyphs">(x100)</text>
<clipPath id="c10_0"><rect x="173.5" y="2624.8" width="584.1" height="200.9"/></clipPath>
<path d="M161.0 2818.2H173.5M165.5 2805.4H173.5M165.5 2792.6H173.5M165.5 2779.8H173.5M165.5 2767.0H173.5M161.0 2754.2H173.5M165.5 2741.4H173.5M165.5 2728.6H173.5M165.5 2715.8H173.5M165.5 2703.0H173.5M161.0 2690.2H173.5M165.5 2677.4H173.5M165.5 2664.6H173.5M165.5 2651.8H173.5M165.5 2639.0H173.5" stroke="#5e5e5e" stroke-width="2.8" fill="none"/>
<text class="ax" x="157.0" y="2823.4" font-size="18" fill="#727272" text-anchor="end" textLength="23.8" lengthAdjust="spacingAndGlyphs">0.0</text>
<text class="ax" x="157.0" y="2759.4" font-size="18" fill="#727272" text-anchor="end" textLength="23.8" lengthAdjust="spacingAndGlyphs">2.5</text>
<text class="ax" x="157.0" y="2695.4" font-size="18" fill="#727272" text-anchor="end" textLength="23.8" lengthAdjust="spacingAndGlyphs">5.0</text>
<path d="M191.1 2825.7V2837.2M210.8 2825.7V2831.7M230.4 2825.7V2831.7M250.1 2825.7V2831.7M269.7 2825.7V2831.7M289.4 2825.7V2837.2M309.0 2825.7V2831.7M328.7 2825.7V2831.7M348.3 2825.7V2831.7M368.0 2825.7V2831.7M387.6 2825.7V2837.2M407.3 2825.7V2831.7M426.9 2825.7V2831.7M446.6 2825.7V2831.7M466.2 2825.7V2831.7M485.9 2825.7V2837.2M505.5 2825.7V2831.7M525.2 2825.7V2831.7M544.8 2825.7V2831.7M564.5 2825.7V2831.7M584.1 2825.7V2837.2M603.8 2825.7V2831.7M623.4 2825.7V2831.7M643.1 2825.7V2831.7M662.7 2825.7V2831.7M682.4 2825.7V2837.2M702.0 2825.7V2831.7M721.6 2825.7V2831.7M741.3 2825.7V2831.7" stroke="#3a3a3a" stroke-width="2.0" fill="none"/>
<text class="ax" x="190.1" y="2853.2" font-size="18" fill="#727272" text-anchor="middle" textLength="34.3" lengthAdjust="spacingAndGlyphs">14.0</text>
<text class="ax" x="288.4" y="2853.2" font-size="18" fill="#727272" text-anchor="middle" textLength="34.3" lengthAdjust="spacingAndGlyphs">14.5</text>
<text class="ax" x="386.6" y="2853.2" font-size="18" fill="#727272" text-anchor="middle" textLength="34.3" lengthAdjust="spacingAndGlyphs">15.0</text>
<text class="ax" x="484.9" y="2853.2" font-size="18" fill="#727272" text-anchor="middle" textLength="34.3" lengthAdjust="spacingAndGlyphs">15.5</text>
<text class="ax" x="583.1" y="2853.2" font-size="18" fill="#727272" text-anchor="middle" textLength="34.3" lengthAdjust="spacingAndGlyphs">16.0</text>
<text class="ax" x="681.4" y="2853.2" font-size="18" fill="#727272" text-anchor="middle" textLength="34.3" lengthAdjust="spacingAndGlyphs">16.5</text>
<text x="758.1" y="2853.2" font-size="18" fill="#727272" text-anchor="end" textLength="30.5" lengthAdjust="spacingAndGlyphs">min</text>
<g clip-path="url(#c10_0)"><path d="M173.0 2817.4L413.4 2817.4L418.9 2817.3L422.4 2817.0L425.4 2816.4L427.9 2815.5L429.9 2814.2L431.9 2812.4L433.4 2810.4L434.9 2807.9L436.4 2804.7L437.9 2800.7L440.4 2792.0L442.9 2780.6L445.4 2766.5L447.9 2750.1L454.4 2704.3L457.9 2683.9L459.9 2675.1L461.9 2669.0L463.4 2666.2L464.4 2665.1L465.4 2664.8L465.9 2664.8L466.9 2665.4L467.9 2666.5L468.9 2668.1L470.9 2672.9L472.9 2679.3L476.9 2695.7L483.9 2729.0L487.4 2744.6L490.9 2758.2L493.9 2767.9L497.4 2777.2L499.4 2781.6L501.4 2785.4L503.4 2788.7L505.9 2792.3L508.4 2795.4L510.9 2798.0L513.9 2800.7L517.4 2803.2L521.4 2805.7L525.4 2807.6L529.9 2809.4L534.9 2811.0L540.4 2812.3L545.9 2813.4L558.9 2815.1L574.9 2816.2L595.4 2816.9L624.4 2817.3" stroke="#ff14ff" stroke-width="2.3" fill="none" stroke-linejoin="round"/><path d="M173.0 2817.6L412.8 2817.5L418.8 2817.4L422.8 2817.0L425.8 2816.2L428.3 2815.0L430.3 2813.6L432.3 2811.4L433.8 2809.2L435.3 2806.3L436.8 2802.7L438.3 2798.3L439.8 2793.0L441.3 2786.6L443.8 2773.7L446.8 2754.3L449.3 2735.5L456.3 2679.0L459.8 2655.4L461.8 2645.3L463.8 2638.2L464.8 2635.8L465.7 2634.3L466.2 2633.8L467.2 2633.6L467.7 2633.8L468.7 2634.7L470.2 2637.6L471.7 2642.1L473.7 2650.4L476.7 2666.4L484.2 2713.5L487.7 2733.5L491.2 2750.4L493.2 2758.6L495.2 2765.7L497.2 2771.9L499.7 2778.4L502.2 2783.9L505.2 2789.2L508.2 2793.4L511.2 2796.9L514.7 2800.1L518.7 2803.0L523.2 2805.5L528.2 2807.6L534.2 2809.6L540.7 2811.1L548.2 2812.5L556.7 2813.7L566.7 2814.7L577.7 2815.4L602.6 2816.5L635.1 2817.2L680.1 2817.5L757.0 2817.6" stroke="#4a4a4a" stroke-width="2.5" fill="none" stroke-linejoin="round"/></g>
<path d="M172.5 2624.8H758.6M172.5 2825.7H758.6" stroke="#646464" stroke-width="3.3" fill="none"/>
<path d="M173.5 2623.8V2826.7M757.6 2623.8V2826.7" stroke="#3a3a3a" stroke-width="2.2" fill="none"/>
<text x="161.2" y="2623.6" font-size="14" fill="#777" textLength="81.6" lengthAdjust="spacingAndGlyphs">(x100,000)</text>
<clipPath id="c10_1"><rect x="886.0" y="2625.1" width="584.3" height="200.6"/></clipPath>
<path d="M873.5 2818.2H886.0M878.0 2809.5H886.0M878.0 2800.8H886.0M878.0 2792.1H886.0M878.0 2783.4H886.0M873.5 2774.7H886.0M878.0 2766.0H886.0M878.0 2757.3H886.0M878.0 2748.6H886.0M878.0 2739.9H886.0M873.5 2731.2H886.0M878.0 2722.5H886.0M878.0 2713.8H886.0M878.0 2705.1H886.0M878.0 2696.4H886.0M873.5 2687.7H886.0M878.0 2679.0H886.0M878.0 2670.3H886.0M878.0 2661.6H886.0M878.0 2652.9H886.0M873.5 2644.2H886.0M878.0 2635.5H886.0M878.0 2626.8H886.0" stroke="#5e5e5e" stroke-width="2.8" fill="none"/>
<text class="ax" x="869.5" y="2823.4" font-size="18" fill="#727272" text-anchor="end" textLength="33.3" lengthAdjust="spacingAndGlyphs">0.00</text>
<text class="ax" x="869.5" y="2779.9" font-size="18" fill="#727272" text-anchor="end" textLength="33.3" lengthAdjust="spacingAndGlyphs">0.25</text>
<text class="ax" x="869.5" y="2736.4" font-size="18" fill="#727272" text-anchor="end" textLength="33.3" lengthAdjust="spacingAndGlyphs">0.50</text>
<text class="ax" x="869.5" y="2692.9" font-size="18" fill="#727272" text-anchor="end" textLength="33.3" lengthAdjust="spacingAndGlyphs">0.75</text>
<text class="ax" x="869.5" y="2649.4" font-size="18" fill="#727272" text-anchor="end" textLength="33.3" lengthAdjust="spacingAndGlyphs">1.00</text>
<path d="M904.7 2825.7V2837.2M924.4 2825.7V2831.7M944.0 2825.7V2831.7M963.7 2825.7V2831.7M983.3 2825.7V2831.7M1003.0 2825.7V2837.2M1022.6 2825.7V2831.7M1042.3 2825.7V2831.7M1061.9 2825.7V2831.7M1081.6 2825.7V2831.7M1101.2 2825.7V2837.2M1120.9 2825.7V2831.7M1140.5 2825.7V2831.7M1160.2 2825.7V2831.7M1179.8 2825.7V2831.7M1199.5 2825.7V2837.2M1219.1 2825.7V2831.7M1238.8 2825.7V2831.7M1258.4 2825.7V2831.7M1278.1 2825.7V2831.7M1297.7 2825.7V2837.2M1317.4 2825.7V2831.7M1337.0 2825.7V2831.7M1356.7 2825.7V2831.7M1376.3 2825.7V2831.7M1396.0 2825.7V2837.2M1415.6 2825.7V2831.7M1435.2 2825.7V2831.7M1454.9 2825.7V2831.7" stroke="#3a3a3a" stroke-width="2.0" fill="none"/>
<text class="ax" x="903.7" y="2853.2" font-size="18" fill="#727272" text-anchor="middle" textLength="34.3" lengthAdjust="spacingAndGlyphs">14.0</text>
<text class="ax" x="1002.0" y="2853.2" font-size="18" fill="#727272" text-anchor="middle" textLength="34.3" lengthAdjust="spacingAndGlyphs">14.5</text>
<text class="ax" x="1100.2" y="2853.2" font-size="18" fill="#727272" text-anchor="middle" textLength="34.3" lengthAdjust="spacingAndGlyphs">15.0</text>
<text class="ax" x="1198.5" y="2853.2" font-size="18" fill="#727272" text-anchor="middle" textLength="34.3" lengthAdjust="spacingAndGlyphs">15.5</text>
<text class="ax" x="1296.7" y="2853.2" font-size="18" fill="#727272" text-anchor="middle" textLength="34.3" lengthAdjust="spacingAndGlyphs">16.0</text>
<text class="ax" x="1395.0" y="2853.2" font-size="18" fill="#727272" text-anchor="middle" textLength="34.3" lengthAdjust="spacingAndGlyphs">16.5</text>
<text x="1470.8" y="2853.2" font-size="18" fill="#727272" text-anchor="end" textLength="30.5" lengthAdjust="spacingAndGlyphs">min</text>
<g clip-path="url(#c10_1)"><path d="M886.0 2817.7L1117.3 2817.6L1122.7 2817.5L1126.7 2817.2L1130.2 2816.4L1132.7 2815.4L1134.7 2814.1L1136.7 2812.2L1138.2 2810.3L1139.7 2807.8L1141.2 2804.8L1142.7 2801.1L1144.2 2796.6L1145.7 2791.3L1148.2 2780.5L1151.2 2764.5L1153.7 2749.0L1160.7 2702.3L1164.2 2683.1L1166.2 2674.9L1168.2 2669.1L1169.2 2667.2L1170.2 2665.8L1171.2 2665.1L1172.2 2664.9L1173.2 2665.2L1174.2 2666.0L1175.2 2667.3L1176.2 2669.1L1178.2 2674.0L1180.2 2680.6L1183.7 2695.4L1190.2 2727.9L1193.7 2744.0L1197.2 2757.8L1200.7 2769.0L1204.7 2779.2L1206.7 2783.4L1209.2 2788.0L1211.7 2791.8L1214.1 2795.1L1216.6 2797.8L1219.6 2800.6L1222.6 2802.9L1226.1 2805.1L1230.1 2807.2L1234.1 2808.8L1238.6 2810.2L1243.6 2811.4L1249.1 2812.5L1255.6 2813.4L1271.1 2814.9L1291.1 2816.0L1317.5 2816.7L1352.0 2817.2" stroke="#ff14ff" stroke-width="2.3" fill="none" stroke-linejoin="round"/><path d="M886.0 2817.5L1115.3 2817.4L1122.3 2817.2L1126.8 2816.8L1130.3 2815.9L1133.3 2814.5L1135.3 2813.0L1137.3 2810.8L1139.3 2807.9L1140.8 2805.0L1142.3 2801.4L1143.8 2797.0L1146.8 2785.6L1149.8 2770.3L1152.8 2751.2L1161.8 2681.7L1165.3 2658.3L1167.3 2648.1L1169.3 2640.7L1170.3 2638.2L1171.3 2636.5L1171.8 2636.0L1172.8 2635.6L1173.3 2635.7L1174.3 2636.4L1175.8 2639.0L1177.3 2643.1L1179.2 2650.7L1182.7 2668.3L1190.2 2712.4L1193.7 2731.2L1197.7 2749.5L1199.7 2757.2L1202.2 2765.6L1204.7 2772.8L1207.2 2778.8L1209.7 2783.9L1212.7 2788.9L1215.7 2793.1L1219.2 2796.9L1222.7 2800.0L1226.7 2802.7L1231.2 2805.2L1236.2 2807.2L1242.2 2809.1L1248.7 2810.6L1256.2 2811.9L1265.2 2813.0L1275.2 2814.0L1287.2 2814.8L1315.1 2816.0L1351.1 2816.8L1398.6 2817.2L1470.0 2817.4" stroke="#4a4a4a" stroke-width="2.5" fill="none" stroke-linejoin="round"/></g>
<path d="M885.0 2625.1H1471.3M885.0 2825.7H1471.3" stroke="#646464" stroke-width="3.3" fill="none"/>
<path d="M886.0 2624.1V2826.7M1470.3 2624.1V2826.7" stroke="#3a3a3a" stroke-width="2.2" fill="none"/>
<text x="875.2" y="2623.9" font-size="14" fill="#777" textLength="98.0" lengthAdjust="spacingAndGlyphs">(x1,000,000)</text>
<clipPath id="c11_0"><rect x="173.5" y="2885.1" width="584.1" height="200.8"/></clipPath>
<path d="M161.0 3078.4H173.5M165.5 3066.7H173.5M165.5 3054.9H173.5M165.5 3043.2H173.5M165.5 3031.4H173.5M161.0 3019.7H173.5M165.5 3008.0H173.5M165.5 2996.2H173.5M165.5 2984.5H173.5M165.5 2972.7H173.5M161.0 2961.0H173.5M165.5 2949.3H173.5M165.5 2937.5H173.5M165.5 2925.8H173.5M165.5 2914.0H173.5M161.0 2902.3H173.5M165.5 2890.6H173.5" stroke="#5e5e5e" stroke-width="2.8" fill="none"/>
<text class="ax" x="157.0" y="3083.6" font-size="18" fill="#727272" text-anchor="end" textLength="23.8" lengthAdjust="spacingAndGlyphs">0.0</text>
<text class="ax" x="157.0" y="3024.9" font-size="18" fill="#727272" text-anchor="end" textLength="23.8" lengthAdjust="spacingAndGlyphs">0.5</text>
<text class="ax" x="157.0" y="2966.2" font-size="18" fill="#727272" text-anchor="end" textLength="23.8" lengthAdjust="spacingAndGlyphs">1.0</text>
<text class="ax" x="157.0" y="2907.5" font-size="18" fill="#727272" text-anchor="end" textLength="23.8" lengthAdjust="spacingAndGlyphs">1.5</text>
<path d="M181.0 3085.9V3097.4M200.6 3085.9V3091.9M220.3 3085.9V3091.9M239.9 3085.9V3091.9M259.5 3085.9V3091.9M279.1 3085.9V3097.4M298.8 3085.9V3091.9M318.4 3085.9V3091.9M338.0 3085.9V3091.9M357.6 3085.9V3091.9M377.2 3085.9V3097.4M396.9 3085.9V3091.9M416.5 3085.9V3091.9M436.1 3085.9V3091.9M455.8 3085.9V3091.9M475.4 3085.9V3097.4M495.0 3085.9V3091.9M514.6 3085.9V3091.9M534.3 3085.9V3091.9M553.9 3085.9V3091.9M573.5 3085.9V3097.4M593.1 3085.9V3091.9M612.7 3085.9V3091.9M632.4 3085.9V3091.9M652.0 3085.9V3091.9M671.6 3085.9V3097.4M691.3 3085.9V3091.9M710.9 3085.9V3091.9M730.5 3085.9V3091.9M750.1 3085.9V3091.9" stroke="#3a3a3a" stroke-width="2.0" fill="none"/>
<text class="ax" x="180.0" y="3113.4" font-size="18" fill="#727272" text-anchor="middle" textLength="34.3" lengthAdjust="spacingAndGlyphs">14.0</text>
<text class="ax" x="278.1" y="3113.4" font-size="18" fill="#727272" text-anchor="middle" textLength="34.3" lengthAdjust="spacingAndGlyphs">14.5</text>
<text class="ax" x="376.2" y="3113.4" font-size="18" fill="#727272" text-anchor="middle" textLength="34.3" lengthAdjust="spacingAndGlyphs">15.0</text>
<text class="ax" x="474.4" y="3113.4" font-size="18" fill="#727272" text-anchor="middle" textLength="34.3" lengthAdjust="spacingAndGlyphs">15.5</text>
<text class="ax" x="572.5" y="3113.4" font-size="18" fill="#727272" text-anchor="middle" textLength="34.3" lengthAdjust="spacingAndGlyphs">16.0</text>
<text class="ax" x="670.6" y="3113.4" font-size="18" fill="#727272" text-anchor="middle" textLength="34.3" lengthAdjust="spacingAndGlyphs">16.5</text>
<text x="758.1" y="3113.4" font-size="18" fill="#727272" text-anchor="end" textLength="30.5" lengthAdjust="spacingAndGlyphs">min</text>
<g clip-path="url(#c11_0)"><path d="M435.5 3077.9L438.0 3077.0L440.0 3076.0L442.0 3074.5L444.0 3072.5L446.0 3069.9L447.5 3067.4L449.5 3063.4L451.0 3059.8L454.0 3050.9L457.4 3037.8L460.4 3024.6L466.9 2994.2L470.4 2980.1L472.4 2973.8L474.4 2969.2L475.4 2967.7L476.4 2966.6L477.9 2965.9L479.4 2966.3L480.9 2967.8L482.4 2970.4L483.9 2973.9L486.4 2981.2L493.9 3005.6L500.8 3030.4L504.3 3041.4L506.8 3048.0L509.3 3053.4L512.3 3058.7L515.3 3062.7L518.8 3066.3L522.8 3069.2L527.3 3071.4L532.3 3073.0L538.2 3074.3L546.2 3075.3L556.7 3076.1L570.2 3076.9" stroke="#ff14ff" stroke-width="2.3" fill="none" stroke-linejoin="round"/><path d="M173.0 3077.5L426.3 3077.5L431.8 3077.4L435.8 3077.0L438.8 3076.2L441.3 3075.0L443.3 3073.5L445.3 3071.1L446.8 3068.7L448.3 3065.5L449.8 3061.5L451.3 3056.6L453.8 3046.0L456.3 3032.2L458.8 3015.5L461.3 2996.4L467.7 2943.1L471.2 2918.5L473.2 2907.6L475.2 2899.6L476.2 2896.8L477.2 2894.8L478.2 2893.7L479.2 2893.4L479.7 2893.6L480.7 2894.6L481.7 2896.4L482.7 2898.9L484.2 2904.1L486.2 2913.3L489.7 2934.0L496.2 2978.2L499.7 3000.3L503.2 3019.1L506.7 3034.1L508.7 3041.1L510.7 3047.0L512.7 3051.9L514.7 3056.0L517.2 3060.1L519.7 3063.3L522.2 3065.9L525.2 3068.2L528.2 3070.0L531.7 3071.5L535.7 3072.8L540.7 3074.0L546.2 3074.9L552.7 3075.6L569.2 3076.6L589.1 3077.1L618.1 3077.4L757.0 3077.5" stroke="#4a4a4a" stroke-width="2.5" fill="none" stroke-linejoin="round"/><path d="M288.8 3075.8L321.0 3075.8" stroke="#ff14ff" stroke-width="2.3" fill="none" stroke-linejoin="round"/></g>
<path d="M172.5 2885.1H758.6M172.5 3085.9H758.6" stroke="#646464" stroke-width="3.3" fill="none"/>
<path d="M173.5 2884.1V3086.9M757.6 2884.1V3086.9" stroke="#3a3a3a" stroke-width="2.2" fill="none"/>
<text x="161.2" y="2883.9" font-size="14" fill="#777" textLength="81.6" lengthAdjust="spacingAndGlyphs">(x100,000)</text>
<clipPath id="c11_1"><rect x="886.0" y="2885.4" width="584.3" height="200.5"/></clipPath>
<path d="M873.5 3077.6H886.0M878.0 3068.8H886.0M878.0 3060.1H886.0M878.0 3051.3H886.0M878.0 3042.5H886.0M873.5 3033.8H886.0M878.0 3025.0H886.0M878.0 3016.2H886.0M878.0 3007.5H886.0M878.0 2998.7H886.0M873.5 2989.9H886.0M878.0 2981.2H886.0M878.0 2972.4H886.0M878.0 2963.7H886.0M878.0 2954.9H886.0M873.5 2946.1H886.0M878.0 2937.4H886.0M878.0 2928.6H886.0M878.0 2919.8H886.0M878.0 2911.1H886.0M873.5 2902.3H886.0M878.0 2893.5H886.0" stroke="#5e5e5e" stroke-width="2.8" fill="none"/>
<text class="ax" x="869.5" y="3082.8" font-size="18" fill="#727272" text-anchor="end" textLength="23.8" lengthAdjust="spacingAndGlyphs">0.0</text>
<text class="ax" x="869.5" y="3039.0" font-size="18" fill="#727272" text-anchor="end" textLength="23.8" lengthAdjust="spacingAndGlyphs">0.5</text>
<text class="ax" x="869.5" y="2995.1" font-size="18" fill="#727272" text-anchor="end" textLength="23.8" lengthAdjust="spacingAndGlyphs">1.0</text>
<text class="ax" x="869.5" y="2951.3" font-size="18" fill="#727272" text-anchor="end" textLength="23.8" lengthAdjust="spacingAndGlyphs">1.5</text>
<text class="ax" x="869.5" y="2907.5" font-size="18" fill="#727272" text-anchor="end" textLength="23.8" lengthAdjust="spacingAndGlyphs">2.0</text>
<path d="M894.6 3085.9V3097.4M914.2 3085.9V3091.9M933.9 3085.9V3091.9M953.5 3085.9V3091.9M973.1 3085.9V3091.9M992.7 3085.9V3097.4M1012.4 3085.9V3091.9M1032.0 3085.9V3091.9M1051.6 3085.9V3091.9M1071.2 3085.9V3091.9M1090.8 3085.9V3097.4M1110.5 3085.9V3091.9M1130.1 3085.9V3091.9M1149.7 3085.9V3091.9M1169.4 3085.9V3091.9M1189.0 3085.9V3097.4M1208.6 3085.9V3091.9M1228.2 3085.9V3091.9M1247.9 3085.9V3091.9M1267.5 3085.9V3091.9M1287.1 3085.9V3097.4M1306.7 3085.9V3091.9M1326.3 3085.9V3091.9M1346.0 3085.9V3091.9M1365.6 3085.9V3091.9M1385.2 3085.9V3097.4M1404.9 3085.9V3091.9M1424.5 3085.9V3091.9M1444.1 3085.9V3091.9M1463.7 3085.9V3091.9" stroke="#3a3a3a" stroke-width="2.0" fill="none"/>
<text class="ax" x="893.6" y="3113.4" font-size="18" fill="#727272" text-anchor="middle" textLength="34.3" lengthAdjust="spacingAndGlyphs">14.0</text>
<text class="ax" x="991.7" y="3113.4" font-size="18" fill="#727272" text-anchor="middle" textLength="34.3" lengthAdjust="spacingAndGlyphs">14.5</text>
<text class="ax" x="1089.8" y="3113.4" font-size="18" fill="#727272" text-anchor="middle" textLength="34.3" lengthAdjust="spacingAndGlyphs">15.0</text>
<text class="ax" x="1188.0" y="3113.4" font-size="18" fill="#727272" text-anchor="middle" textLength="34.3" lengthAdjust="spacingAndGlyphs">15.5</text>
<text class="ax" x="1286.1" y="3113.4" font-size="18" fill="#727272" text-anchor="middle" textLength="34.3" lengthAdjust="spacingAndGlyphs">16.0</text>
<text class="ax" x="1384.2" y="3113.4" font-size="18" fill="#727272" text-anchor="middle" textLength="34.3" lengthAdjust="spacingAndGlyphs">16.5</text>
<text x="1470.8" y="3113.4" font-size="18" fill="#727272" text-anchor="end" textLength="30.5" lengthAdjust="spacingAndGlyphs">min</text>
<g clip-path="url(#c11_1)"><path d="M886.3 3057.2L890.8 3056.1L894.3 3055.4L896.3 3055.2L897.8 3055.4L900.8 3056.5L904.8 3057.5L906.8 3057.7L908.8 3057.4L911.8 3056.6L915.3 3053.8L916.3 3053.4L926.3 3053.4L927.3 3053.3L928.3 3052.7L930.8 3050.5L933.3 3047.5L934.3 3047.1L935.8 3047.7L942.3 3051.9L945.3 3053.2L946.3 3053.4L947.3 3053.4L948.8 3053.0L951.3 3051.7L952.8 3050.4L954.3 3048.3L955.3 3045.5L956.8 3039.5L960.3 3027.7L962.3 3022.7L967.3 3011.8L968.8 3006.8L970.3 2998.8L971.3 2992.1L977.8 2939.3L982.3 2908.1L983.3 2903.4L984.8 2898.9L985.8 2896.7L986.8 2895.7L987.3 2895.7L987.8 2896.0L988.8 2897.2L990.8 2901.2L991.8 2904.2L995.3 2919.6L1001.8 2950.3L1003.3 2955.8L1009.3 2975.4L1011.8 2985.1L1019.8 3024.8L1020.8 3028.5L1021.8 3031.4L1022.8 3032.5L1024.8 3033.8L1025.8 3034.0L1027.3 3033.9L1034.3 3031.5L1036.8 3030.5L1047.3 3025.3L1048.3 3025.0L1049.3 3025.1L1054.3 3028.1L1056.3 3029.6L1057.8 3031.4L1063.2 3039.0L1070.7 3046.8L1072.7 3047.6L1080.7 3049.6L1092.2 3049.7L1096.7 3050.2L1098.2 3051.4L1102.7 3056.4L1103.7 3057.1L1106.2 3057.6L1108.2 3057.6L1109.7 3056.5L1114.2 3051.8L1115.2 3051.0L1118.7 3049.4L1119.7 3049.2L1121.2 3049.2L1124.2 3049.8L1127.7 3051.0L1131.7 3052.8L1138.7 3056.6L1140.2 3057.2L1144.2 3057.7L1151.7 3057.8L1156.2 3059.5L1161.7 3062.2L1165.2 3063.4L1170.7 3064.3L1175.7 3064.1L1179.2 3064.4L1182.2 3065.0L1186.2 3066.5L1190.7 3067.3L1192.2 3067.4L1193.7 3067.0L1206.7 3062.0L1209.2 3061.3L1214.7 3060.2L1219.7 3057.7L1223.2 3056.6L1225.2 3056.4L1227.2 3056.9L1230.2 3058.2L1234.7 3061.2L1238.2 3063.1L1240.2 3063.9L1241.7 3064.1L1248.2 3064.1L1249.7 3063.8L1253.7 3062.3L1260.2 3062.3L1264.7 3064.1L1269.7 3064.6L1271.7 3065.1L1277.2 3069.3L1278.7 3070.0L1281.2 3069.7L1289.7 3068.0L1295.7 3067.3L1299.2 3065.4L1302.7 3064.3L1304.7 3064.1L1306.7 3064.6L1309.7 3066.0L1313.2 3069.1L1315.7 3070.8L1317.2 3071.5L1318.2 3071.7L1319.2 3071.6L1322.2 3070.3L1323.7 3070.0L1325.2 3070.3L1328.7 3071.6L1330.2 3071.7L1331.7 3071.3L1343.2 3066.0L1345.7 3065.0L1351.2 3064.1L1359.2 3064.1L1360.2 3063.9L1362.2 3062.7L1368.2 3057.2L1370.2 3055.8L1371.7 3055.2L1372.2 3055.1L1373.2 3055.5L1375.7 3057.5L1379.2 3059.7L1380.2 3060.1L1381.2 3060.2L1382.2 3060.0L1383.2 3059.4L1385.2 3058.0L1388.7 3055.2L1391.2 3054.1L1392.7 3053.8L1394.2 3054.1L1396.7 3055.2L1399.2 3057.2L1400.2 3057.7L1401.2 3057.4L1403.7 3055.9L1404.7 3055.9L1405.7 3056.2L1408.7 3057.5L1412.7 3060.5L1416.7 3062.1L1418.2 3062.3L1420.7 3062.0L1423.7 3061.4L1427.7 3059.8L1430.2 3059.9L1434.2 3060.9L1438.7 3063.3L1443.2 3065.1L1453.7 3067.8L1458.7 3069.6L1463.2 3070.4L1470.7 3070.5" stroke="#ff14ff" stroke-width="2.3" fill="none" stroke-linejoin="round"/><path d="M886.0 3077.6L917.0 3077.6L918.0 3077.4L920.5 3075.9L921.5 3075.6L922.5 3075.8L925.0 3077.3L926.0 3077.6L1117.8 3077.6L1118.8 3077.4L1121.3 3076.0L1122.3 3075.6L1123.3 3075.8L1125.8 3077.2L1127.3 3077.6L1151.8 3078.1L1186.7 3078.1L1187.7 3078.0L1189.2 3077.4L1193.7 3074.6L1199.7 3071.3L1204.7 3069.7L1208.2 3069.2L1210.2 3069.4L1215.7 3070.9L1223.7 3071.6L1226.2 3072.0L1228.2 3072.8L1231.7 3074.5L1235.7 3077.4L1236.7 3077.9L1237.7 3078.1L1470.0 3077.9" stroke="#4a4a4a" stroke-width="2.5" fill="none" stroke-linejoin="round"/></g>
<path d="M885.0 2885.4H1471.3M885.0 3085.9H1471.3" stroke="#646464" stroke-width="3.3" fill="none"/>
<path d="M886.0 2884.4V3086.9M1470.3 2884.4V3086.9" stroke="#3a3a3a" stroke-width="2.2" fill="none"/>
<text x="875.2" y="2884.2" font-size="14" fill="#777" textLength="63.1" lengthAdjust="spacingAndGlyphs">(x1,000)</text>
<text class="big" x="0" y="0" font-size="52" transform="translate(447.6 3190) scale(0.86 1)">a</text>
<text class="big" x="1247.0" y="3183.5" font-size="48">b</text>
</g>
</svg></body></html>
